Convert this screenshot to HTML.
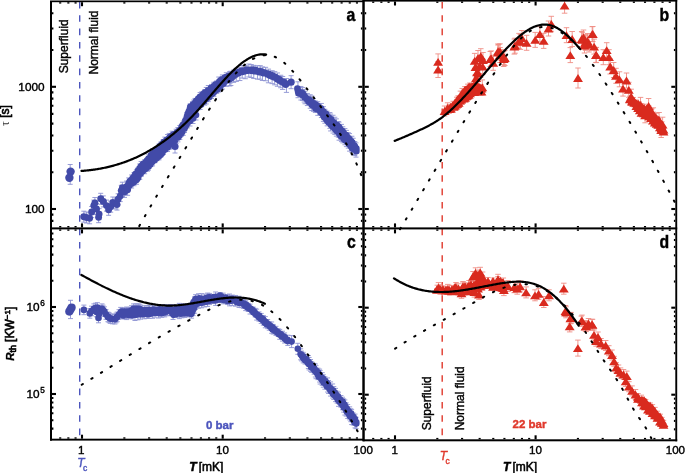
<!DOCTYPE html>
<html><head><meta charset="utf-8"><title>Figure</title>
<style>html,body{margin:0;padding:0;background:#fff;} svg{display:block;will-change:transform;} text{font-family:"Liberation Sans",sans-serif;}</style>
</head><body>
<svg width="685" height="473" viewBox="0 0 685 473" font-family="Liberation Sans, sans-serif"><line x1="79.7" y1="1.9" x2="79.7" y2="440" stroke="#4c55bd" stroke-width="1.4" stroke-dasharray="6.6 6.733"/>
<line x1="442.2" y1="1.9" x2="442.2" y2="440" stroke="#e0392c" stroke-width="1.4" stroke-dasharray="6.6 6.733"/>
<path d="M70.2,164.5V184.3M67.7,164.5H72.7M67.7,184.3H72.7" stroke="#8c92d2" stroke-width="0.9" fill="none"/>
<path d="M70.6,171.6V171.6M68.1,171.6H73.1M68.1,171.6H73.1" stroke="#8c92d2" stroke-width="0.9" fill="none"/>
<path d="M69.4,177.8V177.8M66.9,177.8H71.9M66.9,177.8H71.9" stroke="#8c92d2" stroke-width="0.9" fill="none"/>
<path d="M83.8,211.2V222.2M81.3,211.2H86.3M81.3,222.2H86.3" stroke="#8c92d2" stroke-width="0.9" fill="none"/>
<path d="M86.5,212V223M84,212H89M84,223H89" stroke="#8c92d2" stroke-width="0.9" fill="none"/>
<path d="M89.6,212.8V223.8M87.1,212.8H92.1M87.1,223.8H92.1" stroke="#8c92d2" stroke-width="0.9" fill="none"/>
<path d="M91.7,206.5V217.5M89.2,206.5H94.2M89.2,217.5H94.2" stroke="#8c92d2" stroke-width="0.9" fill="none"/>
<path d="M93.8,200.1V211.1M91.3,200.1H96.3M91.3,211.1H96.3" stroke="#8c92d2" stroke-width="0.9" fill="none"/>
<path d="M94.9,197.5V208.5M92.4,197.5H97.4M92.4,208.5H97.4" stroke="#8c92d2" stroke-width="0.9" fill="none"/>
<path d="M96.5,203.5V214.5M94,203.5H99M94,214.5H99" stroke="#8c92d2" stroke-width="0.9" fill="none"/>
<path d="M98.6,211.7V222.7M96.1,211.7H101.1M96.1,222.7H101.1" stroke="#8c92d2" stroke-width="0.9" fill="none"/>
<path d="M99.1,208.6V219.6M96.6,208.6H101.6M96.6,219.6H101.6" stroke="#8c92d2" stroke-width="0.9" fill="none"/>
<path d="M100.7,193.3V204.3M98.2,193.3H103.2M98.2,204.3H103.2" stroke="#8c92d2" stroke-width="0.9" fill="none"/>
<path d="M103.3,195.9V206.9M100.8,195.9H105.8M100.8,206.9H105.8" stroke="#8c92d2" stroke-width="0.9" fill="none"/>
<path d="M106.5,200.1V211.1M104,200.1H109M104,211.1H109" stroke="#8c92d2" stroke-width="0.9" fill="none"/>
<path d="M108.6,204.3V215.3M106.1,204.3H111.1M106.1,215.3H111.1" stroke="#8c92d2" stroke-width="0.9" fill="none"/>
<path d="M110.7,201.2V212.2M108.2,201.2H113.2M108.2,212.2H113.2" stroke="#8c92d2" stroke-width="0.9" fill="none"/>
<path d="M112.8,197V208M110.3,197H115.3M110.3,208H115.3" stroke="#8c92d2" stroke-width="0.9" fill="none"/>
<path d="M116,198V209M113.5,198H118.5M113.5,209H118.5" stroke="#8c92d2" stroke-width="0.9" fill="none"/>
<path d="M118.1,193.8V204.8M115.6,193.8H120.6M115.6,204.8H120.6" stroke="#8c92d2" stroke-width="0.9" fill="none"/>
<path d="M117,199.1V210.1M114.5,199.1H119.5M114.5,210.1H119.5" stroke="#8c92d2" stroke-width="0.9" fill="none"/>
<path d="M120.2,190.6V201.6M117.7,190.6H122.7M117.7,201.6H122.7" stroke="#8c92d2" stroke-width="0.9" fill="none"/>
<path d="M121.3,185.3V196.3M118.8,185.3H123.8M118.8,196.3H123.8" stroke="#8c92d2" stroke-width="0.9" fill="none"/>
<path d="M122.4,182.2V193.2M119.9,182.2H124.9M119.9,193.2H124.9" stroke="#8c92d2" stroke-width="0.9" fill="none"/>
<path d="M124.5,186.4V197.4M122,186.4H127M122,197.4H127" stroke="#8c92d2" stroke-width="0.9" fill="none"/>
<path d="M126.6,181.1V192.1M124.1,181.1H129.1M124.1,192.1H129.1" stroke="#8c92d2" stroke-width="0.9" fill="none"/>
<path d="M128.7,177.9V188.9M126.2,177.9H131.2M126.2,188.9H131.2" stroke="#8c92d2" stroke-width="0.9" fill="none"/>
<path d="M127.6,184.3V195.3M125.1,184.3H130.1M125.1,195.3H130.1" stroke="#8c92d2" stroke-width="0.9" fill="none"/>
<path d="M129.42,179.73V188.27M126.92,179.73H131.92M126.92,188.27H131.92" stroke="#8c92d2" stroke-width="0.9" fill="none"/>
<path d="M131.61,174.97V188.03M129.11,174.97H134.11M129.11,188.03H134.11" stroke="#8c92d2" stroke-width="0.9" fill="none"/>
<path d="M133.94,172.76V185.74M131.44,172.76H136.44M131.44,185.74H136.44" stroke="#8c92d2" stroke-width="0.9" fill="none"/>
<path d="M136.45,169.7V184.3M133.95,169.7H138.95M133.95,184.3H138.95" stroke="#8c92d2" stroke-width="0.9" fill="none"/>
<path d="M137.4,168.15V180.52M134.9,168.15H139.9M134.9,180.52H139.9" stroke="#8c92d2" stroke-width="0.9" fill="none"/>
<path d="M139.75,164V179.34M137.25,164H142.25M137.25,179.34H142.25" stroke="#8c92d2" stroke-width="0.9" fill="none"/>
<path d="M141.1,161.48V176.52M138.6,161.48H143.6M138.6,176.52H143.6" stroke="#8c92d2" stroke-width="0.9" fill="none"/>
<path d="M144.62,159.76V173.74M142.12,159.76H147.12M142.12,173.74H147.12" stroke="#8c92d2" stroke-width="0.9" fill="none"/>
<path d="M147.53,157.84V171.16M145.03,157.84H150.03M145.03,171.16H150.03" stroke="#8c92d2" stroke-width="0.9" fill="none"/>
<path d="M148.34,154.06V170.27M145.84,154.06H150.84M145.84,170.27H150.84" stroke="#8c92d2" stroke-width="0.9" fill="none"/>
<path d="M150.85,153.38V166.28M148.35,153.38H153.35M148.35,166.28H153.35" stroke="#8c92d2" stroke-width="0.9" fill="none"/>
<path d="M152.56,149.12V165.88M150.06,149.12H155.06M150.06,165.88H155.06" stroke="#8c92d2" stroke-width="0.9" fill="none"/>
<path d="M154.71,148.57V162.77M152.21,148.57H157.21M152.21,162.77H157.21" stroke="#8c92d2" stroke-width="0.9" fill="none"/>
<path d="M156.57,146.94V160.72M154.07,146.94H159.07M154.07,160.72H159.07" stroke="#8c92d2" stroke-width="0.9" fill="none"/>
<path d="M158.99,144.12V159.88M156.49,144.12H161.49M156.49,159.88H161.49" stroke="#8c92d2" stroke-width="0.9" fill="none"/>
<path d="M160.81,142.1V156.97M158.31,142.1H163.31M158.31,156.97H163.31" stroke="#8c92d2" stroke-width="0.9" fill="none"/>
<path d="M163.22,139.7V154.44M160.72,139.7H165.72M160.72,154.44H165.72" stroke="#8c92d2" stroke-width="0.9" fill="none"/>
<path d="M164.83,137.12V152.08M162.33,137.12H167.33M162.33,152.08H167.33" stroke="#8c92d2" stroke-width="0.9" fill="none"/>
<path d="M167.57,134.52V151.48M165.07,134.52H170.07M165.07,151.48H170.07" stroke="#8c92d2" stroke-width="0.9" fill="none"/>
<path d="M169.22,133.42V149.38M166.72,133.42H171.72M166.72,149.38H171.72" stroke="#8c92d2" stroke-width="0.9" fill="none"/>
<path d="M172.13,131.21V148.39M169.63,131.21H174.63M169.63,148.39H174.63" stroke="#8c92d2" stroke-width="0.9" fill="none"/>
<path d="M173.6,131.69V144.51M171.1,131.69H176.1M171.1,144.51H176.1" stroke="#8c92d2" stroke-width="0.9" fill="none"/>
<path d="M176.15,129.22V143.58M173.65,129.22H178.65M173.65,143.58H178.65" stroke="#8c92d2" stroke-width="0.9" fill="none"/>
<path d="M177.91,127.53V141.87M175.41,127.53H180.41M175.41,141.87H180.41" stroke="#8c92d2" stroke-width="0.9" fill="none"/>
<path d="M179.8,125.51V139.54M177.3,125.51H182.3M177.3,139.54H182.3" stroke="#8c92d2" stroke-width="0.9" fill="none"/>
<path d="M181.31,124.34V136.36M178.81,124.34H183.81M178.81,136.36H183.81" stroke="#8c92d2" stroke-width="0.9" fill="none"/>
<path d="M183.22,120.96V135.39M180.72,120.96H185.72M180.72,135.39H185.72" stroke="#8c92d2" stroke-width="0.9" fill="none"/>
<path d="M184.51,119.49V132.51M182.01,119.49H187.01M182.01,132.51H187.01" stroke="#8c92d2" stroke-width="0.9" fill="none"/>
<path d="M185.39,117.18V128.82M182.89,117.18H187.89M182.89,128.82H187.89" stroke="#8c92d2" stroke-width="0.9" fill="none"/>
<path d="M186.9,112.41V127.59M184.4,112.41H189.4M184.4,127.59H189.4" stroke="#8c92d2" stroke-width="0.9" fill="none"/>
<path d="M188.16,110.49V124.18M185.66,110.49H190.66M185.66,124.18H190.66" stroke="#8c92d2" stroke-width="0.9" fill="none"/>
<path d="M189.41,106.26V123.07M186.91,106.26H191.91M186.91,123.07H191.91" stroke="#8c92d2" stroke-width="0.9" fill="none"/>
<path d="M190.23,103.75V120.25M187.73,103.75H192.73M187.73,120.25H192.73" stroke="#8c92d2" stroke-width="0.9" fill="none"/>
<path d="M192.4,101.78V117.95M189.9,101.78H194.9M189.9,117.95H194.9" stroke="#8c92d2" stroke-width="0.9" fill="none"/>
<path d="M193.71,100.06V115.41M191.21,100.06H196.21M191.21,115.41H196.21" stroke="#8c92d2" stroke-width="0.9" fill="none"/>
<path d="M195.04,98.42V112.78M192.54,98.42H197.54M192.54,112.78H197.54" stroke="#8c92d2" stroke-width="0.9" fill="none"/>
<path d="M198.04,96.86V109.74M195.54,96.86H200.54M195.54,109.74H200.54" stroke="#8c92d2" stroke-width="0.9" fill="none"/>
<path d="M200.11,92.53V109.47M197.61,92.53H202.61M197.61,109.47H202.61" stroke="#8c92d2" stroke-width="0.9" fill="none"/>
<path d="M201.67,91.88V106.59M199.17,91.88H204.17M199.17,106.59H204.17" stroke="#8c92d2" stroke-width="0.9" fill="none"/>
<path d="M204.71,89.83V105.1M202.21,89.83H207.21M202.21,105.1H207.21" stroke="#8c92d2" stroke-width="0.9" fill="none"/>
<path d="M206.25,87.46V103.94M203.75,87.46H208.75M203.75,103.94H208.75" stroke="#8c92d2" stroke-width="0.9" fill="none"/>
<path d="M208.28,85.53V101.67M205.78,85.53H210.78M205.78,101.67H210.78" stroke="#8c92d2" stroke-width="0.9" fill="none"/>
<path d="M211.54,84.47V98.53M209.04,84.47H214.04M209.04,98.53H214.04" stroke="#8c92d2" stroke-width="0.9" fill="none"/>
<path d="M213.8,82.29V96.31M211.3,82.29H216.3M211.3,96.31H216.3" stroke="#8c92d2" stroke-width="0.9" fill="none"/>
<path d="M216.76,80.86V93.34M214.26,80.86H219.26M214.26,93.34H219.26" stroke="#8c92d2" stroke-width="0.9" fill="none"/>
<path d="M218.76,77.04V92.06M216.26,77.04H221.26M216.26,92.06H221.26" stroke="#8c92d2" stroke-width="0.9" fill="none"/>
<path d="M222.38,74.93V89.07M219.88,74.93H224.88M219.88,89.07H224.88" stroke="#8c92d2" stroke-width="0.9" fill="none"/>
<path d="M226.29,72.73V86.27M223.79,72.73H228.79M223.79,86.27H228.79" stroke="#8c92d2" stroke-width="0.9" fill="none"/>
<path d="M230.02,71.88V83.12M227.52,71.88H232.52M227.52,83.12H232.52" stroke="#8c92d2" stroke-width="0.9" fill="none"/>
<path d="M187,118V128M184.5,118H189.5M184.5,128H189.5" stroke="#8c92d2" stroke-width="0.9" fill="none"/>
<path d="M190,116V126M187.5,116H192.5M187.5,126H192.5" stroke="#8c92d2" stroke-width="0.9" fill="none"/>
<path d="M193,113.5V123.5M190.5,113.5H195.5M190.5,123.5H195.5" stroke="#8c92d2" stroke-width="0.9" fill="none"/>
<path d="M196,110V120M193.5,110H198.5M193.5,120H198.5" stroke="#8c92d2" stroke-width="0.9" fill="none"/>
<path d="M229.67,71.87V85.99M227.07,71.87H232.27M227.07,85.99H232.27" stroke="#8c92d2" stroke-width="0.9" fill="none"/>
<path d="M230.81,71.25V85.53M228.21,71.25H233.41M228.21,85.53H233.41" stroke="#8c92d2" stroke-width="0.9" fill="none"/>
<path d="M233.55,70.07V82.35M230.95,70.07H236.15M230.95,82.35H236.15" stroke="#8c92d2" stroke-width="0.9" fill="none"/>
<path d="M236.28,68.42V81.41M233.68,68.42H238.88M233.68,81.41H238.88" stroke="#8c92d2" stroke-width="0.9" fill="none"/>
<path d="M239.79,67.3V80.55M237.19,67.3H242.39M237.19,80.55H242.39" stroke="#8c92d2" stroke-width="0.9" fill="none"/>
<path d="M242.19,65.46V78.05M239.59,65.46H244.79M239.59,78.05H244.79" stroke="#8c92d2" stroke-width="0.9" fill="none"/>
<path d="M245.19,65.46V78.73M242.59,65.46H247.79M242.59,78.73H247.79" stroke="#8c92d2" stroke-width="0.9" fill="none"/>
<path d="M248.81,64.02V76.97M246.21,64.02H251.41M246.21,76.97H251.41" stroke="#8c92d2" stroke-width="0.9" fill="none"/>
<path d="M251.18,64.54V77.48M248.58,64.54H253.78M248.58,77.48H253.78" stroke="#8c92d2" stroke-width="0.9" fill="none"/>
<path d="M253.78,65.36V78.41M251.18,65.36H256.38M251.18,78.41H256.38" stroke="#8c92d2" stroke-width="0.9" fill="none"/>
<path d="M257.47,65.75V79.16M254.87,65.75H260.07M254.87,79.16H260.07" stroke="#8c92d2" stroke-width="0.9" fill="none"/>
<path d="M260.18,65.68V79.21M257.58,65.68H262.78M257.58,79.21H262.78" stroke="#8c92d2" stroke-width="0.9" fill="none"/>
<path d="M262.44,66.93V80.46M259.84,66.93H265.04M259.84,80.46H265.04" stroke="#8c92d2" stroke-width="0.9" fill="none"/>
<path d="M265.54,67.33V80.77M262.94,67.33H268.14M262.94,80.77H268.14" stroke="#8c92d2" stroke-width="0.9" fill="none"/>
<path d="M268.46,69.14V82.79M265.86,69.14H271.06M265.86,82.79H271.06" stroke="#8c92d2" stroke-width="0.9" fill="none"/>
<path d="M272.09,70.69V83.61M269.49,70.69H274.69M269.49,83.61H274.69" stroke="#8c92d2" stroke-width="0.9" fill="none"/>
<path d="M274.7,71.66V84.82M272.1,71.66H277.3M272.1,84.82H277.3" stroke="#8c92d2" stroke-width="0.9" fill="none"/>
<path d="M277.45,72.97V86.28M274.85,72.97H280.05M274.85,86.28H280.05" stroke="#8c92d2" stroke-width="0.9" fill="none"/>
<path d="M280.71,75.25V87.74M278.11,75.25H283.31M278.11,87.74H283.31" stroke="#8c92d2" stroke-width="0.9" fill="none"/>
<path d="M282.62,76.48V89.43M280.02,76.48H285.22M280.02,89.43H285.22" stroke="#8c92d2" stroke-width="0.9" fill="none"/>
<path d="M286.45,78.52V92.39M283.85,78.52H289.05M283.85,92.39H289.05" stroke="#8c92d2" stroke-width="0.9" fill="none"/>
<path d="M175,140V153M172.5,140H177.5M172.5,153H177.5" stroke="#8c92d2" stroke-width="0.9" fill="none"/>
<path d="M291.1,75.7V88.7M288.6,75.7H293.6M288.6,88.7H293.6" stroke="#8c92d2" stroke-width="0.9" fill="none"/>
<path d="M297.94,81.79V95.21M295.44,81.79H300.44M295.44,95.21H300.44" stroke="#8c92d2" stroke-width="0.9" fill="none"/>
<path d="M298,87.29V97.71M295.5,87.29H300.5M295.5,97.71H300.5" stroke="#8c92d2" stroke-width="0.9" fill="none"/>
<path d="M300.88,86.48V100.02M298.38,86.48H303.38M298.38,100.02H303.38" stroke="#8c92d2" stroke-width="0.9" fill="none"/>
<path d="M302.47,87.56V100.44M299.97,87.56H304.97M299.97,100.44H304.97" stroke="#8c92d2" stroke-width="0.9" fill="none"/>
<path d="M304.18,89.44V102.06M301.68,89.44H306.68M301.68,102.06H306.68" stroke="#8c92d2" stroke-width="0.9" fill="none"/>
<path d="M304.99,91.24V103.76M302.49,91.24H307.49M302.49,103.76H307.49" stroke="#8c92d2" stroke-width="0.9" fill="none"/>
<path d="M307.37,93.44V105.56M304.87,93.44H309.87M304.87,105.56H309.87" stroke="#8c92d2" stroke-width="0.9" fill="none"/>
<path d="M310.19,94.75V108.25M307.69,94.75H312.69M307.69,108.25H312.69" stroke="#8c92d2" stroke-width="0.9" fill="none"/>
<path d="M311.75,95.95V110.55M309.25,95.95H314.25M309.25,110.55H314.25" stroke="#8c92d2" stroke-width="0.9" fill="none"/>
<path d="M313.52,98.61V111.39M311.02,98.61H316.02M311.02,111.39H316.02" stroke="#8c92d2" stroke-width="0.9" fill="none"/>
<path d="M315.33,100.98V112.52M312.83,100.98H317.83M312.83,112.52H317.83" stroke="#8c92d2" stroke-width="0.9" fill="none"/>
<path d="M317.78,101.67V115.33M315.28,101.67H320.28M315.28,115.33H320.28" stroke="#8c92d2" stroke-width="0.9" fill="none"/>
<path d="M321.37,103.44V117.56M318.87,103.44H323.87M318.87,117.56H323.87" stroke="#8c92d2" stroke-width="0.9" fill="none"/>
<path d="M323.37,106.65V121.35M320.87,106.65H325.87M320.87,121.35H325.87" stroke="#8c92d2" stroke-width="0.9" fill="none"/>
<path d="M324.88,109.28V123.22M322.38,109.28H327.38M322.38,123.22H327.38" stroke="#8c92d2" stroke-width="0.9" fill="none"/>
<path d="M327.16,111.15V125.85M324.66,111.15H329.66M324.66,125.85H329.66" stroke="#8c92d2" stroke-width="0.9" fill="none"/>
<path d="M329.9,112.58V128.42M327.4,112.58H332.4M327.4,128.42H332.4" stroke="#8c92d2" stroke-width="0.9" fill="none"/>
<path d="M330.62,114.05V130.95M328.12,114.05H333.12M328.12,130.95H333.12" stroke="#8c92d2" stroke-width="0.9" fill="none"/>
<path d="M333.02,115.28V133.05M330.52,115.28H335.52M330.52,133.05H335.52" stroke="#8c92d2" stroke-width="0.9" fill="none"/>
<path d="M334.82,117.26V134.4M332.32,117.26H337.32M332.32,134.4H337.32" stroke="#8c92d2" stroke-width="0.9" fill="none"/>
<path d="M336.35,118.87V136.13M333.85,118.87H338.85M333.85,136.13H338.85" stroke="#8c92d2" stroke-width="0.9" fill="none"/>
<path d="M338.31,121.53V137.14M335.81,121.53H340.81M335.81,137.14H340.81" stroke="#8c92d2" stroke-width="0.9" fill="none"/>
<path d="M339.06,122.14V140.19M336.56,122.14H341.56M336.56,140.19H341.56" stroke="#8c92d2" stroke-width="0.9" fill="none"/>
<path d="M341.46,124.39V141.61M338.96,124.39H343.96M338.96,141.61H343.96" stroke="#8c92d2" stroke-width="0.9" fill="none"/>
<path d="M342.84,126.81V142.86M340.34,126.81H345.34M340.34,142.86H345.34" stroke="#8c92d2" stroke-width="0.9" fill="none"/>
<path d="M344.91,128.59V144.75M342.41,128.59H347.41M342.41,144.75H347.41" stroke="#8c92d2" stroke-width="0.9" fill="none"/>
<path d="M346.4,130.4V146.6M343.9,130.4H348.9M343.9,146.6H348.9" stroke="#8c92d2" stroke-width="0.9" fill="none"/>
<path d="M348.26,132.69V148.17M345.76,132.69H350.76M345.76,148.17H350.76" stroke="#8c92d2" stroke-width="0.9" fill="none"/>
<path d="M349.55,133.6V151.13M347.05,133.6H352.05M347.05,151.13H352.05" stroke="#8c92d2" stroke-width="0.9" fill="none"/>
<path d="M351.9,136.26V152.34M349.4,136.26H354.4M349.4,152.34H354.4" stroke="#8c92d2" stroke-width="0.9" fill="none"/>
<path d="M353.18,138.25V154.55M350.68,138.25H355.68M350.68,154.55H355.68" stroke="#8c92d2" stroke-width="0.9" fill="none"/>
<path d="M354.79,141.56V155.44M352.29,141.56H357.29M352.29,155.44H357.29" stroke="#8c92d2" stroke-width="0.9" fill="none"/>
<path d="M356,142.9V157.1M353.5,142.9H358.5M353.5,157.1H358.5" stroke="#8c92d2" stroke-width="0.9" fill="none"/>
<path d="M70.5,300.3V318.6M68,300.3H73M68,318.6H73" stroke="#8c92d2" stroke-width="0.9" fill="none"/>
<path d="M71.6,307.6V307.6M69.1,307.6H74.1M69.1,307.6H74.1" stroke="#8c92d2" stroke-width="0.9" fill="none"/>
<path d="M69.3,311.6V311.6M66.8,311.6H71.8M66.8,311.6H71.8" stroke="#8c92d2" stroke-width="0.9" fill="none"/>
<path d="M70.5,309.5V309.5M68,309.5H73M68,309.5H73" stroke="#8c92d2" stroke-width="0.9" fill="none"/>
<path d="M83.9,305.1V314.7M81.4,305.1H86.4M81.4,314.7H86.4" stroke="#8c92d2" stroke-width="0.9" fill="none"/>
<path d="M89.8,308.6V318.2M87.3,308.6H92.3M87.3,318.2H92.3" stroke="#8c92d2" stroke-width="0.9" fill="none"/>
<path d="M91.5,306.2V315.8M89,306.2H94M89,315.8H94" stroke="#8c92d2" stroke-width="0.9" fill="none"/>
<path d="M93.9,303.9V313.5M91.4,303.9H96.4M91.4,313.5H96.4" stroke="#8c92d2" stroke-width="0.9" fill="none"/>
<path d="M95.5,303.2V312.8M93,303.2H98M93,312.8H98" stroke="#8c92d2" stroke-width="0.9" fill="none"/>
<path d="M96.5,307.2V316.8M94,307.2H99M94,316.8H99" stroke="#8c92d2" stroke-width="0.9" fill="none"/>
<path d="M97.4,302.7V312.3M94.9,302.7H99.9M94.9,312.3H99.9" stroke="#8c92d2" stroke-width="0.9" fill="none"/>
<path d="M98.5,313.2V322.8M96,313.2H101M96,322.8H101" stroke="#8c92d2" stroke-width="0.9" fill="none"/>
<path d="M99,309.2V318.8M96.5,309.2H101.5M96.5,318.8H101.5" stroke="#8c92d2" stroke-width="0.9" fill="none"/>
<path d="M100,305.7V315.3M97.5,305.7H102.5M97.5,315.3H102.5" stroke="#8c92d2" stroke-width="0.9" fill="none"/>
<path d="M102,303.9V313.5M99.5,303.9H104.5M99.5,313.5H104.5" stroke="#8c92d2" stroke-width="0.9" fill="none"/>
<path d="M103,305.2V314.8M100.5,305.2H105.5M100.5,314.8H105.5" stroke="#8c92d2" stroke-width="0.9" fill="none"/>
<path d="M104.4,306.8V316.4M101.9,306.8H106.9M101.9,316.4H106.9" stroke="#8c92d2" stroke-width="0.9" fill="none"/>
<path d="M106,309.7V319.3M103.5,309.7H108.5M103.5,319.3H108.5" stroke="#8c92d2" stroke-width="0.9" fill="none"/>
<path d="M107.9,312.1V321.7M105.4,312.1H110.4M105.4,321.7H110.4" stroke="#8c92d2" stroke-width="0.9" fill="none"/>
<path d="M109,312.7V322.3M106.5,312.7H111.5M106.5,322.3H111.5" stroke="#8c92d2" stroke-width="0.9" fill="none"/>
<path d="M110.2,313.8V323.4M107.7,313.8H112.7M107.7,323.4H112.7" stroke="#8c92d2" stroke-width="0.9" fill="none"/>
<path d="M112.5,314.2V323.8M110,314.2H115M110,323.8H115" stroke="#8c92d2" stroke-width="0.9" fill="none"/>
<path d="M114.9,314.4V324M112.4,314.4H117.4M112.4,324H117.4" stroke="#8c92d2" stroke-width="0.9" fill="none"/>
<path d="M116,313.2V322.8M113.5,313.2H118.5M113.5,322.8H118.5" stroke="#8c92d2" stroke-width="0.9" fill="none"/>
<path d="M117.2,312.1V321.7M114.7,312.1H119.7M114.7,321.7H119.7" stroke="#8c92d2" stroke-width="0.9" fill="none"/>
<path d="M119,309.7V319.3M116.5,309.7H121.5M116.5,319.3H121.5" stroke="#8c92d2" stroke-width="0.9" fill="none"/>
<path d="M120.7,307.4V317M118.2,307.4H123.2M118.2,317H123.2" stroke="#8c92d2" stroke-width="0.9" fill="none"/>
<path d="M122.5,308.2V317.8M120,308.2H125M120,317.8H125" stroke="#8c92d2" stroke-width="0.9" fill="none"/>
<path d="M125.4,308.6V318.2M122.9,308.6H127.9M122.9,318.2H127.9" stroke="#8c92d2" stroke-width="0.9" fill="none"/>
<path d="M128,307.7V317.3M125.5,307.7H130.5M125.5,317.3H130.5" stroke="#8c92d2" stroke-width="0.9" fill="none"/>
<path d="M130.1,307.4V317M127.6,307.4H132.6M127.6,317H132.6" stroke="#8c92d2" stroke-width="0.9" fill="none"/>
<path d="M131.5,305.7V315.3M129,305.7H134M129,315.3H134" stroke="#8c92d2" stroke-width="0.9" fill="none"/>
<path d="M133.6,303.9V313.5M131.1,303.9H136.1M131.1,313.5H136.1" stroke="#8c92d2" stroke-width="0.9" fill="none"/>
<path d="M136,303.9V313.5M133.5,303.9H138.5M133.5,313.5H138.5" stroke="#8c92d2" stroke-width="0.9" fill="none"/>
<path d="M138.2,303.9V313.5M135.7,303.9H140.7M135.7,313.5H140.7" stroke="#8c92d2" stroke-width="0.9" fill="none"/>
<path d="M140,304.2V313.8M137.5,304.2H142.5M137.5,313.8H142.5" stroke="#8c92d2" stroke-width="0.9" fill="none"/>
<path d="M122.05,308.32V318.68M119.55,308.32H124.55M119.55,318.68H124.55" stroke="#8c92d2" stroke-width="0.9" fill="none"/>
<path d="M124.72,307.8V319M122.22,307.8H127.22M122.22,319H127.22" stroke="#8c92d2" stroke-width="0.9" fill="none"/>
<path d="M126.68,307.03V319.57M124.18,307.03H129.18M124.18,319.57H129.18" stroke="#8c92d2" stroke-width="0.9" fill="none"/>
<path d="M130.2,307.99V318.41M127.7,307.99H132.7M127.7,318.41H132.7" stroke="#8c92d2" stroke-width="0.9" fill="none"/>
<path d="M132.08,307.24V318.96M129.58,307.24H134.58M129.58,318.96H134.58" stroke="#8c92d2" stroke-width="0.9" fill="none"/>
<path d="M134.96,305.51V320.49M132.46,305.51H137.46M132.46,320.49H137.46" stroke="#8c92d2" stroke-width="0.9" fill="none"/>
<path d="M137.9,305.65V319.85M135.4,305.65H140.4M135.4,319.85H140.4" stroke="#8c92d2" stroke-width="0.9" fill="none"/>
<path d="M140.43,305.87V319.13M137.93,305.87H142.93M137.93,319.13H142.93" stroke="#8c92d2" stroke-width="0.9" fill="none"/>
<path d="M144.22,305.71V318.79M141.72,305.71H146.72M141.72,318.79H146.72" stroke="#8c92d2" stroke-width="0.9" fill="none"/>
<path d="M146.99,305.75V318.25M144.49,305.75H149.49M144.49,318.25H149.49" stroke="#8c92d2" stroke-width="0.9" fill="none"/>
<path d="M149.1,305.43V318.32M146.6,305.43H151.6M146.6,318.32H151.6" stroke="#8c92d2" stroke-width="0.9" fill="none"/>
<path d="M152.66,305.23V318.27M150.16,305.23H155.16M150.16,318.27H155.16" stroke="#8c92d2" stroke-width="0.9" fill="none"/>
<path d="M154.91,306.12V317.13M152.41,306.12H157.41M152.41,317.13H157.41" stroke="#8c92d2" stroke-width="0.9" fill="none"/>
<path d="M158.37,304.97V318.03M155.87,304.97H160.87M155.87,318.03H160.87" stroke="#8c92d2" stroke-width="0.9" fill="none"/>
<path d="M161.75,304.94V317.31M159.25,304.94H164.25M159.25,317.31H164.25" stroke="#8c92d2" stroke-width="0.9" fill="none"/>
<path d="M164.71,304.62V316.88M162.21,304.62H167.21M162.21,316.88H167.21" stroke="#8c92d2" stroke-width="0.9" fill="none"/>
<path d="M167.46,304.94V315.81M164.96,304.94H169.96M164.96,315.81H169.96" stroke="#8c92d2" stroke-width="0.9" fill="none"/>
<path d="M170.52,304.51V315.49M168.02,304.51H173.02M168.02,315.49H173.02" stroke="#8c92d2" stroke-width="0.9" fill="none"/>
<path d="M173.02,304.54V319.46M170.52,304.54H175.52M170.52,319.46H175.52" stroke="#8c92d2" stroke-width="0.9" fill="none"/>
<path d="M176.11,305.53V317.47M173.61,305.53H178.61M173.61,317.47H178.61" stroke="#8c92d2" stroke-width="0.9" fill="none"/>
<path d="M179.32,303.37V318.63M176.82,303.37H181.82M176.82,318.63H181.82" stroke="#8c92d2" stroke-width="0.9" fill="none"/>
<path d="M181.89,303.88V317.79M179.39,303.88H184.39M179.39,317.79H184.39" stroke="#8c92d2" stroke-width="0.9" fill="none"/>
<path d="M184.73,303.95V317.38M182.23,303.95H187.23M182.23,317.38H187.23" stroke="#8c92d2" stroke-width="0.9" fill="none"/>
<path d="M187.7,304.1V316.9M185.2,304.1H190.2M185.2,316.9H190.2" stroke="#8c92d2" stroke-width="0.9" fill="none"/>
<path d="M191.59,303.83V318.17M189.09,303.83H194.09M189.09,318.17H194.09" stroke="#8c92d2" stroke-width="0.9" fill="none"/>
<path d="M193.06,300.39V315.61M190.56,300.39H195.56M190.56,315.61H195.56" stroke="#8c92d2" stroke-width="0.9" fill="none"/>
<path d="M194.59,296.79V313.21M192.09,296.79H197.09M192.09,313.21H197.09" stroke="#8c92d2" stroke-width="0.9" fill="none"/>
<path d="M195.6,294.66V309.34M193.1,294.66H198.1M193.1,309.34H198.1" stroke="#8c92d2" stroke-width="0.9" fill="none"/>
<path d="M198.56,293.78V308.22M196.06,293.78H201.06M196.06,308.22H201.06" stroke="#8c92d2" stroke-width="0.9" fill="none"/>
<path d="M201.58,293.69V307.81M199.08,293.69H204.08M199.08,307.81H204.08" stroke="#8c92d2" stroke-width="0.9" fill="none"/>
<path d="M204.65,294.07V306.93M202.15,294.07H207.15M202.15,306.93H207.15" stroke="#8c92d2" stroke-width="0.9" fill="none"/>
<path d="M207.59,293.09V306.41M205.09,293.09H210.09M205.09,306.41H210.09" stroke="#8c92d2" stroke-width="0.9" fill="none"/>
<path d="M209.48,293.43V304.57M206.98,293.43H211.98M206.98,304.57H211.98" stroke="#8c92d2" stroke-width="0.9" fill="none"/>
<path d="M215.59,291.99V305.41M213.09,291.99H218.09M213.09,305.41H218.09" stroke="#8c92d2" stroke-width="0.9" fill="none"/>
<path d="M220.36,292.62V302.38M217.86,292.62H222.86M217.86,302.38H222.86" stroke="#8c92d2" stroke-width="0.9" fill="none"/>
<path d="M223.18,293.18V303.82M220.68,293.18H225.68M220.68,303.82H225.68" stroke="#8c92d2" stroke-width="0.9" fill="none"/>
<path d="M227.52,294.61V304.39M225.02,294.61H230.02M225.02,304.39H230.02" stroke="#8c92d2" stroke-width="0.9" fill="none"/>
<path d="M229.49,294.02V305.85M226.99,294.02H231.99M226.99,305.85H231.99" stroke="#8c92d2" stroke-width="0.9" fill="none"/>
<path d="M232.32,295.1V305.63M229.82,295.1H234.82M229.82,305.63H234.82" stroke="#8c92d2" stroke-width="0.9" fill="none"/>
<path d="M235.5,295.46V306.14M233,295.46H238M233,306.14H238" stroke="#8c92d2" stroke-width="0.9" fill="none"/>
<path d="M239.08,296.27V307.46M236.58,296.27H241.58M236.58,307.46H241.58" stroke="#8c92d2" stroke-width="0.9" fill="none"/>
<path d="M241.9,298.16V307.71M239.4,298.16H244.4M239.4,307.71H244.4" stroke="#8c92d2" stroke-width="0.9" fill="none"/>
<path d="M243.59,299.68V308.32M241.09,299.68H246.09M241.09,308.32H246.09" stroke="#8c92d2" stroke-width="0.9" fill="none"/>
<path d="M245.66,300.8V310.6M243.16,300.8H248.16M243.16,310.6H248.16" stroke="#8c92d2" stroke-width="0.9" fill="none"/>
<path d="M248.24,303.31V311.49M245.74,303.31H250.74M245.74,311.49H250.74" stroke="#8c92d2" stroke-width="0.9" fill="none"/>
<path d="M250.06,304.18V314.02M247.56,304.18H252.56M247.56,314.02H252.56" stroke="#8c92d2" stroke-width="0.9" fill="none"/>
<path d="M253.04,307.02V314.58M250.54,307.02H255.54M250.54,314.58H255.54" stroke="#8c92d2" stroke-width="0.9" fill="none"/>
<path d="M255.28,308.37V317.03M252.78,308.37H257.78M252.78,317.03H257.78" stroke="#8c92d2" stroke-width="0.9" fill="none"/>
<path d="M256.7,309.11V320.09M254.2,309.11H259.2M254.2,320.09H259.2" stroke="#8c92d2" stroke-width="0.9" fill="none"/>
<path d="M259,311.88V321.12M256.5,311.88H261.5M256.5,321.12H261.5" stroke="#8c92d2" stroke-width="0.9" fill="none"/>
<path d="M261.21,313.41V323.39M258.71,313.41H263.71M258.71,323.39H263.71" stroke="#8c92d2" stroke-width="0.9" fill="none"/>
<path d="M263.34,315.48V325.12M260.84,315.48H265.84M260.84,325.12H265.84" stroke="#8c92d2" stroke-width="0.9" fill="none"/>
<path d="M265.31,316.62V327.78M262.81,316.62H267.81M262.81,327.78H267.81" stroke="#8c92d2" stroke-width="0.9" fill="none"/>
<path d="M267.66,319.54V328.66M265.16,319.54H270.16M265.16,328.66H270.16" stroke="#8c92d2" stroke-width="0.9" fill="none"/>
<path d="M269.26,321.82V330.18M266.76,321.82H271.76M266.76,330.18H271.76" stroke="#8c92d2" stroke-width="0.9" fill="none"/>
<path d="M271.65,321.97V333.28M269.15,321.97H274.15M269.15,333.28H274.15" stroke="#8c92d2" stroke-width="0.9" fill="none"/>
<path d="M273.16,324.45V334.05M270.66,324.45H275.66M270.66,334.05H275.66" stroke="#8c92d2" stroke-width="0.9" fill="none"/>
<path d="M275.97,326.34V335.41M273.47,326.34H278.47M273.47,335.41H278.47" stroke="#8c92d2" stroke-width="0.9" fill="none"/>
<path d="M278.14,328.76V336.24M275.64,328.76H280.64M275.64,336.24H280.64" stroke="#8c92d2" stroke-width="0.9" fill="none"/>
<path d="M279.74,329.37V339.3M277.24,329.37H282.24M277.24,339.3H282.24" stroke="#8c92d2" stroke-width="0.9" fill="none"/>
<path d="M282.49,331.21V341.12M279.99,331.21H284.99M279.99,341.12H284.99" stroke="#8c92d2" stroke-width="0.9" fill="none"/>
<path d="M284.62,332.94V343.06M282.12,332.94H287.12M282.12,343.06H287.12" stroke="#8c92d2" stroke-width="0.9" fill="none"/>
<path d="M287.79,335.19V345.41M285.29,335.19H290.29M285.29,345.41H290.29" stroke="#8c92d2" stroke-width="0.9" fill="none"/>
<path d="M291.6,335.6V347.6M289.1,335.6H294.1M289.1,347.6H294.1" stroke="#8c92d2" stroke-width="0.9" fill="none"/>
<path d="M297.8,343.3V354.3M295.3,343.3H300.3M295.3,354.3H300.3" stroke="#8c92d2" stroke-width="0.9" fill="none"/>
<path d="M300.7,348.8V359.8M298.2,348.8H303.2M298.2,359.8H303.2" stroke="#8c92d2" stroke-width="0.9" fill="none"/>
<path d="M301.52,351.1V360.9M299.02,351.1H304.02M299.02,360.9H304.02" stroke="#8c92d2" stroke-width="0.9" fill="none"/>
<path d="M303.19,352.33V362.87M300.69,352.33H305.69M300.69,362.87H305.69" stroke="#8c92d2" stroke-width="0.9" fill="none"/>
<path d="M305.08,354.39V364.01M302.58,354.39H307.58M302.58,364.01H307.58" stroke="#8c92d2" stroke-width="0.9" fill="none"/>
<path d="M308.36,355.54V368.46M305.86,355.54H310.86M305.86,368.46H310.86" stroke="#8c92d2" stroke-width="0.9" fill="none"/>
<path d="M309.07,357.46V369.94M306.57,357.46H311.57M306.57,369.94H311.57" stroke="#8c92d2" stroke-width="0.9" fill="none"/>
<path d="M310.53,359.51V371.29M308.03,359.51H313.03M308.03,371.29H313.03" stroke="#8c92d2" stroke-width="0.9" fill="none"/>
<path d="M311.73,361.79V372.41M309.23,361.79H314.23M309.23,372.41H314.23" stroke="#8c92d2" stroke-width="0.9" fill="none"/>
<path d="M314.11,363.38V374.22M311.61,363.38H316.61M311.61,374.22H316.61" stroke="#8c92d2" stroke-width="0.9" fill="none"/>
<path d="M315.37,363.99V377.01M312.87,363.99H317.87M312.87,377.01H317.87" stroke="#8c92d2" stroke-width="0.9" fill="none"/>
<path d="M316.03,365.7V378.7M313.53,365.7H318.53M313.53,378.7H318.53" stroke="#8c92d2" stroke-width="0.9" fill="none"/>
<path d="M317.95,368.19V379.61M315.45,368.19H320.45M315.45,379.61H320.45" stroke="#8c92d2" stroke-width="0.9" fill="none"/>
<path d="M319.63,369.14V382.06M317.13,369.14H322.13M317.13,382.06H322.13" stroke="#8c92d2" stroke-width="0.9" fill="none"/>
<path d="M320.1,370.54V384.06M317.6,370.54H322.6M317.6,384.06H322.6" stroke="#8c92d2" stroke-width="0.9" fill="none"/>
<path d="M322.21,372.67V385.33M319.71,372.67H324.71M319.71,385.33H324.71" stroke="#8c92d2" stroke-width="0.9" fill="none"/>
<path d="M323.31,374.79V387.21M320.81,374.79H325.81M320.81,387.21H325.81" stroke="#8c92d2" stroke-width="0.9" fill="none"/>
<path d="M324.91,376.79V389.21M322.41,376.79H327.41M322.41,389.21H327.41" stroke="#8c92d2" stroke-width="0.9" fill="none"/>
<path d="M327.54,377.96V392.04M325.04,377.96H330.04M325.04,392.04H330.04" stroke="#8c92d2" stroke-width="0.9" fill="none"/>
<path d="M328.56,380.57V393.43M326.06,380.57H331.06M326.06,393.43H331.06" stroke="#8c92d2" stroke-width="0.9" fill="none"/>
<path d="M330.59,381.93V396.07M328.09,381.93H333.09M328.09,396.07H333.09" stroke="#8c92d2" stroke-width="0.9" fill="none"/>
<path d="M332.62,383.95V398.05M330.12,383.95H335.12M330.12,398.05H335.12" stroke="#8c92d2" stroke-width="0.9" fill="none"/>
<path d="M333.8,386.56V399.44M331.3,386.56H336.3M331.3,399.44H336.3" stroke="#8c92d2" stroke-width="0.9" fill="none"/>
<path d="M335.52,388.38V401.62M333.02,388.38H338.02M333.02,401.62H338.02" stroke="#8c92d2" stroke-width="0.9" fill="none"/>
<path d="M337.09,391.2V403.05M334.59,391.2H339.59M334.59,403.05H339.59" stroke="#8c92d2" stroke-width="0.9" fill="none"/>
<path d="M338.5,392.17V406.33M336,392.17H341M336,406.33H341" stroke="#8c92d2" stroke-width="0.9" fill="none"/>
<path d="M340.93,395.55V407.2M338.43,395.55H343.43M338.43,407.2H343.43" stroke="#8c92d2" stroke-width="0.9" fill="none"/>
<path d="M342.54,397.22V409.78M340.04,397.22H345.04M340.04,409.78H345.04" stroke="#8c92d2" stroke-width="0.9" fill="none"/>
<path d="M343.69,398.87V412.13M341.19,398.87H346.19M341.19,412.13H346.19" stroke="#8c92d2" stroke-width="0.9" fill="none"/>
<path d="M344.88,399.95V415.05M342.38,399.95H347.38M342.38,415.05H347.38" stroke="#8c92d2" stroke-width="0.9" fill="none"/>
<path d="M346.27,402.92V416.08M343.77,402.92H348.77M343.77,416.08H348.77" stroke="#8c92d2" stroke-width="0.9" fill="none"/>
<path d="M347.73,404.52V418.48M345.23,404.52H350.23M345.23,418.48H350.23" stroke="#8c92d2" stroke-width="0.9" fill="none"/>
<path d="M349.67,406.87V419.88M347.17,406.87H352.17M347.17,419.88H352.17" stroke="#8c92d2" stroke-width="0.9" fill="none"/>
<path d="M350.82,408.8V421.7M348.32,408.8H353.32M348.32,421.7H353.32" stroke="#8c92d2" stroke-width="0.9" fill="none"/>
<path d="M351.65,409.69V424.56M349.15,409.69H354.15M349.15,424.56H354.15" stroke="#8c92d2" stroke-width="0.9" fill="none"/>
<path d="M353.17,413V425M350.67,413H355.67M350.67,425H355.67" stroke="#8c92d2" stroke-width="0.9" fill="none"/>
<path d="M355.04,414.1V427.9M352.54,414.1H357.54M352.54,427.9H357.54" stroke="#8c92d2" stroke-width="0.9" fill="none"/>
<path d="M356.1,417.3V428.7M353.6,417.3H358.6M353.6,428.7H358.6" stroke="#8c92d2" stroke-width="0.9" fill="none"/>
<path d="M438.1,53.9V69.9M435.35,53.9H440.85M435.35,69.9H440.85" stroke="#ef8d84" stroke-width="0.9" fill="none"/>
<path d="M438.1,61.5V77.5M435.35,61.5H440.85M435.35,77.5H440.85" stroke="#ef8d84" stroke-width="0.9" fill="none"/>
<path d="M449.29,104.55V113.45M446.79,104.55H451.79M446.79,113.45H451.79" stroke="#ef8d84" stroke-width="0.9" fill="none"/>
<path d="M453.03,101.31V111.69M450.53,101.31H455.53M450.53,111.69H455.53" stroke="#ef8d84" stroke-width="0.9" fill="none"/>
<path d="M456.51,97.22V108.78M454.01,97.22H459.01M454.01,108.78H459.01" stroke="#ef8d84" stroke-width="0.9" fill="none"/>
<path d="M457.96,95.79V105.71M455.46,95.79H460.46M455.46,105.71H460.46" stroke="#ef8d84" stroke-width="0.9" fill="none"/>
<path d="M460.18,91.11V105.89M457.68,91.11H462.68M457.68,105.89H462.68" stroke="#ef8d84" stroke-width="0.9" fill="none"/>
<path d="M462.04,88.45V104.05M459.54,88.45H464.54M459.54,104.05H464.54" stroke="#ef8d84" stroke-width="0.9" fill="none"/>
<path d="M464.7,86.56V101.44M462.2,86.56H467.2M462.2,101.44H467.2" stroke="#ef8d84" stroke-width="0.9" fill="none"/>
<path d="M467.59,84.16V99.84M465.09,84.16H470.09M465.09,99.84H470.09" stroke="#ef8d84" stroke-width="0.9" fill="none"/>
<path d="M469.66,82.97V97.03M467.16,82.97H472.16M467.16,97.03H472.16" stroke="#ef8d84" stroke-width="0.9" fill="none"/>
<path d="M474.5,80.94V95.06M472,80.94H477M472,95.06H477" stroke="#ef8d84" stroke-width="0.9" fill="none"/>
<path d="M477.59,81.77V95.23M475.09,81.77H480.09M475.09,95.23H480.09" stroke="#ef8d84" stroke-width="0.9" fill="none"/>
<path d="M481.07,84.61V95.39M478.57,84.61H483.57M478.57,95.39H483.57" stroke="#ef8d84" stroke-width="0.9" fill="none"/>
<path d="M447.6,102.8V112.8M444.85,102.8H450.35M444.85,112.8H450.35" stroke="#ef8d84" stroke-width="0.9" fill="none"/>
<path d="M444.6,106V116M441.85,106H447.35M441.85,116H447.35" stroke="#ef8d84" stroke-width="0.9" fill="none"/>
<path d="M474.7,53.4V68.4M471.95,53.4H477.45M471.95,68.4H477.45" stroke="#ef8d84" stroke-width="0.9" fill="none"/>
<path d="M477,64.8V79.8M474.25,64.8H479.75M474.25,79.8H479.75" stroke="#ef8d84" stroke-width="0.9" fill="none"/>
<path d="M478.5,66.1V81.1M475.75,66.1H481.25M475.75,81.1H481.25" stroke="#ef8d84" stroke-width="0.9" fill="none"/>
<path d="M479.8,58.5V73.5M477.05,58.5H482.55M477.05,73.5H482.55" stroke="#ef8d84" stroke-width="0.9" fill="none"/>
<path d="M480.8,48.7V63.7M478.05,48.7H483.55M478.05,63.7H483.55" stroke="#ef8d84" stroke-width="0.9" fill="none"/>
<path d="M482.7,59.1V74.1M479.95,59.1H485.45M479.95,74.1H485.45" stroke="#ef8d84" stroke-width="0.9" fill="none"/>
<path d="M476.1,70.5V85.5M473.35,70.5H478.85M473.35,85.5H478.85" stroke="#ef8d84" stroke-width="0.9" fill="none"/>
<path d="M482.3,79.9V94.9M479.55,79.9H485.05M479.55,94.9H485.05" stroke="#ef8d84" stroke-width="0.9" fill="none"/>
<path d="M475.5,59.5V74.5M472.75,59.5H478.25M472.75,74.5H478.25" stroke="#ef8d84" stroke-width="0.9" fill="none"/>
<path d="M483,52.5V67.5M480.25,52.5H485.75M480.25,67.5H485.75" stroke="#ef8d84" stroke-width="0.9" fill="none"/>
<path d="M478,50.5V65.5M475.25,50.5H480.75M475.25,65.5H480.75" stroke="#ef8d84" stroke-width="0.9" fill="none"/>
<path d="M490.3,51.5V66.5M487.55,51.5H493.05M487.55,66.5H493.05" stroke="#ef8d84" stroke-width="0.9" fill="none"/>
<path d="M491.2,50.9V65.9M488.45,50.9H493.95M488.45,65.9H493.95" stroke="#ef8d84" stroke-width="0.9" fill="none"/>
<path d="M493.2,55.3V70.3M490.45,55.3H495.95M490.45,70.3H495.95" stroke="#ef8d84" stroke-width="0.9" fill="none"/>
<path d="M498,43.9V58.9M495.25,43.9H500.75M495.25,58.9H500.75" stroke="#ef8d84" stroke-width="0.9" fill="none"/>
<path d="M498.8,44.5V59.5M496.05,44.5H501.55M496.05,59.5H501.55" stroke="#ef8d84" stroke-width="0.9" fill="none"/>
<path d="M503.7,51.5V66.5M500.95,51.5H506.45M500.95,66.5H506.45" stroke="#ef8d84" stroke-width="0.9" fill="none"/>
<path d="M503.9,49.6V64.6M501.15,49.6H506.65M501.15,64.6H506.65" stroke="#ef8d84" stroke-width="0.9" fill="none"/>
<path d="M504.8,50.5V65.5M502.05,50.5H507.55M502.05,65.5H507.55" stroke="#ef8d84" stroke-width="0.9" fill="none"/>
<path d="M500,43.8V58.8M497.25,43.8H502.75M497.25,58.8H502.75" stroke="#ef8d84" stroke-width="0.9" fill="none"/>
<path d="M514.3,39.1V54.1M511.55,39.1H517.05M511.55,54.1H517.05" stroke="#ef8d84" stroke-width="0.9" fill="none"/>
<path d="M515,38.2V53.2M512.25,38.2H517.75M512.25,53.2H517.75" stroke="#ef8d84" stroke-width="0.9" fill="none"/>
<path d="M519,33.4V48.4M516.25,33.4H521.75M516.25,48.4H521.75" stroke="#ef8d84" stroke-width="0.9" fill="none"/>
<path d="M520.4,34.4V49.4M517.65,34.4H523.15M517.65,49.4H523.15" stroke="#ef8d84" stroke-width="0.9" fill="none"/>
<path d="M521.9,30.5V45.5M519.15,30.5H524.65M519.15,45.5H524.65" stroke="#ef8d84" stroke-width="0.9" fill="none"/>
<path d="M526.6,35.3V50.3M523.85,35.3H529.35M523.85,50.3H529.35" stroke="#ef8d84" stroke-width="0.9" fill="none"/>
<path d="M535.2,32.4V47.4M532.45,32.4H537.95M532.45,47.4H537.95" stroke="#ef8d84" stroke-width="0.9" fill="none"/>
<path d="M539.9,26.7V41.7M537.15,26.7H542.65M537.15,41.7H542.65" stroke="#ef8d84" stroke-width="0.9" fill="none"/>
<path d="M543.7,33.4V48.4M540.95,33.4H546.45M540.95,48.4H546.45" stroke="#ef8d84" stroke-width="0.9" fill="none"/>
<path d="M548.5,21V36M545.75,21H551.25M545.75,36H551.25" stroke="#ef8d84" stroke-width="0.9" fill="none"/>
<path d="M551.3,16.3V31.3M548.55,16.3H554.05M548.55,31.3H554.05" stroke="#ef8d84" stroke-width="0.9" fill="none"/>
<path d="M564.6,-1.8V13.2M561.85,-1.8H567.35M561.85,13.2H567.35" stroke="#ef8d84" stroke-width="0.9" fill="none"/>
<path d="M566.5,27.7V42.7M563.75,27.7H569.25M563.75,42.7H569.25" stroke="#ef8d84" stroke-width="0.9" fill="none"/>
<path d="M572.2,31.5V46.5M569.45,31.5H574.95M569.45,46.5H574.95" stroke="#ef8d84" stroke-width="0.9" fill="none"/>
<path d="M570.3,47.6V62.6M567.55,47.6H573.05M567.55,62.6H573.05" stroke="#ef8d84" stroke-width="0.9" fill="none"/>
<path d="M578,68V88M575.25,68H580.75M575.25,88H580.75" stroke="#ef8d84" stroke-width="0.9" fill="none"/>
<path d="M581.7,31.5V46.5M578.95,31.5H584.45M578.95,46.5H584.45" stroke="#ef8d84" stroke-width="0.9" fill="none"/>
<path d="M582.3,32.3V47.3M579.55,32.3H585.05M579.55,47.3H585.05" stroke="#ef8d84" stroke-width="0.9" fill="none"/>
<path d="M585.6,35.3V50.3M582.85,35.3H588.35M582.85,50.3H588.35" stroke="#ef8d84" stroke-width="0.9" fill="none"/>
<path d="M585.8,34.6V49.6M583.05,34.6H588.55M583.05,49.6H588.55" stroke="#ef8d84" stroke-width="0.9" fill="none"/>
<path d="M583.5,30V45M580.75,30H586.25M580.75,45H586.25" stroke="#ef8d84" stroke-width="0.9" fill="none"/>
<path d="M587.5,33.5V48.5M584.75,33.5H590.25M584.75,48.5H590.25" stroke="#ef8d84" stroke-width="0.9" fill="none"/>
<path d="M589,37V52M586.25,37H591.75M586.25,52H591.75" stroke="#ef8d84" stroke-width="0.9" fill="none"/>
<path d="M584.5,38V53M581.75,38H587.25M581.75,53H587.25" stroke="#ef8d84" stroke-width="0.9" fill="none"/>
<path d="M498,45V60M495.25,45H500.75M495.25,60H500.75" stroke="#ef8d84" stroke-width="0.9" fill="none"/>
<path d="M500,47.5V62.5M497.25,47.5H502.75M497.25,62.5H502.75" stroke="#ef8d84" stroke-width="0.9" fill="none"/>
<path d="M592.2,26.7V41.7M589.45,26.7H594.95M589.45,41.7H594.95" stroke="#ef8d84" stroke-width="0.9" fill="none"/>
<path d="M592.8,26.5V41.5M590.05,26.5H595.55M590.05,41.5H595.55" stroke="#ef8d84" stroke-width="0.9" fill="none"/>
<path d="M594.1,39.1V54.1M591.35,39.1H596.85M591.35,54.1H596.85" stroke="#ef8d84" stroke-width="0.9" fill="none"/>
<path d="M596,47.6V62.6M593.25,47.6H598.75M593.25,62.6H598.75" stroke="#ef8d84" stroke-width="0.9" fill="none"/>
<path d="M596.3,47.4V62.4M593.55,47.4H599.05M593.55,62.4H599.05" stroke="#ef8d84" stroke-width="0.9" fill="none"/>
<path d="M603.3,49.7V64.7M600.55,49.7H606.05M600.55,64.7H606.05" stroke="#ef8d84" stroke-width="0.9" fill="none"/>
<path d="M606.7,42.7V57.7M603.95,42.7H609.45M603.95,57.7H609.45" stroke="#ef8d84" stroke-width="0.9" fill="none"/>
<path d="M609,49.7V64.7M606.25,49.7H611.75M606.25,64.7H611.75" stroke="#ef8d84" stroke-width="0.9" fill="none"/>
<path d="M610.2,59V74M607.45,59H612.95M607.45,74H612.95" stroke="#ef8d84" stroke-width="0.9" fill="none"/>
<path d="M613.7,62.5V77.5M610.95,62.5H616.45M610.95,77.5H616.45" stroke="#ef8d84" stroke-width="0.9" fill="none"/>
<path d="M616,68.3V83.3M613.25,68.3H618.75M613.25,83.3H618.75" stroke="#ef8d84" stroke-width="0.9" fill="none"/>
<path d="M619.5,71.8V86.8M616.75,71.8H622.25M616.75,86.8H622.25" stroke="#ef8d84" stroke-width="0.9" fill="none"/>
<path d="M623,81.1V96.1M620.25,81.1H625.75M620.25,96.1H625.75" stroke="#ef8d84" stroke-width="0.9" fill="none"/>
<path d="M626.5,73V88M623.75,73H629.25M623.75,88H629.25" stroke="#ef8d84" stroke-width="0.9" fill="none"/>
<path d="M628.8,82.3V97.3M626.05,82.3H631.55M626.05,97.3H631.55" stroke="#ef8d84" stroke-width="0.9" fill="none"/>
<path d="M631.2,89.2V104.2M628.45,89.2H633.95M628.45,104.2H633.95" stroke="#ef8d84" stroke-width="0.9" fill="none"/>
<path d="M640.5,97.4V112.4M637.75,97.4H643.25M637.75,112.4H643.25" stroke="#ef8d84" stroke-width="0.9" fill="none"/>
<path d="M648.6,98.5V113.5M645.85,98.5H651.35M645.85,113.5H651.35" stroke="#ef8d84" stroke-width="0.9" fill="none"/>
<path d="M645.1,107.8V122.8M642.35,107.8H647.85M642.35,122.8H647.85" stroke="#ef8d84" stroke-width="0.9" fill="none"/>
<path d="M653.3,107.8V122.8M650.55,107.8H656.05M650.55,122.8H656.05" stroke="#ef8d84" stroke-width="0.9" fill="none"/>
<path d="M659.1,112.5V127.5M656.35,112.5H661.85M656.35,127.5H661.85" stroke="#ef8d84" stroke-width="0.9" fill="none"/>
<path d="M662.6,117.2V132.2M659.85,117.2H665.35M659.85,132.2H665.35" stroke="#ef8d84" stroke-width="0.9" fill="none"/>
<path d="M661.2,122.5V137.5M658.45,122.5H663.95M658.45,137.5H663.95" stroke="#ef8d84" stroke-width="0.9" fill="none"/>
<path d="M629.53,96.18V101.82M627.03,96.18H632.03M627.03,101.82H632.03" stroke="#ef8d84" stroke-width="0.9" fill="none"/>
<path d="M633.42,97.46V105.54M630.92,97.46H635.92M630.92,105.54H635.92" stroke="#ef8d84" stroke-width="0.9" fill="none"/>
<path d="M635.93,100.02V107.98M633.43,100.02H638.43M633.43,107.98H638.43" stroke="#ef8d84" stroke-width="0.9" fill="none"/>
<path d="M639.26,101.69V111.81M636.76,101.69H641.76M636.76,111.81H641.76" stroke="#ef8d84" stroke-width="0.9" fill="none"/>
<path d="M641.79,103.71V115.29M639.29,103.71H644.29M639.29,115.29H644.29" stroke="#ef8d84" stroke-width="0.9" fill="none"/>
<path d="M644.86,104.18V118.32M642.36,104.18H647.36M642.36,118.32H647.36" stroke="#ef8d84" stroke-width="0.9" fill="none"/>
<path d="M649.04,105.93V120.07M646.54,105.93H651.54M646.54,120.07H651.54" stroke="#ef8d84" stroke-width="0.9" fill="none"/>
<path d="M652.23,108.84V122.16M649.73,108.84H654.73M649.73,122.16H654.73" stroke="#ef8d84" stroke-width="0.9" fill="none"/>
<path d="M653.59,112.15V123.85M651.09,112.15H656.09M651.09,123.85H656.09" stroke="#ef8d84" stroke-width="0.9" fill="none"/>
<path d="M656.58,113.12V127.88M654.08,113.12H659.08M654.08,127.88H659.08" stroke="#ef8d84" stroke-width="0.9" fill="none"/>
<path d="M658.9,118.35V129.15M656.4,118.35H661.4M656.4,129.15H661.4" stroke="#ef8d84" stroke-width="0.9" fill="none"/>
<path d="M662.05,121.77V132.23M659.55,121.77H664.55M659.55,132.23H664.55" stroke="#ef8d84" stroke-width="0.9" fill="none"/>
<path d="M663.16,127.08V133.92M660.66,127.08H665.66M660.66,133.92H665.66" stroke="#ef8d84" stroke-width="0.9" fill="none"/>
<path d="M437.07,285.2V292.8M434.57,285.2H439.57M434.57,292.8H439.57" stroke="#ef8d84" stroke-width="0.9" fill="none"/>
<path d="M439.96,284.7V294.3M437.46,284.7H442.46M437.46,294.3H442.46" stroke="#ef8d84" stroke-width="0.9" fill="none"/>
<path d="M443.1,285.98V294.02M440.6,285.98H445.6M440.6,294.02H445.6" stroke="#ef8d84" stroke-width="0.9" fill="none"/>
<path d="M446.01,286.38V293.62M443.51,286.38H448.51M443.51,293.62H448.51" stroke="#ef8d84" stroke-width="0.9" fill="none"/>
<path d="M449.35,285.24V294.76M446.85,285.24H451.85M446.85,294.76H451.85" stroke="#ef8d84" stroke-width="0.9" fill="none"/>
<path d="M451.76,285.71V293.59M449.26,285.71H454.26M449.26,293.59H454.26" stroke="#ef8d84" stroke-width="0.9" fill="none"/>
<path d="M455.37,285.12V293.48M452.87,285.12H457.87M452.87,293.48H457.87" stroke="#ef8d84" stroke-width="0.9" fill="none"/>
<path d="M457.95,283.76V295.04M455.45,283.76H460.45M455.45,295.04H460.45" stroke="#ef8d84" stroke-width="0.9" fill="none"/>
<path d="M462.56,283.04V295.96M460.06,283.04H465.06M460.06,295.96H465.06" stroke="#ef8d84" stroke-width="0.9" fill="none"/>
<path d="M465.14,282.94V295.06M462.64,282.94H467.64M462.64,295.06H467.64" stroke="#ef8d84" stroke-width="0.9" fill="none"/>
<path d="M467.42,283.19V293.81M464.92,283.19H469.92M464.92,293.81H469.92" stroke="#ef8d84" stroke-width="0.9" fill="none"/>
<path d="M470.47,281.44V294.56M467.97,281.44H472.97M467.97,294.56H472.97" stroke="#ef8d84" stroke-width="0.9" fill="none"/>
<path d="M473.69,281.12V293.88M471.19,281.12H476.19M471.19,293.88H476.19" stroke="#ef8d84" stroke-width="0.9" fill="none"/>
<path d="M477.96,278.44V291.56M475.46,278.44H480.46M475.46,291.56H480.46" stroke="#ef8d84" stroke-width="0.9" fill="none"/>
<path d="M483.41,277.12V288.88M480.91,277.12H485.91M480.91,288.88H485.91" stroke="#ef8d84" stroke-width="0.9" fill="none"/>
<path d="M488.17,277.46V288.54M485.67,277.46H490.67M485.67,288.54H490.67" stroke="#ef8d84" stroke-width="0.9" fill="none"/>
<path d="M493.19,278V290M490.69,278H495.69M490.69,290H495.69" stroke="#ef8d84" stroke-width="0.9" fill="none"/>
<path d="M497.73,276.59V289.41M495.23,276.59H500.23M495.23,289.41H500.23" stroke="#ef8d84" stroke-width="0.9" fill="none"/>
<path d="M503.59,278V293M501.09,278H506.09M501.09,293H506.09" stroke="#ef8d84" stroke-width="0.9" fill="none"/>
<path d="M475.5,267.8V277.8M472.75,267.8H478.25M472.75,277.8H478.25" stroke="#ef8d84" stroke-width="0.9" fill="none"/>
<path d="M480.2,267.3V277.3M477.45,267.3H482.95M477.45,277.3H482.95" stroke="#ef8d84" stroke-width="0.9" fill="none"/>
<path d="M478,270V280M475.25,270H480.75M475.25,280H480.75" stroke="#ef8d84" stroke-width="0.9" fill="none"/>
<path d="M482.6,272V282M479.85,272H485.35M479.85,282H485.35" stroke="#ef8d84" stroke-width="0.9" fill="none"/>
<path d="M473,271.5V281.5M470.25,271.5H475.75M470.25,281.5H475.75" stroke="#ef8d84" stroke-width="0.9" fill="none"/>
<path d="M474.4,287.1V297.1M471.65,287.1H477.15M471.65,297.1H477.15" stroke="#ef8d84" stroke-width="0.9" fill="none"/>
<path d="M479,289.5V299.5M476.25,289.5H481.75M476.25,299.5H481.75" stroke="#ef8d84" stroke-width="0.9" fill="none"/>
<path d="M461.5,288.3V298.3M458.75,288.3H464.25M458.75,298.3H464.25" stroke="#ef8d84" stroke-width="0.9" fill="none"/>
<path d="M438.5,282.6V292.6M435.75,282.6H441.25M435.75,292.6H441.25" stroke="#ef8d84" stroke-width="0.9" fill="none"/>
<path d="M447.8,284.4V294.4M445.05,284.4H450.55M445.05,294.4H450.55" stroke="#ef8d84" stroke-width="0.9" fill="none"/>
<path d="M456,282.5V292.5M453.25,282.5H458.75M453.25,292.5H458.75" stroke="#ef8d84" stroke-width="0.9" fill="none"/>
<path d="M463,281.5V291.5M460.25,281.5H465.75M460.25,291.5H465.75" stroke="#ef8d84" stroke-width="0.9" fill="none"/>
<path d="M469,280.5V290.5M466.25,280.5H471.75M466.25,290.5H471.75" stroke="#ef8d84" stroke-width="0.9" fill="none"/>
<path d="M498,274.3V285.3M495.25,274.3H500.75M495.25,285.3H500.75" stroke="#ef8d84" stroke-width="0.9" fill="none"/>
<path d="M503.9,284.6V295.6M501.15,284.6H506.65M501.15,295.6H506.65" stroke="#ef8d84" stroke-width="0.9" fill="none"/>
<path d="M499.4,280.2V291.2M496.65,280.2H502.15M496.65,291.2H502.15" stroke="#ef8d84" stroke-width="0.9" fill="none"/>
<path d="M508,280.5V291.5M505.25,280.5H510.75M505.25,291.5H510.75" stroke="#ef8d84" stroke-width="0.9" fill="none"/>
<path d="M514.2,281.7V292.7M511.45,281.7H516.95M511.45,292.7H516.95" stroke="#ef8d84" stroke-width="0.9" fill="none"/>
<path d="M520.1,280.9V291.9M517.35,280.9H522.85M517.35,291.9H522.85" stroke="#ef8d84" stroke-width="0.9" fill="none"/>
<path d="M517.2,283.2V294.2M514.45,283.2H519.95M514.45,294.2H519.95" stroke="#ef8d84" stroke-width="0.9" fill="none"/>
<path d="M526.1,286.9V297.9M523.35,286.9H528.85M523.35,297.9H528.85" stroke="#ef8d84" stroke-width="0.9" fill="none"/>
<path d="M535,289.8V300.8M532.25,289.8H537.75M532.25,300.8H537.75" stroke="#ef8d84" stroke-width="0.9" fill="none"/>
<path d="M538.6,288.3V299.3M535.85,288.3H541.35M535.85,299.3H541.35" stroke="#ef8d84" stroke-width="0.9" fill="none"/>
<path d="M543.8,296.5V307.5M541.05,296.5H546.55M541.05,307.5H546.55" stroke="#ef8d84" stroke-width="0.9" fill="none"/>
<path d="M549,289.8V300.8M546.25,289.8H551.75M546.25,300.8H551.75" stroke="#ef8d84" stroke-width="0.9" fill="none"/>
<path d="M563.8,283.2V294.2M561.05,283.2H566.55M561.05,294.2H566.55" stroke="#ef8d84" stroke-width="0.9" fill="none"/>
<path d="M566,306.8V317.8M563.25,306.8H568.75M563.25,317.8H568.75" stroke="#ef8d84" stroke-width="0.9" fill="none"/>
<path d="M570.4,312.8V323.8M567.65,312.8H573.15M567.65,323.8H573.15" stroke="#ef8d84" stroke-width="0.9" fill="none"/>
<path d="M569.7,320.9V331.9M566.95,320.9H572.45M566.95,331.9H572.45" stroke="#ef8d84" stroke-width="0.9" fill="none"/>
<path d="M565.5,305.5V316.5M562.75,305.5H568.25M562.75,316.5H568.25" stroke="#ef8d84" stroke-width="0.9" fill="none"/>
<path d="M571,312.4V323.4M568.25,312.4H573.75M568.25,323.4H573.75" stroke="#ef8d84" stroke-width="0.9" fill="none"/>
<path d="M582,315.1V326.1M579.25,315.1H584.75M579.25,326.1H584.75" stroke="#ef8d84" stroke-width="0.9" fill="none"/>
<path d="M586.1,320.6V331.6M583.35,320.6H588.85M583.35,331.6H588.85" stroke="#ef8d84" stroke-width="0.9" fill="none"/>
<path d="M592.5,319.3V330.3M589.75,319.3H595.25M589.75,330.3H595.25" stroke="#ef8d84" stroke-width="0.9" fill="none"/>
<path d="M577.9,340.1V356.1M575.15,340.1H580.65M575.15,356.1H580.65" stroke="#ef8d84" stroke-width="0.9" fill="none"/>
<path d="M581.3,316.1V326.1M578.55,316.1H584.05M578.55,326.1H584.05" stroke="#ef8d84" stroke-width="0.9" fill="none"/>
<path d="M585.6,321.5V331.5M582.85,321.5H588.35M582.85,331.5H588.35" stroke="#ef8d84" stroke-width="0.9" fill="none"/>
<path d="M588.5,318.5V328.5M585.75,318.5H591.25M585.75,328.5H591.25" stroke="#ef8d84" stroke-width="0.9" fill="none"/>
<path d="M591.9,319.3V329.3M589.15,319.3H594.65M589.15,329.3H594.65" stroke="#ef8d84" stroke-width="0.9" fill="none"/>
<path d="M594,329.9V339.9M591.25,329.9H596.75M591.25,339.9H596.75" stroke="#ef8d84" stroke-width="0.9" fill="none"/>
<path d="M596.1,336.2V346.2M593.35,336.2H598.85M593.35,346.2H598.85" stroke="#ef8d84" stroke-width="0.9" fill="none"/>
<path d="M598,332V342M595.25,332H600.75M595.25,342H600.75" stroke="#ef8d84" stroke-width="0.9" fill="none"/>
<path d="M601,338.5V348.5M598.25,338.5H603.75M598.25,348.5H603.75" stroke="#ef8d84" stroke-width="0.9" fill="none"/>
<path d="M605.7,340.5V350.5M602.95,340.5H608.45M602.95,350.5H608.45" stroke="#ef8d84" stroke-width="0.9" fill="none"/>
<path d="M608.8,345.7V355.7M606.05,345.7H611.55M606.05,355.7H611.55" stroke="#ef8d84" stroke-width="0.9" fill="none"/>
<path d="M612,350V360M609.25,350H614.75M609.25,360H614.75" stroke="#ef8d84" stroke-width="0.9" fill="none"/>
<path d="M614.1,356.3V366.3M611.35,356.3H616.85M611.35,366.3H616.85" stroke="#ef8d84" stroke-width="0.9" fill="none"/>
<path d="M616.2,362.7V372.7M613.45,362.7H618.95M613.45,372.7H618.95" stroke="#ef8d84" stroke-width="0.9" fill="none"/>
<path d="M618.5,365V375M615.75,365H621.25M615.75,375H621.25" stroke="#ef8d84" stroke-width="0.9" fill="none"/>
<path d="M620.5,367.9V377.9M617.75,367.9H623.25M617.75,377.9H623.25" stroke="#ef8d84" stroke-width="0.9" fill="none"/>
<path d="M623.5,369.5V379.5M620.75,369.5H626.25M620.75,379.5H626.25" stroke="#ef8d84" stroke-width="0.9" fill="none"/>
<path d="M626.8,371.1V381.1M624.05,371.1H629.55M624.05,381.1H629.55" stroke="#ef8d84" stroke-width="0.9" fill="none"/>
<path d="M625.7,376.4V386.4M622.95,376.4H628.45M622.95,386.4H628.45" stroke="#ef8d84" stroke-width="0.9" fill="none"/>
<path d="M628.9,381.7V391.7M626.15,381.7H631.65M626.15,391.7H631.65" stroke="#ef8d84" stroke-width="0.9" fill="none"/>
<path d="M632.1,385.9V395.9M629.35,385.9H634.85M629.35,395.9H634.85" stroke="#ef8d84" stroke-width="0.9" fill="none"/>
<path d="M635.5,389.5V399.5M632.75,389.5H638.25M632.75,399.5H638.25" stroke="#ef8d84" stroke-width="0.9" fill="none"/>
<path d="M638.19,393.55V402.45M635.69,393.55H640.69M635.69,402.45H640.69" stroke="#ef8d84" stroke-width="0.9" fill="none"/>
<path d="M641.57,395.17V406.83M639.07,395.17H644.07M639.07,406.83H644.07" stroke="#ef8d84" stroke-width="0.9" fill="none"/>
<path d="M645.85,399.48V409.52M643.35,399.48H648.35M643.35,409.52H648.35" stroke="#ef8d84" stroke-width="0.9" fill="none"/>
<path d="M650.37,402.95V414.05M647.87,402.95H652.87M647.87,414.05H652.87" stroke="#ef8d84" stroke-width="0.9" fill="none"/>
<path d="M652.62,404.62V417.38M650.12,404.62H655.12M650.12,417.38H655.12" stroke="#ef8d84" stroke-width="0.9" fill="none"/>
<path d="M655.19,407.38V419.62M652.69,407.38H657.69M652.69,419.62H657.69" stroke="#ef8d84" stroke-width="0.9" fill="none"/>
<path d="M657.43,411.21V421.29M654.93,411.21H659.93M654.93,421.29H659.93" stroke="#ef8d84" stroke-width="0.9" fill="none"/>
<path d="M660.49,414.18V423.82M657.99,414.18H662.99M657.99,423.82H662.99" stroke="#ef8d84" stroke-width="0.9" fill="none"/>
<path d="M662.13,417.38V425.62M659.63,417.38H664.63M659.63,425.62H664.63" stroke="#ef8d84" stroke-width="0.9" fill="none"/>
<path d="M663.72,420.35V427.65M661.22,420.35H666.22M661.22,427.65H666.22" stroke="#ef8d84" stroke-width="0.9" fill="none"/>
<circle cx="70.6" cy="171.6" r="4.2" fill="#424aa8"/>
<circle cx="69.4" cy="177.8" r="4.2" fill="#424aa8"/>
<circle cx="83.8" cy="216.7" r="3.45" fill="#424aa8"/>
<circle cx="86.5" cy="217.5" r="3.45" fill="#424aa8"/>
<circle cx="89.6" cy="218.3" r="3.45" fill="#424aa8"/>
<circle cx="91.7" cy="212" r="3.45" fill="#424aa8"/>
<circle cx="93.8" cy="205.6" r="3.45" fill="#424aa8"/>
<circle cx="94.9" cy="203" r="3.45" fill="#424aa8"/>
<circle cx="96.5" cy="209" r="3.45" fill="#424aa8"/>
<circle cx="98.6" cy="217.2" r="3.45" fill="#424aa8"/>
<circle cx="99.1" cy="214.1" r="3.45" fill="#424aa8"/>
<circle cx="100.7" cy="198.8" r="3.45" fill="#424aa8"/>
<circle cx="103.3" cy="201.4" r="3.45" fill="#424aa8"/>
<circle cx="106.5" cy="205.6" r="3.45" fill="#424aa8"/>
<circle cx="108.6" cy="209.8" r="3.45" fill="#424aa8"/>
<circle cx="110.7" cy="206.7" r="3.45" fill="#424aa8"/>
<circle cx="112.8" cy="202.5" r="3.45" fill="#424aa8"/>
<circle cx="116" cy="203.5" r="3.45" fill="#424aa8"/>
<circle cx="118.1" cy="199.3" r="3.45" fill="#424aa8"/>
<circle cx="117" cy="204.6" r="3.45" fill="#424aa8"/>
<circle cx="120.2" cy="196.1" r="3.45" fill="#424aa8"/>
<circle cx="121.3" cy="190.8" r="3.45" fill="#424aa8"/>
<circle cx="122.4" cy="187.7" r="3.45" fill="#424aa8"/>
<circle cx="124.5" cy="191.9" r="3.45" fill="#424aa8"/>
<circle cx="126.6" cy="186.6" r="3.45" fill="#424aa8"/>
<circle cx="128.7" cy="183.4" r="3.45" fill="#424aa8"/>
<circle cx="127.6" cy="189.8" r="3.45" fill="#424aa8"/>
<path d="M125.7,183.1a3.3,3.3 0 1,0 6.6,0a3.3,3.3 0 1,0 -6.6,0M125.7,184.88a3.3,3.3 0 1,0 6.6,0a3.3,3.3 0 1,0 -6.6,0M125.7,183v2h6.6v-2zM126.67,181.12a3.3,3.3 0 1,0 6.6,0a3.3,3.3 0 1,0 -6.6,0M126.67,185.09a3.3,3.3 0 1,0 6.6,0a3.3,3.3 0 1,0 -6.6,0M126.67,181.83v2.67h6.6v-2.67zM127.63,180.78a3.3,3.3 0 1,0 6.6,0a3.3,3.3 0 1,0 -6.6,0M127.63,183.52a3.3,3.3 0 1,0 6.6,0a3.3,3.3 0 1,0 -6.6,0M127.63,180.67v3.33h6.6v-3.33zM128.6,179.51a3.3,3.3 0 1,0 6.6,0a3.3,3.3 0 1,0 -6.6,0M128.6,183.48a3.3,3.3 0 1,0 6.6,0a3.3,3.3 0 1,0 -6.6,0M128.6,179.5v4h6.6v-4zM129.44,178.17a3.3,3.3 0 1,0 6.6,0a3.3,3.3 0 1,0 -6.6,0M129.44,182.55a3.3,3.3 0 1,0 6.6,0a3.3,3.3 0 1,0 -6.6,0M129.44,178.4v4.4h6.6v-4.4zM130.28,177.36a3.3,3.3 0 1,0 6.6,0a3.3,3.3 0 1,0 -6.6,0M130.28,182.3a3.3,3.3 0 1,0 6.6,0a3.3,3.3 0 1,0 -6.6,0M130.28,177.3v4.8h6.6v-4.8zM131.12,176.38a3.3,3.3 0 1,0 6.6,0a3.3,3.3 0 1,0 -6.6,0M131.12,181.33a3.3,3.3 0 1,0 6.6,0a3.3,3.3 0 1,0 -6.6,0M131.12,176.2v5.2h6.6v-5.2zM131.96,174.34a3.3,3.3 0 1,0 6.6,0a3.3,3.3 0 1,0 -6.6,0M131.96,180.27a3.3,3.3 0 1,0 6.6,0a3.3,3.3 0 1,0 -6.6,0M131.96,175.1v5.6h6.6v-5.6zM132.8,173.48a3.3,3.3 0 1,0 6.6,0a3.3,3.3 0 1,0 -6.6,0M132.8,180.14a3.3,3.3 0 1,0 6.6,0a3.3,3.3 0 1,0 -6.6,0M132.8,174v6h6.6v-6zM133.5,173.58a3.3,3.3 0 1,0 6.6,0a3.3,3.3 0 1,0 -6.6,0M133.5,179.48a3.3,3.3 0 1,0 6.6,0a3.3,3.3 0 1,0 -6.6,0M133.5,173v6h6.6v-6zM134.2,172.48a3.3,3.3 0 1,0 6.6,0a3.3,3.3 0 1,0 -6.6,0M134.2,178.51a3.3,3.3 0 1,0 6.6,0a3.3,3.3 0 1,0 -6.6,0M134.2,172v6h6.6v-6zM134.9,170.61a3.3,3.3 0 1,0 6.6,0a3.3,3.3 0 1,0 -6.6,0M134.9,177.55a3.3,3.3 0 1,0 6.6,0a3.3,3.3 0 1,0 -6.6,0M134.9,171v6h6.6v-6zM135.6,170.28a3.3,3.3 0 1,0 6.6,0a3.3,3.3 0 1,0 -6.6,0M135.6,175.33a3.3,3.3 0 1,0 6.6,0a3.3,3.3 0 1,0 -6.6,0M135.6,170v6h6.6v-6zM136.3,168.23a3.3,3.3 0 1,0 6.6,0a3.3,3.3 0 1,0 -6.6,0M136.3,174.22a3.3,3.3 0 1,0 6.6,0a3.3,3.3 0 1,0 -6.6,0M136.3,169v6h6.6v-6zM137,168.41a3.3,3.3 0 1,0 6.6,0a3.3,3.3 0 1,0 -6.6,0M137,173.6a3.3,3.3 0 1,0 6.6,0a3.3,3.3 0 1,0 -6.6,0M137,168v6h6.6v-6zM137.7,166.38a3.3,3.3 0 1,0 6.6,0a3.3,3.3 0 1,0 -6.6,0M137.7,173.2a3.3,3.3 0 1,0 6.6,0a3.3,3.3 0 1,0 -6.6,0M137.7,167v6h6.6v-6zM138.4,165.75a3.3,3.3 0 1,0 6.6,0a3.3,3.3 0 1,0 -6.6,0M138.4,171.31a3.3,3.3 0 1,0 6.6,0a3.3,3.3 0 1,0 -6.6,0M138.4,166v6h6.6v-6zM139.46,164.52a3.3,3.3 0 1,0 6.6,0a3.3,3.3 0 1,0 -6.6,0M139.46,171.18a3.3,3.3 0 1,0 6.6,0a3.3,3.3 0 1,0 -6.6,0M139.46,165.06v6.08h6.6v-6.08zM140.52,163.59a3.3,3.3 0 1,0 6.6,0a3.3,3.3 0 1,0 -6.6,0M140.52,169.92a3.3,3.3 0 1,0 6.6,0a3.3,3.3 0 1,0 -6.6,0M140.52,164.12v6.16h6.6v-6.16zM141.58,163.52a3.3,3.3 0 1,0 6.6,0a3.3,3.3 0 1,0 -6.6,0M141.58,169.35a3.3,3.3 0 1,0 6.6,0a3.3,3.3 0 1,0 -6.6,0M141.58,163.18v6.24h6.6v-6.24zM142.64,161.96a3.3,3.3 0 1,0 6.6,0a3.3,3.3 0 1,0 -6.6,0M142.64,168.52a3.3,3.3 0 1,0 6.6,0a3.3,3.3 0 1,0 -6.6,0M142.64,162.24v6.32h6.6v-6.32zM143.7,160.54a3.3,3.3 0 1,0 6.6,0a3.3,3.3 0 1,0 -6.6,0M143.7,167.52a3.3,3.3 0 1,0 6.6,0a3.3,3.3 0 1,0 -6.6,0M143.7,161.3v6.4h6.6v-6.4zM144.51,160.13a3.3,3.3 0 1,0 6.6,0a3.3,3.3 0 1,0 -6.6,0M144.51,166.24a3.3,3.3 0 1,0 6.6,0a3.3,3.3 0 1,0 -6.6,0M144.51,160.26v6.49h6.6v-6.49zM145.33,158.59a3.3,3.3 0 1,0 6.6,0a3.3,3.3 0 1,0 -6.6,0M145.33,166.43a3.3,3.3 0 1,0 6.6,0a3.3,3.3 0 1,0 -6.6,0M145.33,159.21v6.57h6.6v-6.57zM146.14,158.19a3.3,3.3 0 1,0 6.6,0a3.3,3.3 0 1,0 -6.6,0M146.14,164.36a3.3,3.3 0 1,0 6.6,0a3.3,3.3 0 1,0 -6.6,0M146.14,158.17v6.66h6.6v-6.66zM146.96,157.3a3.3,3.3 0 1,0 6.6,0a3.3,3.3 0 1,0 -6.6,0M146.96,164.38a3.3,3.3 0 1,0 6.6,0a3.3,3.3 0 1,0 -6.6,0M146.96,157.13v6.74h6.6v-6.74zM147.77,155.32a3.3,3.3 0 1,0 6.6,0a3.3,3.3 0 1,0 -6.6,0M147.77,162.14a3.3,3.3 0 1,0 6.6,0a3.3,3.3 0 1,0 -6.6,0M147.77,156.09v6.83h6.6v-6.83zM148.59,154.48a3.3,3.3 0 1,0 6.6,0a3.3,3.3 0 1,0 -6.6,0M148.59,162.31a3.3,3.3 0 1,0 6.6,0a3.3,3.3 0 1,0 -6.6,0M148.59,155.04v6.91h6.6v-6.91zM149.4,153.46a3.3,3.3 0 1,0 6.6,0a3.3,3.3 0 1,0 -6.6,0M149.4,161.33a3.3,3.3 0 1,0 6.6,0a3.3,3.3 0 1,0 -6.6,0M149.4,154v7h6.6v-7zM150.45,153.29a3.3,3.3 0 1,0 6.6,0a3.3,3.3 0 1,0 -6.6,0M150.45,160.24a3.3,3.3 0 1,0 6.6,0a3.3,3.3 0 1,0 -6.6,0M150.45,153v7.17h6.6v-7.17zM151.5,151.55a3.3,3.3 0 1,0 6.6,0a3.3,3.3 0 1,0 -6.6,0M151.5,160.09a3.3,3.3 0 1,0 6.6,0a3.3,3.3 0 1,0 -6.6,0M151.5,152v7.33h6.6v-7.33zM152.55,151.48a3.3,3.3 0 1,0 6.6,0a3.3,3.3 0 1,0 -6.6,0M152.55,158.53a3.3,3.3 0 1,0 6.6,0a3.3,3.3 0 1,0 -6.6,0M152.55,151v7.5h6.6v-7.5zM153.6,149.56a3.3,3.3 0 1,0 6.6,0a3.3,3.3 0 1,0 -6.6,0M153.6,157.9a3.3,3.3 0 1,0 6.6,0a3.3,3.3 0 1,0 -6.6,0M153.6,150v7.67h6.6v-7.67zM154.65,148.83a3.3,3.3 0 1,0 6.6,0a3.3,3.3 0 1,0 -6.6,0M154.65,156.95a3.3,3.3 0 1,0 6.6,0a3.3,3.3 0 1,0 -6.6,0M154.65,149v7.83h6.6v-7.83zM155.7,147.71a3.3,3.3 0 1,0 6.6,0a3.3,3.3 0 1,0 -6.6,0M155.7,156.21a3.3,3.3 0 1,0 6.6,0a3.3,3.3 0 1,0 -6.6,0M155.7,148v8h6.6v-8zM156.5,146.38a3.3,3.3 0 1,0 6.6,0a3.3,3.3 0 1,0 -6.6,0M156.5,154.74a3.3,3.3 0 1,0 6.6,0a3.3,3.3 0 1,0 -6.6,0M156.5,147.09v7.97h6.6v-7.97zM157.3,146.92a3.3,3.3 0 1,0 6.6,0a3.3,3.3 0 1,0 -6.6,0M157.3,154.73a3.3,3.3 0 1,0 6.6,0a3.3,3.3 0 1,0 -6.6,0M157.3,146.18v7.95h6.6v-7.95zM158.1,144.95a3.3,3.3 0 1,0 6.6,0a3.3,3.3 0 1,0 -6.6,0M158.1,153.76a3.3,3.3 0 1,0 6.6,0a3.3,3.3 0 1,0 -6.6,0M158.1,145.26v7.92h6.6v-7.92zM158.9,144.05a3.3,3.3 0 1,0 6.6,0a3.3,3.3 0 1,0 -6.6,0M158.9,152.95a3.3,3.3 0 1,0 6.6,0a3.3,3.3 0 1,0 -6.6,0M158.9,144.35v7.9h6.6v-7.9zM159.7,143.83a3.3,3.3 0 1,0 6.6,0a3.3,3.3 0 1,0 -6.6,0M159.7,151.18a3.3,3.3 0 1,0 6.6,0a3.3,3.3 0 1,0 -6.6,0M159.7,143.44v7.88h6.6v-7.88zM160.5,142.13a3.3,3.3 0 1,0 6.6,0a3.3,3.3 0 1,0 -6.6,0M160.5,149.59a3.3,3.3 0 1,0 6.6,0a3.3,3.3 0 1,0 -6.6,0M160.5,142.52v7.85h6.6v-7.85zM161.3,142.22a3.3,3.3 0 1,0 6.6,0a3.3,3.3 0 1,0 -6.6,0M161.3,148.7a3.3,3.3 0 1,0 6.6,0a3.3,3.3 0 1,0 -6.6,0M161.3,141.61v7.83h6.6v-7.83zM162.1,141.21a3.3,3.3 0 1,0 6.6,0a3.3,3.3 0 1,0 -6.6,0M162.1,149.24a3.3,3.3 0 1,0 6.6,0a3.3,3.3 0 1,0 -6.6,0M162.1,140.7v7.8h6.6v-7.8zM163.15,140.06a3.3,3.3 0 1,0 6.6,0a3.3,3.3 0 1,0 -6.6,0M163.15,147.12a3.3,3.3 0 1,0 6.6,0a3.3,3.3 0 1,0 -6.6,0M163.15,139.95v7.7h6.6v-7.7zM164.2,139.79a3.3,3.3 0 1,0 6.6,0a3.3,3.3 0 1,0 -6.6,0M164.2,147.56a3.3,3.3 0 1,0 6.6,0a3.3,3.3 0 1,0 -6.6,0M164.2,139.2v7.6h6.6v-7.6zM165.25,138.78a3.3,3.3 0 1,0 6.6,0a3.3,3.3 0 1,0 -6.6,0M165.25,145.96a3.3,3.3 0 1,0 6.6,0a3.3,3.3 0 1,0 -6.6,0M165.25,138.45v7.5h6.6v-7.5zM166.3,137.5a3.3,3.3 0 1,0 6.6,0a3.3,3.3 0 1,0 -6.6,0M166.3,144.86a3.3,3.3 0 1,0 6.6,0a3.3,3.3 0 1,0 -6.6,0M166.3,137.7v7.4h6.6v-7.4zM167.35,136.48a3.3,3.3 0 1,0 6.6,0a3.3,3.3 0 1,0 -6.6,0M167.35,144.53a3.3,3.3 0 1,0 6.6,0a3.3,3.3 0 1,0 -6.6,0M167.35,136.95v7.3h6.6v-7.3zM168.4,136.09a3.3,3.3 0 1,0 6.6,0a3.3,3.3 0 1,0 -6.6,0M168.4,142.91a3.3,3.3 0 1,0 6.6,0a3.3,3.3 0 1,0 -6.6,0M168.4,136.2v7.2h6.6v-7.2zM169.45,134.93a3.3,3.3 0 1,0 6.6,0a3.3,3.3 0 1,0 -6.6,0M169.45,142.6a3.3,3.3 0 1,0 6.6,0a3.3,3.3 0 1,0 -6.6,0M169.45,135.57v6.77h6.6v-6.77zM170.5,134.61a3.3,3.3 0 1,0 6.6,0a3.3,3.3 0 1,0 -6.6,0M170.5,141.27a3.3,3.3 0 1,0 6.6,0a3.3,3.3 0 1,0 -6.6,0M170.5,134.93v6.33h6.6v-6.33zM171.55,134.02a3.3,3.3 0 1,0 6.6,0a3.3,3.3 0 1,0 -6.6,0M171.55,140.79a3.3,3.3 0 1,0 6.6,0a3.3,3.3 0 1,0 -6.6,0M171.55,134.3v5.9h6.6v-5.9zM172.6,134.31a3.3,3.3 0 1,0 6.6,0a3.3,3.3 0 1,0 -6.6,0M172.6,138.36a3.3,3.3 0 1,0 6.6,0a3.3,3.3 0 1,0 -6.6,0M172.6,133.67v5.47h6.6v-5.47zM173.65,132.55a3.3,3.3 0 1,0 6.6,0a3.3,3.3 0 1,0 -6.6,0M173.65,137.79a3.3,3.3 0 1,0 6.6,0a3.3,3.3 0 1,0 -6.6,0M173.65,133.03v5.03h6.6v-5.03zM174.7,133.18a3.3,3.3 0 1,0 6.6,0a3.3,3.3 0 1,0 -6.6,0M174.7,137.45a3.3,3.3 0 1,0 6.6,0a3.3,3.3 0 1,0 -6.6,0M174.7,132.4v4.6h6.6v-4.6zM175.41,131.15a3.3,3.3 0 1,0 6.6,0a3.3,3.3 0 1,0 -6.6,0M175.41,135.6a3.3,3.3 0 1,0 6.6,0a3.3,3.3 0 1,0 -6.6,0M175.41,131.41v4.64h6.6v-4.64zM176.12,130.7a3.3,3.3 0 1,0 6.6,0a3.3,3.3 0 1,0 -6.6,0M176.12,135.65a3.3,3.3 0 1,0 6.6,0a3.3,3.3 0 1,0 -6.6,0M176.12,130.42v4.69h6.6v-4.69zM176.83,130.12a3.3,3.3 0 1,0 6.6,0a3.3,3.3 0 1,0 -6.6,0M176.83,133.92a3.3,3.3 0 1,0 6.6,0a3.3,3.3 0 1,0 -6.6,0M176.83,129.43v4.73h6.6v-4.73zM177.54,129.06a3.3,3.3 0 1,0 6.6,0a3.3,3.3 0 1,0 -6.6,0M177.54,133.52a3.3,3.3 0 1,0 6.6,0a3.3,3.3 0 1,0 -6.6,0M177.54,128.44v4.78h6.6v-4.78zM178.26,127.43a3.3,3.3 0 1,0 6.6,0a3.3,3.3 0 1,0 -6.6,0M178.26,133.05a3.3,3.3 0 1,0 6.6,0a3.3,3.3 0 1,0 -6.6,0M178.26,127.46v4.82h6.6v-4.82zM178.97,126.04a3.3,3.3 0 1,0 6.6,0a3.3,3.3 0 1,0 -6.6,0M178.97,131.69a3.3,3.3 0 1,0 6.6,0a3.3,3.3 0 1,0 -6.6,0M178.97,126.47v4.87h6.6v-4.87zM179.68,124.81a3.3,3.3 0 1,0 6.6,0a3.3,3.3 0 1,0 -6.6,0M179.68,129.86a3.3,3.3 0 1,0 6.6,0a3.3,3.3 0 1,0 -6.6,0M179.68,125.48v4.91h6.6v-4.91zM180.39,125.15a3.3,3.3 0 1,0 6.6,0a3.3,3.3 0 1,0 -6.6,0M180.39,128.99a3.3,3.3 0 1,0 6.6,0a3.3,3.3 0 1,0 -6.6,0M180.39,124.49v4.96h6.6v-4.96zM181.1,123.91a3.3,3.3 0 1,0 6.6,0a3.3,3.3 0 1,0 -6.6,0M181.1,128.66a3.3,3.3 0 1,0 6.6,0a3.3,3.3 0 1,0 -6.6,0M181.1,123.5v5h6.6v-5zM181.62,122.75a3.3,3.3 0 1,0 6.6,0a3.3,3.3 0 1,0 -6.6,0M181.62,127.19a3.3,3.3 0 1,0 6.6,0a3.3,3.3 0 1,0 -6.6,0M181.62,122.2v5.2h6.6v-5.2zM182.14,120.64a3.3,3.3 0 1,0 6.6,0a3.3,3.3 0 1,0 -6.6,0M182.14,125.97a3.3,3.3 0 1,0 6.6,0a3.3,3.3 0 1,0 -6.6,0M182.14,120.9v5.4h6.6v-5.4zM182.66,120.19a3.3,3.3 0 1,0 6.6,0a3.3,3.3 0 1,0 -6.6,0M182.66,125.37a3.3,3.3 0 1,0 6.6,0a3.3,3.3 0 1,0 -6.6,0M182.66,119.6v5.6h6.6v-5.6zM183.18,119.03a3.3,3.3 0 1,0 6.6,0a3.3,3.3 0 1,0 -6.6,0M183.18,124.72a3.3,3.3 0 1,0 6.6,0a3.3,3.3 0 1,0 -6.6,0M183.18,118.3v5.8h6.6v-5.8zM183.7,116.42a3.3,3.3 0 1,0 6.6,0a3.3,3.3 0 1,0 -6.6,0M183.7,123.08a3.3,3.3 0 1,0 6.6,0a3.3,3.3 0 1,0 -6.6,0M183.7,117v6h6.6v-6zM184.17,115.01a3.3,3.3 0 1,0 6.6,0a3.3,3.3 0 1,0 -6.6,0M184.17,121.33a3.3,3.3 0 1,0 6.6,0a3.3,3.3 0 1,0 -6.6,0M184.17,115.64v6.43h6.6v-6.43zM184.64,113.6a3.3,3.3 0 1,0 6.6,0a3.3,3.3 0 1,0 -6.6,0M184.64,121.73a3.3,3.3 0 1,0 6.6,0a3.3,3.3 0 1,0 -6.6,0M184.64,114.29v6.86h6.6v-6.86zM185.11,113.39a3.3,3.3 0 1,0 6.6,0a3.3,3.3 0 1,0 -6.6,0M185.11,120.74a3.3,3.3 0 1,0 6.6,0a3.3,3.3 0 1,0 -6.6,0M185.11,112.93v7.29h6.6v-7.29zM185.59,111.32a3.3,3.3 0 1,0 6.6,0a3.3,3.3 0 1,0 -6.6,0M185.59,119.47a3.3,3.3 0 1,0 6.6,0a3.3,3.3 0 1,0 -6.6,0M185.59,111.57v7.71h6.6v-7.71zM186.06,110.67a3.3,3.3 0 1,0 6.6,0a3.3,3.3 0 1,0 -6.6,0M186.06,118.16a3.3,3.3 0 1,0 6.6,0a3.3,3.3 0 1,0 -6.6,0M186.06,110.21v8.14h6.6v-8.14zM186.53,108.97a3.3,3.3 0 1,0 6.6,0a3.3,3.3 0 1,0 -6.6,0M186.53,116.99a3.3,3.3 0 1,0 6.6,0a3.3,3.3 0 1,0 -6.6,0M186.53,108.86v8.57h6.6v-8.57zM187,106.83a3.3,3.3 0 1,0 6.6,0a3.3,3.3 0 1,0 -6.6,0M187,116.13a3.3,3.3 0 1,0 6.6,0a3.3,3.3 0 1,0 -6.6,0M187,107.5v9h6.6v-9zM187.88,107.28a3.3,3.3 0 1,0 6.6,0a3.3,3.3 0 1,0 -6.6,0M187.88,115.32a3.3,3.3 0 1,0 6.6,0a3.3,3.3 0 1,0 -6.6,0M187.88,106.65v8.57h6.6v-8.57zM188.77,106.48a3.3,3.3 0 1,0 6.6,0a3.3,3.3 0 1,0 -6.6,0M188.77,113.87a3.3,3.3 0 1,0 6.6,0a3.3,3.3 0 1,0 -6.6,0M188.77,105.8v8.13h6.6v-8.13zM189.65,104.59a3.3,3.3 0 1,0 6.6,0a3.3,3.3 0 1,0 -6.6,0M189.65,113.11a3.3,3.3 0 1,0 6.6,0a3.3,3.3 0 1,0 -6.6,0M189.65,104.95v7.7h6.6v-7.7zM190.53,104.62a3.3,3.3 0 1,0 6.6,0a3.3,3.3 0 1,0 -6.6,0M190.53,110.59a3.3,3.3 0 1,0 6.6,0a3.3,3.3 0 1,0 -6.6,0M190.53,104.1v7.27h6.6v-7.27zM191.42,103.52a3.3,3.3 0 1,0 6.6,0a3.3,3.3 0 1,0 -6.6,0M191.42,109.43a3.3,3.3 0 1,0 6.6,0a3.3,3.3 0 1,0 -6.6,0M191.42,103.25v6.83h6.6v-6.83zM192.3,101.78a3.3,3.3 0 1,0 6.6,0a3.3,3.3 0 1,0 -6.6,0M192.3,109.42a3.3,3.3 0 1,0 6.6,0a3.3,3.3 0 1,0 -6.6,0M192.3,102.4v6.4h6.6v-6.4zM193.18,100.68a3.3,3.3 0 1,0 6.6,0a3.3,3.3 0 1,0 -6.6,0M193.18,107.52a3.3,3.3 0 1,0 6.6,0a3.3,3.3 0 1,0 -6.6,0M193.18,101.42v6.52h6.6v-6.52zM194.06,101.22a3.3,3.3 0 1,0 6.6,0a3.3,3.3 0 1,0 -6.6,0M194.06,106.95a3.3,3.3 0 1,0 6.6,0a3.3,3.3 0 1,0 -6.6,0M194.06,100.44v6.64h6.6v-6.64zM194.94,98.84a3.3,3.3 0 1,0 6.6,0a3.3,3.3 0 1,0 -6.6,0M194.94,105.69a3.3,3.3 0 1,0 6.6,0a3.3,3.3 0 1,0 -6.6,0M194.94,99.46v6.76h6.6v-6.76zM195.82,98.07a3.3,3.3 0 1,0 6.6,0a3.3,3.3 0 1,0 -6.6,0M195.82,105.75a3.3,3.3 0 1,0 6.6,0a3.3,3.3 0 1,0 -6.6,0M195.82,98.48v6.88h6.6v-6.88zM196.7,96.86a3.3,3.3 0 1,0 6.6,0a3.3,3.3 0 1,0 -6.6,0M196.7,105.16a3.3,3.3 0 1,0 6.6,0a3.3,3.3 0 1,0 -6.6,0M196.7,97.5v7h6.6v-7zM197.73,96.39a3.3,3.3 0 1,0 6.6,0a3.3,3.3 0 1,0 -6.6,0M197.73,104.4a3.3,3.3 0 1,0 6.6,0a3.3,3.3 0 1,0 -6.6,0M197.73,96.58v7.07h6.6v-7.07zM198.77,96.32a3.3,3.3 0 1,0 6.6,0a3.3,3.3 0 1,0 -6.6,0M198.77,102.47a3.3,3.3 0 1,0 6.6,0a3.3,3.3 0 1,0 -6.6,0M198.77,95.67v7.13h6.6v-7.13zM199.8,94.36a3.3,3.3 0 1,0 6.6,0a3.3,3.3 0 1,0 -6.6,0M199.8,101.91a3.3,3.3 0 1,0 6.6,0a3.3,3.3 0 1,0 -6.6,0M199.8,94.75v7.2h6.6v-7.2zM200.83,93.19a3.3,3.3 0 1,0 6.6,0a3.3,3.3 0 1,0 -6.6,0M200.83,101.34a3.3,3.3 0 1,0 6.6,0a3.3,3.3 0 1,0 -6.6,0M200.83,93.83v7.27h6.6v-7.27zM201.87,92.18a3.3,3.3 0 1,0 6.6,0a3.3,3.3 0 1,0 -6.6,0M201.87,99.47a3.3,3.3 0 1,0 6.6,0a3.3,3.3 0 1,0 -6.6,0M201.87,92.92v7.33h6.6v-7.33zM202.9,92.77a3.3,3.3 0 1,0 6.6,0a3.3,3.3 0 1,0 -6.6,0M202.9,99.07a3.3,3.3 0 1,0 6.6,0a3.3,3.3 0 1,0 -6.6,0M202.9,92v7.4h6.6v-7.4zM203.86,91.45a3.3,3.3 0 1,0 6.6,0a3.3,3.3 0 1,0 -6.6,0M203.86,98.34a3.3,3.3 0 1,0 6.6,0a3.3,3.3 0 1,0 -6.6,0M203.86,91.3v7.12h6.6v-7.12zM204.82,90.3a3.3,3.3 0 1,0 6.6,0a3.3,3.3 0 1,0 -6.6,0M204.82,96.74a3.3,3.3 0 1,0 6.6,0a3.3,3.3 0 1,0 -6.6,0M204.82,90.6v6.84h6.6v-6.84zM205.78,90.56a3.3,3.3 0 1,0 6.6,0a3.3,3.3 0 1,0 -6.6,0M205.78,97.21a3.3,3.3 0 1,0 6.6,0a3.3,3.3 0 1,0 -6.6,0M205.78,89.9v6.56h6.6v-6.56zM206.74,89.95a3.3,3.3 0 1,0 6.6,0a3.3,3.3 0 1,0 -6.6,0M206.74,94.86a3.3,3.3 0 1,0 6.6,0a3.3,3.3 0 1,0 -6.6,0M206.74,89.2v6.28h6.6v-6.28zM207.7,88.04a3.3,3.3 0 1,0 6.6,0a3.3,3.3 0 1,0 -6.6,0M207.7,94.69a3.3,3.3 0 1,0 6.6,0a3.3,3.3 0 1,0 -6.6,0M207.7,88.5v6h6.6v-6zM208.65,88.58a3.3,3.3 0 1,0 6.6,0a3.3,3.3 0 1,0 -6.6,0M208.65,93.79a3.3,3.3 0 1,0 6.6,0a3.3,3.3 0 1,0 -6.6,0M208.65,87.82v5.9h6.6v-5.9zM209.6,87.43a3.3,3.3 0 1,0 6.6,0a3.3,3.3 0 1,0 -6.6,0M209.6,93.19a3.3,3.3 0 1,0 6.6,0a3.3,3.3 0 1,0 -6.6,0M209.6,87.13v5.8h6.6v-5.8zM210.55,86.06a3.3,3.3 0 1,0 6.6,0a3.3,3.3 0 1,0 -6.6,0M210.55,92.22a3.3,3.3 0 1,0 6.6,0a3.3,3.3 0 1,0 -6.6,0M210.55,86.45v5.7h6.6v-5.7zM211.5,85.46a3.3,3.3 0 1,0 6.6,0a3.3,3.3 0 1,0 -6.6,0M211.5,90.96a3.3,3.3 0 1,0 6.6,0a3.3,3.3 0 1,0 -6.6,0M211.5,85.77v5.6h6.6v-5.6zM212.45,84.41a3.3,3.3 0 1,0 6.6,0a3.3,3.3 0 1,0 -6.6,0M212.45,90.23a3.3,3.3 0 1,0 6.6,0a3.3,3.3 0 1,0 -6.6,0M212.45,85.08v5.5h6.6v-5.5zM213.4,85.17a3.3,3.3 0 1,0 6.6,0a3.3,3.3 0 1,0 -6.6,0M213.4,89.72a3.3,3.3 0 1,0 6.6,0a3.3,3.3 0 1,0 -6.6,0M213.4,84.4v5.4h6.6v-5.4zM214.28,83.83a3.3,3.3 0 1,0 6.6,0a3.3,3.3 0 1,0 -6.6,0M214.28,89.15a3.3,3.3 0 1,0 6.6,0a3.3,3.3 0 1,0 -6.6,0M214.28,83.58v5.33h6.6v-5.33zM215.17,83.47a3.3,3.3 0 1,0 6.6,0a3.3,3.3 0 1,0 -6.6,0M215.17,87.86a3.3,3.3 0 1,0 6.6,0a3.3,3.3 0 1,0 -6.6,0M215.17,82.77v5.27h6.6v-5.27zM216.05,81.64a3.3,3.3 0 1,0 6.6,0a3.3,3.3 0 1,0 -6.6,0M216.05,86.87a3.3,3.3 0 1,0 6.6,0a3.3,3.3 0 1,0 -6.6,0M216.05,81.95v5.2h6.6v-5.2zM216.93,80.84a3.3,3.3 0 1,0 6.6,0a3.3,3.3 0 1,0 -6.6,0M216.93,86.82a3.3,3.3 0 1,0 6.6,0a3.3,3.3 0 1,0 -6.6,0M216.93,81.13v5.13h6.6v-5.13zM217.82,80.95a3.3,3.3 0 1,0 6.6,0a3.3,3.3 0 1,0 -6.6,0M217.82,85.07a3.3,3.3 0 1,0 6.6,0a3.3,3.3 0 1,0 -6.6,0M217.82,80.32v5.07h6.6v-5.07zM218.7,79.23a3.3,3.3 0 1,0 6.6,0a3.3,3.3 0 1,0 -6.6,0M218.7,84.57a3.3,3.3 0 1,0 6.6,0a3.3,3.3 0 1,0 -6.6,0M218.7,79.5v5h6.6v-5zM220.03,78.96a3.3,3.3 0 1,0 6.6,0a3.3,3.3 0 1,0 -6.6,0M220.03,83.65a3.3,3.3 0 1,0 6.6,0a3.3,3.3 0 1,0 -6.6,0M220.03,78.83v4.67h6.6v-4.67zM221.37,77.76a3.3,3.3 0 1,0 6.6,0a3.3,3.3 0 1,0 -6.6,0M221.37,81.73a3.3,3.3 0 1,0 6.6,0a3.3,3.3 0 1,0 -6.6,0M221.37,78.17v4.33h6.6v-4.33zM222.7,77.09a3.3,3.3 0 1,0 6.6,0a3.3,3.3 0 1,0 -6.6,0M222.7,80.82a3.3,3.3 0 1,0 6.6,0a3.3,3.3 0 1,0 -6.6,0M222.7,77.5v4h6.6v-4zM224.03,77.25a3.3,3.3 0 1,0 6.6,0a3.3,3.3 0 1,0 -6.6,0M224.03,79.81a3.3,3.3 0 1,0 6.6,0a3.3,3.3 0 1,0 -6.6,0M224.03,77.17v3.33h6.6v-3.33zM225.37,76.15a3.3,3.3 0 1,0 6.6,0a3.3,3.3 0 1,0 -6.6,0M225.37,79.72a3.3,3.3 0 1,0 6.6,0a3.3,3.3 0 1,0 -6.6,0M225.37,76.83v2.67h6.6v-2.67zM226.7,76.17a3.3,3.3 0 1,0 6.6,0a3.3,3.3 0 1,0 -6.6,0M226.7,78.97a3.3,3.3 0 1,0 6.6,0a3.3,3.3 0 1,0 -6.6,0M226.7,76.5v2h6.6v-2z" fill="#424aa8"/>
<circle cx="187" cy="123" r="3.3" fill="#424aa8"/>
<circle cx="190" cy="121" r="3.3" fill="#424aa8"/>
<circle cx="193" cy="118.5" r="3.3" fill="#424aa8"/>
<circle cx="196" cy="115" r="3.3" fill="#424aa8"/>
<path d="M226.4,77.99a3.3,3.3 0 1,0 6.6,0a3.3,3.3 0 1,0 -6.6,0M226.4,78.58a3.3,3.3 0 1,0 6.6,0a3.3,3.3 0 1,0 -6.6,0M227.5,77.84a3.3,3.3 0 1,0 6.6,0a3.3,3.3 0 1,0 -6.6,0M227.5,78.33a3.3,3.3 0 1,0 6.6,0a3.3,3.3 0 1,0 -6.6,0M228.47,76.43a3.3,3.3 0 1,0 6.6,0a3.3,3.3 0 1,0 -6.6,0M228.47,77.7a3.3,3.3 0 1,0 6.6,0a3.3,3.3 0 1,0 -6.6,0M229.43,76.7a3.3,3.3 0 1,0 6.6,0a3.3,3.3 0 1,0 -6.6,0M229.43,76.38a3.3,3.3 0 1,0 6.6,0a3.3,3.3 0 1,0 -6.6,0M230.4,75.96a3.3,3.3 0 1,0 6.6,0a3.3,3.3 0 1,0 -6.6,0M230.4,75.54a3.3,3.3 0 1,0 6.6,0a3.3,3.3 0 1,0 -6.6,0M231.37,74.53a3.3,3.3 0 1,0 6.6,0a3.3,3.3 0 1,0 -6.6,0M231.37,74.46a3.3,3.3 0 1,0 6.6,0a3.3,3.3 0 1,0 -6.6,0M232.33,74.72a3.3,3.3 0 1,0 6.6,0a3.3,3.3 0 1,0 -6.6,0M232.33,73.64a3.3,3.3 0 1,0 6.6,0a3.3,3.3 0 1,0 -6.6,0M233.3,72.81a3.3,3.3 0 1,0 6.6,0a3.3,3.3 0 1,0 -6.6,0M233.3,73.99a3.3,3.3 0 1,0 6.6,0a3.3,3.3 0 1,0 -6.6,0M234.27,73.55a3.3,3.3 0 1,0 6.6,0a3.3,3.3 0 1,0 -6.6,0M234.27,73.09a3.3,3.3 0 1,0 6.6,0a3.3,3.3 0 1,0 -6.6,0M235.23,73.27a3.3,3.3 0 1,0 6.6,0a3.3,3.3 0 1,0 -6.6,0M235.23,72.02a3.3,3.3 0 1,0 6.6,0a3.3,3.3 0 1,0 -6.6,0M236.2,71.96a3.3,3.3 0 1,0 6.6,0a3.3,3.3 0 1,0 -6.6,0M236.2,72.01a3.3,3.3 0 1,0 6.6,0a3.3,3.3 0 1,0 -6.6,0M237.17,71.84a3.3,3.3 0 1,0 6.6,0a3.3,3.3 0 1,0 -6.6,0M237.17,71.44a3.3,3.3 0 1,0 6.6,0a3.3,3.3 0 1,0 -6.6,0M238.13,70.89a3.3,3.3 0 1,0 6.6,0a3.3,3.3 0 1,0 -6.6,0M238.13,71.32a3.3,3.3 0 1,0 6.6,0a3.3,3.3 0 1,0 -6.6,0M239.1,71.84a3.3,3.3 0 1,0 6.6,0a3.3,3.3 0 1,0 -6.6,0M239.1,71.97a3.3,3.3 0 1,0 6.6,0a3.3,3.3 0 1,0 -6.6,0M240.08,71.39a3.3,3.3 0 1,0 6.6,0a3.3,3.3 0 1,0 -6.6,0M240.08,70.97a3.3,3.3 0 1,0 6.6,0a3.3,3.3 0 1,0 -6.6,0M241.07,70.4a3.3,3.3 0 1,0 6.6,0a3.3,3.3 0 1,0 -6.6,0M241.07,71.53a3.3,3.3 0 1,0 6.6,0a3.3,3.3 0 1,0 -6.6,0M242.05,70.64a3.3,3.3 0 1,0 6.6,0a3.3,3.3 0 1,0 -6.6,0M242.05,70.97a3.3,3.3 0 1,0 6.6,0a3.3,3.3 0 1,0 -6.6,0M243.03,69.65a3.3,3.3 0 1,0 6.6,0a3.3,3.3 0 1,0 -6.6,0M243.03,69.94a3.3,3.3 0 1,0 6.6,0a3.3,3.3 0 1,0 -6.6,0M244.02,70.74a3.3,3.3 0 1,0 6.6,0a3.3,3.3 0 1,0 -6.6,0M244.02,70.67a3.3,3.3 0 1,0 6.6,0a3.3,3.3 0 1,0 -6.6,0M245,70.61a3.3,3.3 0 1,0 6.6,0a3.3,3.3 0 1,0 -6.6,0M245,70.16a3.3,3.3 0 1,0 6.6,0a3.3,3.3 0 1,0 -6.6,0M246.16,69.96a3.3,3.3 0 1,0 6.6,0a3.3,3.3 0 1,0 -6.6,0M246.16,70.21a3.3,3.3 0 1,0 6.6,0a3.3,3.3 0 1,0 -6.6,0M247.32,70.72a3.3,3.3 0 1,0 6.6,0a3.3,3.3 0 1,0 -6.6,0M247.32,69.85a3.3,3.3 0 1,0 6.6,0a3.3,3.3 0 1,0 -6.6,0M248.48,70.29a3.3,3.3 0 1,0 6.6,0a3.3,3.3 0 1,0 -6.6,0M248.48,69.88a3.3,3.3 0 1,0 6.6,0a3.3,3.3 0 1,0 -6.6,0M249.64,70.75a3.3,3.3 0 1,0 6.6,0a3.3,3.3 0 1,0 -6.6,0M249.64,69.54a3.3,3.3 0 1,0 6.6,0a3.3,3.3 0 1,0 -6.6,0M250.8,70.7a3.3,3.3 0 1,0 6.6,0a3.3,3.3 0 1,0 -6.6,0M250.8,71.13a3.3,3.3 0 1,0 6.6,0a3.3,3.3 0 1,0 -6.6,0M251.96,69.88a3.3,3.3 0 1,0 6.6,0a3.3,3.3 0 1,0 -6.6,0M251.96,70.79a3.3,3.3 0 1,0 6.6,0a3.3,3.3 0 1,0 -6.6,0M253.12,71.11a3.3,3.3 0 1,0 6.6,0a3.3,3.3 0 1,0 -6.6,0M253.12,71.44a3.3,3.3 0 1,0 6.6,0a3.3,3.3 0 1,0 -6.6,0M254.28,71.25a3.3,3.3 0 1,0 6.6,0a3.3,3.3 0 1,0 -6.6,0M254.28,70.73a3.3,3.3 0 1,0 6.6,0a3.3,3.3 0 1,0 -6.6,0M255.44,71.21a3.3,3.3 0 1,0 6.6,0a3.3,3.3 0 1,0 -6.6,0M255.44,72.09a3.3,3.3 0 1,0 6.6,0a3.3,3.3 0 1,0 -6.6,0M256.6,72.25a3.3,3.3 0 1,0 6.6,0a3.3,3.3 0 1,0 -6.6,0M256.6,71.01a3.3,3.3 0 1,0 6.6,0a3.3,3.3 0 1,0 -6.6,0M257.57,71.25a3.3,3.3 0 1,0 6.6,0a3.3,3.3 0 1,0 -6.6,0M257.57,71.25a3.3,3.3 0 1,0 6.6,0a3.3,3.3 0 1,0 -6.6,0M258.53,71.44a3.3,3.3 0 1,0 6.6,0a3.3,3.3 0 1,0 -6.6,0M258.53,72.11a3.3,3.3 0 1,0 6.6,0a3.3,3.3 0 1,0 -6.6,0M259.5,71.93a3.3,3.3 0 1,0 6.6,0a3.3,3.3 0 1,0 -6.6,0M259.5,73.09a3.3,3.3 0 1,0 6.6,0a3.3,3.3 0 1,0 -6.6,0M260.47,73.05a3.3,3.3 0 1,0 6.6,0a3.3,3.3 0 1,0 -6.6,0M260.47,72.2a3.3,3.3 0 1,0 6.6,0a3.3,3.3 0 1,0 -6.6,0M261.43,73.16a3.3,3.3 0 1,0 6.6,0a3.3,3.3 0 1,0 -6.6,0M261.43,72.82a3.3,3.3 0 1,0 6.6,0a3.3,3.3 0 1,0 -6.6,0M262.4,73.39a3.3,3.3 0 1,0 6.6,0a3.3,3.3 0 1,0 -6.6,0M262.4,72.95a3.3,3.3 0 1,0 6.6,0a3.3,3.3 0 1,0 -6.6,0M263.37,73.27a3.3,3.3 0 1,0 6.6,0a3.3,3.3 0 1,0 -6.6,0M263.37,73.29a3.3,3.3 0 1,0 6.6,0a3.3,3.3 0 1,0 -6.6,0M264.33,74a3.3,3.3 0 1,0 6.6,0a3.3,3.3 0 1,0 -6.6,0M264.33,74.54a3.3,3.3 0 1,0 6.6,0a3.3,3.3 0 1,0 -6.6,0M265.3,74.68a3.3,3.3 0 1,0 6.6,0a3.3,3.3 0 1,0 -6.6,0M265.3,73.87a3.3,3.3 0 1,0 6.6,0a3.3,3.3 0 1,0 -6.6,0M266.27,75.34a3.3,3.3 0 1,0 6.6,0a3.3,3.3 0 1,0 -6.6,0M266.27,75.6a3.3,3.3 0 1,0 6.6,0a3.3,3.3 0 1,0 -6.6,0M267.23,75.84a3.3,3.3 0 1,0 6.6,0a3.3,3.3 0 1,0 -6.6,0M267.23,75.87a3.3,3.3 0 1,0 6.6,0a3.3,3.3 0 1,0 -6.6,0M268.2,75.01a3.3,3.3 0 1,0 6.6,0a3.3,3.3 0 1,0 -6.6,0M268.2,75.74a3.3,3.3 0 1,0 6.6,0a3.3,3.3 0 1,0 -6.6,0M269.17,75.58a3.3,3.3 0 1,0 6.6,0a3.3,3.3 0 1,0 -6.6,0M269.17,76.71a3.3,3.3 0 1,0 6.6,0a3.3,3.3 0 1,0 -6.6,0M270.13,76.25a3.3,3.3 0 1,0 6.6,0a3.3,3.3 0 1,0 -6.6,0M270.13,77.11a3.3,3.3 0 1,0 6.6,0a3.3,3.3 0 1,0 -6.6,0M271.1,76.85a3.3,3.3 0 1,0 6.6,0a3.3,3.3 0 1,0 -6.6,0M271.1,77.56a3.3,3.3 0 1,0 6.6,0a3.3,3.3 0 1,0 -6.6,0M272.07,77.44a3.3,3.3 0 1,0 6.6,0a3.3,3.3 0 1,0 -6.6,0M272.07,77a3.3,3.3 0 1,0 6.6,0a3.3,3.3 0 1,0 -6.6,0M273.03,78.04a3.3,3.3 0 1,0 6.6,0a3.3,3.3 0 1,0 -6.6,0M273.03,77.91a3.3,3.3 0 1,0 6.6,0a3.3,3.3 0 1,0 -6.6,0M274,79.34a3.3,3.3 0 1,0 6.6,0a3.3,3.3 0 1,0 -6.6,0M274,78.37a3.3,3.3 0 1,0 6.6,0a3.3,3.3 0 1,0 -6.6,0M274.97,79.29a3.3,3.3 0 1,0 6.6,0a3.3,3.3 0 1,0 -6.6,0M274.97,79.36a3.3,3.3 0 1,0 6.6,0a3.3,3.3 0 1,0 -6.6,0M275.93,80.58a3.3,3.3 0 1,0 6.6,0a3.3,3.3 0 1,0 -6.6,0M275.93,79.22a3.3,3.3 0 1,0 6.6,0a3.3,3.3 0 1,0 -6.6,0M276.9,80.61a3.3,3.3 0 1,0 6.6,0a3.3,3.3 0 1,0 -6.6,0M276.9,80.46a3.3,3.3 0 1,0 6.6,0a3.3,3.3 0 1,0 -6.6,0M277.87,81.41a3.3,3.3 0 1,0 6.6,0a3.3,3.3 0 1,0 -6.6,0M277.87,81.78a3.3,3.3 0 1,0 6.6,0a3.3,3.3 0 1,0 -6.6,0M278.83,81.31a3.3,3.3 0 1,0 6.6,0a3.3,3.3 0 1,0 -6.6,0M278.83,81.94a3.3,3.3 0 1,0 6.6,0a3.3,3.3 0 1,0 -6.6,0M279.8,82.24a3.3,3.3 0 1,0 6.6,0a3.3,3.3 0 1,0 -6.6,0M279.8,82.3a3.3,3.3 0 1,0 6.6,0a3.3,3.3 0 1,0 -6.6,0M280.68,82.08a3.3,3.3 0 1,0 6.6,0a3.3,3.3 0 1,0 -6.6,0M280.68,83.28a3.3,3.3 0 1,0 6.6,0a3.3,3.3 0 1,0 -6.6,0M281.55,84.11a3.3,3.3 0 1,0 6.6,0a3.3,3.3 0 1,0 -6.6,0M281.55,83.12a3.3,3.3 0 1,0 6.6,0a3.3,3.3 0 1,0 -6.6,0M282.43,83.63a3.3,3.3 0 1,0 6.6,0a3.3,3.3 0 1,0 -6.6,0M282.43,84.71a3.3,3.3 0 1,0 6.6,0a3.3,3.3 0 1,0 -6.6,0M283.3,83.87a3.3,3.3 0 1,0 6.6,0a3.3,3.3 0 1,0 -6.6,0M283.3,83.82a3.3,3.3 0 1,0 6.6,0a3.3,3.3 0 1,0 -6.6,0" fill="#424aa8"/>
<circle cx="175" cy="146.5" r="3.6" fill="#424aa8"/>
<circle cx="291.1" cy="82.2" r="3.6" fill="#424aa8"/>
<path d="M294.1,88.85a3.3,3.3 0 1,0 6.6,0a3.3,3.3 0 1,0 -6.6,0M294.1,88.43a3.3,3.3 0 1,0 6.6,0a3.3,3.3 0 1,0 -6.6,0M294.47,90.09a3.3,3.3 0 1,0 6.6,0a3.3,3.3 0 1,0 -6.6,0M294.47,89.93a3.3,3.3 0 1,0 6.6,0a3.3,3.3 0 1,0 -6.6,0M294.47,89.43v0.8h6.6v-0.8zM294.83,91.4a3.3,3.3 0 1,0 6.6,0a3.3,3.3 0 1,0 -6.6,0M294.83,92a3.3,3.3 0 1,0 6.6,0a3.3,3.3 0 1,0 -6.6,0M294.83,90.67v1h6.6v-1zM295.2,91.91a3.3,3.3 0 1,0 6.6,0a3.3,3.3 0 1,0 -6.6,0M295.2,93.13a3.3,3.3 0 1,0 6.6,0a3.3,3.3 0 1,0 -6.6,0M295.2,91.9v1.2h6.6v-1.2zM296.6,92.64a3.3,3.3 0 1,0 6.6,0a3.3,3.3 0 1,0 -6.6,0M296.6,93.74a3.3,3.3 0 1,0 6.6,0a3.3,3.3 0 1,0 -6.6,0M296.6,92.4v1.2h6.6v-1.2zM298,92.6a3.3,3.3 0 1,0 6.6,0a3.3,3.3 0 1,0 -6.6,0M298,93.63a3.3,3.3 0 1,0 6.6,0a3.3,3.3 0 1,0 -6.6,0M298,92.9v1.2h6.6v-1.2zM299.4,93.42a3.3,3.3 0 1,0 6.6,0a3.3,3.3 0 1,0 -6.6,0M299.4,95.29a3.3,3.3 0 1,0 6.6,0a3.3,3.3 0 1,0 -6.6,0M299.4,93.4v1.2h6.6v-1.2zM300.3,94.76a3.3,3.3 0 1,0 6.6,0a3.3,3.3 0 1,0 -6.6,0M300.3,95.09a3.3,3.3 0 1,0 6.6,0a3.3,3.3 0 1,0 -6.6,0M300.3,94.57v1.2h6.6v-1.2zM301.2,96.25a3.3,3.3 0 1,0 6.6,0a3.3,3.3 0 1,0 -6.6,0M301.2,97.29a3.3,3.3 0 1,0 6.6,0a3.3,3.3 0 1,0 -6.6,0M301.2,95.73v1.2h6.6v-1.2zM302.1,97.55a3.3,3.3 0 1,0 6.6,0a3.3,3.3 0 1,0 -6.6,0M302.1,97.61a3.3,3.3 0 1,0 6.6,0a3.3,3.3 0 1,0 -6.6,0M302.1,96.9v1.2h6.6v-1.2zM303.15,98.24a3.3,3.3 0 1,0 6.6,0a3.3,3.3 0 1,0 -6.6,0M303.15,98.44a3.3,3.3 0 1,0 6.6,0a3.3,3.3 0 1,0 -6.6,0M303.15,97.85v1.3h6.6v-1.3zM304.2,99.04a3.3,3.3 0 1,0 6.6,0a3.3,3.3 0 1,0 -6.6,0M304.2,99.84a3.3,3.3 0 1,0 6.6,0a3.3,3.3 0 1,0 -6.6,0M304.2,98.8v1.4h6.6v-1.4zM305.25,99.31a3.3,3.3 0 1,0 6.6,0a3.3,3.3 0 1,0 -6.6,0M305.25,101.85a3.3,3.3 0 1,0 6.6,0a3.3,3.3 0 1,0 -6.6,0M305.25,99.75v1.5h6.6v-1.5zM306.3,100.07a3.3,3.3 0 1,0 6.6,0a3.3,3.3 0 1,0 -6.6,0M306.3,102.34a3.3,3.3 0 1,0 6.6,0a3.3,3.3 0 1,0 -6.6,0M306.3,100.7v1.6h6.6v-1.6zM307.35,102.09a3.3,3.3 0 1,0 6.6,0a3.3,3.3 0 1,0 -6.6,0M307.35,102.82a3.3,3.3 0 1,0 6.6,0a3.3,3.3 0 1,0 -6.6,0M307.35,101.53v1.7h6.6v-1.7zM308.4,101.89a3.3,3.3 0 1,0 6.6,0a3.3,3.3 0 1,0 -6.6,0M308.4,104.76a3.3,3.3 0 1,0 6.6,0a3.3,3.3 0 1,0 -6.6,0M308.4,102.35v1.8h6.6v-1.8zM309.45,103.05a3.3,3.3 0 1,0 6.6,0a3.3,3.3 0 1,0 -6.6,0M309.45,105.42a3.3,3.3 0 1,0 6.6,0a3.3,3.3 0 1,0 -6.6,0M309.45,103.17v1.9h6.6v-1.9zM310.5,103.25a3.3,3.3 0 1,0 6.6,0a3.3,3.3 0 1,0 -6.6,0M310.5,105.78a3.3,3.3 0 1,0 6.6,0a3.3,3.3 0 1,0 -6.6,0M310.5,104v2h6.6v-2zM311.55,104.25a3.3,3.3 0 1,0 6.6,0a3.3,3.3 0 1,0 -6.6,0M311.55,107.25a3.3,3.3 0 1,0 6.6,0a3.3,3.3 0 1,0 -6.6,0M311.55,104.78v2.2h6.6v-2.2zM312.6,104.88a3.3,3.3 0 1,0 6.6,0a3.3,3.3 0 1,0 -6.6,0M312.6,108.68a3.3,3.3 0 1,0 6.6,0a3.3,3.3 0 1,0 -6.6,0M312.6,105.55v2.4h6.6v-2.4zM313.65,105.57a3.3,3.3 0 1,0 6.6,0a3.3,3.3 0 1,0 -6.6,0M313.65,109.29a3.3,3.3 0 1,0 6.6,0a3.3,3.3 0 1,0 -6.6,0M313.65,106.33v2.6h6.6v-2.6zM314.7,106.33a3.3,3.3 0 1,0 6.6,0a3.3,3.3 0 1,0 -6.6,0M314.7,109.51a3.3,3.3 0 1,0 6.6,0a3.3,3.3 0 1,0 -6.6,0M314.7,107.1v2.8h6.6v-2.8zM316.15,108.4a3.3,3.3 0 1,0 6.6,0a3.3,3.3 0 1,0 -6.6,0M316.15,110.55a3.3,3.3 0 1,0 6.6,0a3.3,3.3 0 1,0 -6.6,0M316.15,107.9v3.2h6.6v-3.2zM317.6,108.19a3.3,3.3 0 1,0 6.6,0a3.3,3.3 0 1,0 -6.6,0M317.6,112.61a3.3,3.3 0 1,0 6.6,0a3.3,3.3 0 1,0 -6.6,0M317.6,108.7v3.6h6.6v-3.6zM318.4,109.68a3.3,3.3 0 1,0 6.6,0a3.3,3.3 0 1,0 -6.6,0M318.4,112.74a3.3,3.3 0 1,0 6.6,0a3.3,3.3 0 1,0 -6.6,0M318.4,109.87v3.6h6.6v-3.6zM319.2,111.82a3.3,3.3 0 1,0 6.6,0a3.3,3.3 0 1,0 -6.6,0M319.2,114.08a3.3,3.3 0 1,0 6.6,0a3.3,3.3 0 1,0 -6.6,0M319.2,111.03v3.6h6.6v-3.6zM320,111.46a3.3,3.3 0 1,0 6.6,0a3.3,3.3 0 1,0 -6.6,0M320,115.55a3.3,3.3 0 1,0 6.6,0a3.3,3.3 0 1,0 -6.6,0M320,112.2v3.6h6.6v-3.6zM320.86,113.2a3.3,3.3 0 1,0 6.6,0a3.3,3.3 0 1,0 -6.6,0M320.86,117.17a3.3,3.3 0 1,0 6.6,0a3.3,3.3 0 1,0 -6.6,0M320.86,113.02v3.76h6.6v-3.76zM321.72,113.22a3.3,3.3 0 1,0 6.6,0a3.3,3.3 0 1,0 -6.6,0M321.72,117.5a3.3,3.3 0 1,0 6.6,0a3.3,3.3 0 1,0 -6.6,0M321.72,113.84v3.92h6.6v-3.92zM322.58,113.91a3.3,3.3 0 1,0 6.6,0a3.3,3.3 0 1,0 -6.6,0M322.58,118.66a3.3,3.3 0 1,0 6.6,0a3.3,3.3 0 1,0 -6.6,0M322.58,114.66v4.08h6.6v-4.08zM323.44,115.91a3.3,3.3 0 1,0 6.6,0a3.3,3.3 0 1,0 -6.6,0M323.44,120.1a3.3,3.3 0 1,0 6.6,0a3.3,3.3 0 1,0 -6.6,0M323.44,115.48v4.24h6.6v-4.24zM324.3,116.94a3.3,3.3 0 1,0 6.6,0a3.3,3.3 0 1,0 -6.6,0M324.3,121.11a3.3,3.3 0 1,0 6.6,0a3.3,3.3 0 1,0 -6.6,0M324.3,116.3v4.4h6.6v-4.4zM325.15,117.78a3.3,3.3 0 1,0 6.6,0a3.3,3.3 0 1,0 -6.6,0M325.15,122.13a3.3,3.3 0 1,0 6.6,0a3.3,3.3 0 1,0 -6.6,0M325.15,117.2v4.6h6.6v-4.6zM326,118.06a3.3,3.3 0 1,0 6.6,0a3.3,3.3 0 1,0 -6.6,0M326,122.46a3.3,3.3 0 1,0 6.6,0a3.3,3.3 0 1,0 -6.6,0M326,118.1v4.8h6.6v-4.8zM326.85,119.26a3.3,3.3 0 1,0 6.6,0a3.3,3.3 0 1,0 -6.6,0M326.85,123.71a3.3,3.3 0 1,0 6.6,0a3.3,3.3 0 1,0 -6.6,0M326.85,119v5h6.6v-5zM327.7,119.26a3.3,3.3 0 1,0 6.6,0a3.3,3.3 0 1,0 -6.6,0M327.7,125.02a3.3,3.3 0 1,0 6.6,0a3.3,3.3 0 1,0 -6.6,0M327.7,119.9v5.2h6.6v-5.2zM328.7,121.5a3.3,3.3 0 1,0 6.6,0a3.3,3.3 0 1,0 -6.6,0M328.7,125.5a3.3,3.3 0 1,0 6.6,0a3.3,3.3 0 1,0 -6.6,0M328.7,120.9v5.2h6.6v-5.2zM329.7,122.04a3.3,3.3 0 1,0 6.6,0a3.3,3.3 0 1,0 -6.6,0M329.7,126.93a3.3,3.3 0 1,0 6.6,0a3.3,3.3 0 1,0 -6.6,0M329.7,121.9v5.2h6.6v-5.2zM330.7,122.92a3.3,3.3 0 1,0 6.6,0a3.3,3.3 0 1,0 -6.6,0M330.7,127.53a3.3,3.3 0 1,0 6.6,0a3.3,3.3 0 1,0 -6.6,0M330.7,122.9v5.2h6.6v-5.2zM331.7,124.64a3.3,3.3 0 1,0 6.6,0a3.3,3.3 0 1,0 -6.6,0M331.7,128.71a3.3,3.3 0 1,0 6.6,0a3.3,3.3 0 1,0 -6.6,0M331.7,123.9v5.2h6.6v-5.2zM332.7,125.07a3.3,3.3 0 1,0 6.6,0a3.3,3.3 0 1,0 -6.6,0M332.7,129.97a3.3,3.3 0 1,0 6.6,0a3.3,3.3 0 1,0 -6.6,0M332.7,124.9v5.2h6.6v-5.2zM333.57,125.05a3.3,3.3 0 1,0 6.6,0a3.3,3.3 0 1,0 -6.6,0M333.57,131.11a3.3,3.3 0 1,0 6.6,0a3.3,3.3 0 1,0 -6.6,0M333.57,125.82v5.2h6.6v-5.2zM334.43,126.16a3.3,3.3 0 1,0 6.6,0a3.3,3.3 0 1,0 -6.6,0M334.43,131.22a3.3,3.3 0 1,0 6.6,0a3.3,3.3 0 1,0 -6.6,0M334.43,126.73v5.2h6.6v-5.2zM335.3,126.9a3.3,3.3 0 1,0 6.6,0a3.3,3.3 0 1,0 -6.6,0M335.3,132.31a3.3,3.3 0 1,0 6.6,0a3.3,3.3 0 1,0 -6.6,0M335.3,127.65v5.2h6.6v-5.2zM336.17,127.92a3.3,3.3 0 1,0 6.6,0a3.3,3.3 0 1,0 -6.6,0M336.17,133.98a3.3,3.3 0 1,0 6.6,0a3.3,3.3 0 1,0 -6.6,0M336.17,128.57v5.2h6.6v-5.2zM337.03,129.5a3.3,3.3 0 1,0 6.6,0a3.3,3.3 0 1,0 -6.6,0M337.03,135.46a3.3,3.3 0 1,0 6.6,0a3.3,3.3 0 1,0 -6.6,0M337.03,129.48v5.2h6.6v-5.2zM337.9,131.09a3.3,3.3 0 1,0 6.6,0a3.3,3.3 0 1,0 -6.6,0M337.9,136.39a3.3,3.3 0 1,0 6.6,0a3.3,3.3 0 1,0 -6.6,0M337.9,130.4v5.2h6.6v-5.2zM338.7,130.89a3.3,3.3 0 1,0 6.6,0a3.3,3.3 0 1,0 -6.6,0M338.7,136.43a3.3,3.3 0 1,0 6.6,0a3.3,3.3 0 1,0 -6.6,0M338.7,131.32v5.2h6.6v-5.2zM339.5,131.83a3.3,3.3 0 1,0 6.6,0a3.3,3.3 0 1,0 -6.6,0M339.5,137.58a3.3,3.3 0 1,0 6.6,0a3.3,3.3 0 1,0 -6.6,0M339.5,132.23v5.2h6.6v-5.2zM340.3,133.35a3.3,3.3 0 1,0 6.6,0a3.3,3.3 0 1,0 -6.6,0M340.3,138.83a3.3,3.3 0 1,0 6.6,0a3.3,3.3 0 1,0 -6.6,0M340.3,133.15v5.2h6.6v-5.2zM341.1,134.4a3.3,3.3 0 1,0 6.6,0a3.3,3.3 0 1,0 -6.6,0M341.1,138.88a3.3,3.3 0 1,0 6.6,0a3.3,3.3 0 1,0 -6.6,0M341.1,134.07v5.2h6.6v-5.2zM341.9,134.86a3.3,3.3 0 1,0 6.6,0a3.3,3.3 0 1,0 -6.6,0M341.9,140.23a3.3,3.3 0 1,0 6.6,0a3.3,3.3 0 1,0 -6.6,0M341.9,134.98v5.2h6.6v-5.2zM342.7,135.11a3.3,3.3 0 1,0 6.6,0a3.3,3.3 0 1,0 -6.6,0M342.7,140.36a3.3,3.3 0 1,0 6.6,0a3.3,3.3 0 1,0 -6.6,0M342.7,135.9v5.2h6.6v-5.2zM343.6,136.75a3.3,3.3 0 1,0 6.6,0a3.3,3.3 0 1,0 -6.6,0M343.6,141.41a3.3,3.3 0 1,0 6.6,0a3.3,3.3 0 1,0 -6.6,0M343.6,136.9v5.13h6.6v-5.13zM344.5,138.26a3.3,3.3 0 1,0 6.6,0a3.3,3.3 0 1,0 -6.6,0M344.5,142.55a3.3,3.3 0 1,0 6.6,0a3.3,3.3 0 1,0 -6.6,0M344.5,137.9v5.07h6.6v-5.07zM345.4,138.26a3.3,3.3 0 1,0 6.6,0a3.3,3.3 0 1,0 -6.6,0M345.4,143.39a3.3,3.3 0 1,0 6.6,0a3.3,3.3 0 1,0 -6.6,0M345.4,138.9v5h6.6v-5zM346.3,139.47a3.3,3.3 0 1,0 6.6,0a3.3,3.3 0 1,0 -6.6,0M346.3,144.38a3.3,3.3 0 1,0 6.6,0a3.3,3.3 0 1,0 -6.6,0M346.3,139.9v4.93h6.6v-4.93zM347.2,140.93a3.3,3.3 0 1,0 6.6,0a3.3,3.3 0 1,0 -6.6,0M347.2,145.71a3.3,3.3 0 1,0 6.6,0a3.3,3.3 0 1,0 -6.6,0M347.2,140.9v4.87h6.6v-4.87zM348.1,141.6a3.3,3.3 0 1,0 6.6,0a3.3,3.3 0 1,0 -6.6,0M348.1,146.93a3.3,3.3 0 1,0 6.6,0a3.3,3.3 0 1,0 -6.6,0M348.1,141.9v4.8h6.6v-4.8zM349,142.59a3.3,3.3 0 1,0 6.6,0a3.3,3.3 0 1,0 -6.6,0M349,148.3a3.3,3.3 0 1,0 6.6,0a3.3,3.3 0 1,0 -6.6,0M349,143.05v4.6h6.6v-4.6zM349.9,144.94a3.3,3.3 0 1,0 6.6,0a3.3,3.3 0 1,0 -6.6,0M349.9,148.97a3.3,3.3 0 1,0 6.6,0a3.3,3.3 0 1,0 -6.6,0M349.9,144.2v4.4h6.6v-4.4zM350.8,145.24a3.3,3.3 0 1,0 6.6,0a3.3,3.3 0 1,0 -6.6,0M350.8,149.57a3.3,3.3 0 1,0 6.6,0a3.3,3.3 0 1,0 -6.6,0M350.8,145.35v4.2h6.6v-4.2zM351.7,146.63a3.3,3.3 0 1,0 6.6,0a3.3,3.3 0 1,0 -6.6,0M351.7,149.78a3.3,3.3 0 1,0 6.6,0a3.3,3.3 0 1,0 -6.6,0M351.7,146.5v4h6.6v-4zM353.1,148.67a3.3,3.3 0 1,0 6.6,0a3.3,3.3 0 1,0 -6.6,0M353.1,151.24a3.3,3.3 0 1,0 6.6,0a3.3,3.3 0 1,0 -6.6,0M353.1,148.8v2.4h6.6v-2.4z" fill="#424aa8"/>
<circle cx="71.6" cy="307.6" r="4.1" fill="#424aa8"/>
<circle cx="69.3" cy="311.6" r="4.1" fill="#424aa8"/>
<circle cx="70.5" cy="309.5" r="4.1" fill="#424aa8"/>
<circle cx="83.9" cy="309.9" r="3.3" fill="#424aa8"/>
<circle cx="89.8" cy="313.4" r="3.3" fill="#424aa8"/>
<circle cx="91.5" cy="311" r="3.3" fill="#424aa8"/>
<circle cx="93.9" cy="308.7" r="3.3" fill="#424aa8"/>
<circle cx="95.5" cy="308" r="3.3" fill="#424aa8"/>
<circle cx="96.5" cy="312" r="3.3" fill="#424aa8"/>
<circle cx="97.4" cy="307.5" r="3.3" fill="#424aa8"/>
<circle cx="98.5" cy="318" r="3.3" fill="#424aa8"/>
<circle cx="99" cy="314" r="3.3" fill="#424aa8"/>
<circle cx="100" cy="310.5" r="3.3" fill="#424aa8"/>
<circle cx="102" cy="308.7" r="3.3" fill="#424aa8"/>
<circle cx="103" cy="310" r="3.3" fill="#424aa8"/>
<circle cx="104.4" cy="311.6" r="3.3" fill="#424aa8"/>
<circle cx="106" cy="314.5" r="3.3" fill="#424aa8"/>
<circle cx="107.9" cy="316.9" r="3.3" fill="#424aa8"/>
<circle cx="109" cy="317.5" r="3.3" fill="#424aa8"/>
<circle cx="110.2" cy="318.6" r="3.3" fill="#424aa8"/>
<circle cx="112.5" cy="319" r="3.3" fill="#424aa8"/>
<circle cx="114.9" cy="319.2" r="3.3" fill="#424aa8"/>
<circle cx="116" cy="318" r="3.3" fill="#424aa8"/>
<circle cx="117.2" cy="316.9" r="3.3" fill="#424aa8"/>
<circle cx="119" cy="314.5" r="3.3" fill="#424aa8"/>
<circle cx="120.7" cy="312.2" r="3.3" fill="#424aa8"/>
<circle cx="122.5" cy="313" r="3.3" fill="#424aa8"/>
<circle cx="125.4" cy="313.4" r="3.3" fill="#424aa8"/>
<circle cx="128" cy="312.5" r="3.3" fill="#424aa8"/>
<circle cx="130.1" cy="312.2" r="3.3" fill="#424aa8"/>
<circle cx="131.5" cy="310.5" r="3.3" fill="#424aa8"/>
<circle cx="133.6" cy="308.7" r="3.3" fill="#424aa8"/>
<circle cx="136" cy="308.7" r="3.3" fill="#424aa8"/>
<circle cx="138.2" cy="308.7" r="3.3" fill="#424aa8"/>
<circle cx="140" cy="309" r="3.3" fill="#424aa8"/>
<path d="M118.7,311.54a3.3,3.3 0 1,0 6.6,0a3.3,3.3 0 1,0 -6.6,0M118.7,314a3.3,3.3 0 1,0 6.6,0a3.3,3.3 0 1,0 -6.6,0M118.7,312.3v2.4h6.6v-2.4zM120,312.45a3.3,3.3 0 1,0 6.6,0a3.3,3.3 0 1,0 -6.6,0M120,315.47a3.3,3.3 0 1,0 6.6,0a3.3,3.3 0 1,0 -6.6,0M120,312.17v2.56h6.6v-2.56zM121.3,311.64a3.3,3.3 0 1,0 6.6,0a3.3,3.3 0 1,0 -6.6,0M121.3,314.69a3.3,3.3 0 1,0 6.6,0a3.3,3.3 0 1,0 -6.6,0M121.3,312.04v2.72h6.6v-2.72zM122.6,312.06a3.3,3.3 0 1,0 6.6,0a3.3,3.3 0 1,0 -6.6,0M122.6,314.5a3.3,3.3 0 1,0 6.6,0a3.3,3.3 0 1,0 -6.6,0M122.6,311.91v2.88h6.6v-2.88zM123.9,311.56a3.3,3.3 0 1,0 6.6,0a3.3,3.3 0 1,0 -6.6,0M123.9,314.52a3.3,3.3 0 1,0 6.6,0a3.3,3.3 0 1,0 -6.6,0M123.9,311.78v3.04h6.6v-3.04zM125.2,311.44a3.3,3.3 0 1,0 6.6,0a3.3,3.3 0 1,0 -6.6,0M125.2,315a3.3,3.3 0 1,0 6.6,0a3.3,3.3 0 1,0 -6.6,0M125.2,311.65v3.2h6.6v-3.2zM126.5,311.2a3.3,3.3 0 1,0 6.6,0a3.3,3.3 0 1,0 -6.6,0M126.5,314.68a3.3,3.3 0 1,0 6.6,0a3.3,3.3 0 1,0 -6.6,0M126.5,311.52v3.36h6.6v-3.36zM127.8,311.83a3.3,3.3 0 1,0 6.6,0a3.3,3.3 0 1,0 -6.6,0M127.8,314.15a3.3,3.3 0 1,0 6.6,0a3.3,3.3 0 1,0 -6.6,0M127.8,311.39v3.52h6.6v-3.52zM129.1,311.37a3.3,3.3 0 1,0 6.6,0a3.3,3.3 0 1,0 -6.6,0M129.1,315.32a3.3,3.3 0 1,0 6.6,0a3.3,3.3 0 1,0 -6.6,0M129.1,311.26v3.68h6.6v-3.68zM130.4,310.83a3.3,3.3 0 1,0 6.6,0a3.3,3.3 0 1,0 -6.6,0M130.4,314.53a3.3,3.3 0 1,0 6.6,0a3.3,3.3 0 1,0 -6.6,0M130.4,311.13v3.84h6.6v-3.84zM131.7,311.49a3.3,3.3 0 1,0 6.6,0a3.3,3.3 0 1,0 -6.6,0M131.7,314.58a3.3,3.3 0 1,0 6.6,0a3.3,3.3 0 1,0 -6.6,0M131.7,311v4h6.6v-4zM133,310.42a3.3,3.3 0 1,0 6.6,0a3.3,3.3 0 1,0 -6.6,0M133,314.75a3.3,3.3 0 1,0 6.6,0a3.3,3.3 0 1,0 -6.6,0M133,310.92v3.93h6.6v-3.93zM134.3,311.16a3.3,3.3 0 1,0 6.6,0a3.3,3.3 0 1,0 -6.6,0M134.3,314.07a3.3,3.3 0 1,0 6.6,0a3.3,3.3 0 1,0 -6.6,0M134.3,310.84v3.87h6.6v-3.87zM135.6,310.48a3.3,3.3 0 1,0 6.6,0a3.3,3.3 0 1,0 -6.6,0M135.6,314.3a3.3,3.3 0 1,0 6.6,0a3.3,3.3 0 1,0 -6.6,0M135.6,310.77v3.8h6.6v-3.8zM136.9,311.22a3.3,3.3 0 1,0 6.6,0a3.3,3.3 0 1,0 -6.6,0M136.9,314.32a3.3,3.3 0 1,0 6.6,0a3.3,3.3 0 1,0 -6.6,0M136.9,310.69v3.73h6.6v-3.73zM138.2,311.18a3.3,3.3 0 1,0 6.6,0a3.3,3.3 0 1,0 -6.6,0M138.2,313.75a3.3,3.3 0 1,0 6.6,0a3.3,3.3 0 1,0 -6.6,0M138.2,310.61v3.67h6.6v-3.67zM139.5,310.27a3.3,3.3 0 1,0 6.6,0a3.3,3.3 0 1,0 -6.6,0M139.5,314.37a3.3,3.3 0 1,0 6.6,0a3.3,3.3 0 1,0 -6.6,0M139.5,310.53v3.6h6.6v-3.6zM140.8,311.07a3.3,3.3 0 1,0 6.6,0a3.3,3.3 0 1,0 -6.6,0M140.8,313.91a3.3,3.3 0 1,0 6.6,0a3.3,3.3 0 1,0 -6.6,0M140.8,310.46v3.53h6.6v-3.53zM142.1,309.94a3.3,3.3 0 1,0 6.6,0a3.3,3.3 0 1,0 -6.6,0M142.1,313.24a3.3,3.3 0 1,0 6.6,0a3.3,3.3 0 1,0 -6.6,0M142.1,310.38v3.47h6.6v-3.47zM143.4,310.35a3.3,3.3 0 1,0 6.6,0a3.3,3.3 0 1,0 -6.6,0M143.4,313.21a3.3,3.3 0 1,0 6.6,0a3.3,3.3 0 1,0 -6.6,0M143.4,310.3v3.4h6.6v-3.4zM144.7,310.78a3.3,3.3 0 1,0 6.6,0a3.3,3.3 0 1,0 -6.6,0M144.7,314.14a3.3,3.3 0 1,0 6.6,0a3.3,3.3 0 1,0 -6.6,0M144.7,310.29v3.31h6.6v-3.31zM146,309.77a3.3,3.3 0 1,0 6.6,0a3.3,3.3 0 1,0 -6.6,0M146,313.15a3.3,3.3 0 1,0 6.6,0a3.3,3.3 0 1,0 -6.6,0M146,310.28v3.22h6.6v-3.22zM147.3,310.76a3.3,3.3 0 1,0 6.6,0a3.3,3.3 0 1,0 -6.6,0M147.3,313.63a3.3,3.3 0 1,0 6.6,0a3.3,3.3 0 1,0 -6.6,0M147.3,310.27v3.13h6.6v-3.13zM148.6,310.75a3.3,3.3 0 1,0 6.6,0a3.3,3.3 0 1,0 -6.6,0M148.6,313.05a3.3,3.3 0 1,0 6.6,0a3.3,3.3 0 1,0 -6.6,0M148.6,310.26v3.04h6.6v-3.04zM149.9,309.65a3.3,3.3 0 1,0 6.6,0a3.3,3.3 0 1,0 -6.6,0M149.9,312.87a3.3,3.3 0 1,0 6.6,0a3.3,3.3 0 1,0 -6.6,0M149.9,310.24v2.96h6.6v-2.96zM151.2,310.7a3.3,3.3 0 1,0 6.6,0a3.3,3.3 0 1,0 -6.6,0M151.2,312.73a3.3,3.3 0 1,0 6.6,0a3.3,3.3 0 1,0 -6.6,0M151.2,310.23v2.87h6.6v-2.87zM152.5,309.98a3.3,3.3 0 1,0 6.6,0a3.3,3.3 0 1,0 -6.6,0M152.5,312.87a3.3,3.3 0 1,0 6.6,0a3.3,3.3 0 1,0 -6.6,0M152.5,310.22v2.78h6.6v-2.78zM153.8,310.08a3.3,3.3 0 1,0 6.6,0a3.3,3.3 0 1,0 -6.6,0M153.8,312.76a3.3,3.3 0 1,0 6.6,0a3.3,3.3 0 1,0 -6.6,0M153.8,310.21v2.69h6.6v-2.69zM155.1,310.87a3.3,3.3 0 1,0 6.6,0a3.3,3.3 0 1,0 -6.6,0M155.1,312.25a3.3,3.3 0 1,0 6.6,0a3.3,3.3 0 1,0 -6.6,0M155.1,310.2v2.6h6.6v-2.6zM156.39,309.26a3.3,3.3 0 1,0 6.6,0a3.3,3.3 0 1,0 -6.6,0M156.39,313.32a3.3,3.3 0 1,0 6.6,0a3.3,3.3 0 1,0 -6.6,0M156.39,310.06v2.56h6.6v-2.56zM157.68,310.52a3.3,3.3 0 1,0 6.6,0a3.3,3.3 0 1,0 -6.6,0M157.68,313.2a3.3,3.3 0 1,0 6.6,0a3.3,3.3 0 1,0 -6.6,0M157.68,309.91v2.51h6.6v-2.51zM158.97,309.66a3.3,3.3 0 1,0 6.6,0a3.3,3.3 0 1,0 -6.6,0M158.97,312.95a3.3,3.3 0 1,0 6.6,0a3.3,3.3 0 1,0 -6.6,0M158.97,309.77v2.47h6.6v-2.47zM160.26,310.31a3.3,3.3 0 1,0 6.6,0a3.3,3.3 0 1,0 -6.6,0M160.26,311.6a3.3,3.3 0 1,0 6.6,0a3.3,3.3 0 1,0 -6.6,0M160.26,309.62v2.42h6.6v-2.42zM161.54,309.87a3.3,3.3 0 1,0 6.6,0a3.3,3.3 0 1,0 -6.6,0M161.54,312.39a3.3,3.3 0 1,0 6.6,0a3.3,3.3 0 1,0 -6.6,0M161.54,309.48v2.38h6.6v-2.38zM162.83,309.59a3.3,3.3 0 1,0 6.6,0a3.3,3.3 0 1,0 -6.6,0M162.83,311.7a3.3,3.3 0 1,0 6.6,0a3.3,3.3 0 1,0 -6.6,0M162.83,309.33v2.33h6.6v-2.33zM164.12,308.85a3.3,3.3 0 1,0 6.6,0a3.3,3.3 0 1,0 -6.6,0M164.12,311.22a3.3,3.3 0 1,0 6.6,0a3.3,3.3 0 1,0 -6.6,0M164.12,309.19v2.29h6.6v-2.29zM165.41,308.61a3.3,3.3 0 1,0 6.6,0a3.3,3.3 0 1,0 -6.6,0M165.41,310.6a3.3,3.3 0 1,0 6.6,0a3.3,3.3 0 1,0 -6.6,0M165.41,309.04v2.24h6.6v-2.24zM166.7,309.04a3.3,3.3 0 1,0 6.6,0a3.3,3.3 0 1,0 -6.6,0M166.7,310.76a3.3,3.3 0 1,0 6.6,0a3.3,3.3 0 1,0 -6.6,0M166.7,308.9v2.2h6.6v-2.2zM167.87,309.7a3.3,3.3 0 1,0 6.6,0a3.3,3.3 0 1,0 -6.6,0M167.87,311.41a3.3,3.3 0 1,0 6.6,0a3.3,3.3 0 1,0 -6.6,0M167.87,309.2v2.93h6.6v-2.93zM169.03,310.15a3.3,3.3 0 1,0 6.6,0a3.3,3.3 0 1,0 -6.6,0M169.03,313.48a3.3,3.3 0 1,0 6.6,0a3.3,3.3 0 1,0 -6.6,0M169.03,309.5v3.67h6.6v-3.67zM170.2,310.48a3.3,3.3 0 1,0 6.6,0a3.3,3.3 0 1,0 -6.6,0M170.2,314.83a3.3,3.3 0 1,0 6.6,0a3.3,3.3 0 1,0 -6.6,0M170.2,309.8v4.4h6.6v-4.4zM171.67,310.19a3.3,3.3 0 1,0 6.6,0a3.3,3.3 0 1,0 -6.6,0M171.67,314.07a3.3,3.3 0 1,0 6.6,0a3.3,3.3 0 1,0 -6.6,0M171.67,309.55v4.4h6.6v-4.4zM173.15,308.52a3.3,3.3 0 1,0 6.6,0a3.3,3.3 0 1,0 -6.6,0M173.15,314.09a3.3,3.3 0 1,0 6.6,0a3.3,3.3 0 1,0 -6.6,0M173.15,309.3v4.4h6.6v-4.4zM174.62,308.52a3.3,3.3 0 1,0 6.6,0a3.3,3.3 0 1,0 -6.6,0M174.62,313.13a3.3,3.3 0 1,0 6.6,0a3.3,3.3 0 1,0 -6.6,0M174.62,309.05v4.4h6.6v-4.4zM176.1,309.06a3.3,3.3 0 1,0 6.6,0a3.3,3.3 0 1,0 -6.6,0M176.1,313.24a3.3,3.3 0 1,0 6.6,0a3.3,3.3 0 1,0 -6.6,0M176.1,308.8v4.4h6.6v-4.4zM177.47,308.58a3.3,3.3 0 1,0 6.6,0a3.3,3.3 0 1,0 -6.6,0M177.47,313.82a3.3,3.3 0 1,0 6.6,0a3.3,3.3 0 1,0 -6.6,0M177.47,308.72v4.4h6.6v-4.4zM178.83,308.81a3.3,3.3 0 1,0 6.6,0a3.3,3.3 0 1,0 -6.6,0M178.83,312.78a3.3,3.3 0 1,0 6.6,0a3.3,3.3 0 1,0 -6.6,0M178.83,308.63v4.4h6.6v-4.4zM180.2,308.15a3.3,3.3 0 1,0 6.6,0a3.3,3.3 0 1,0 -6.6,0M180.2,313.53a3.3,3.3 0 1,0 6.6,0a3.3,3.3 0 1,0 -6.6,0M180.2,308.55v4.4h6.6v-4.4zM181.57,308.43a3.3,3.3 0 1,0 6.6,0a3.3,3.3 0 1,0 -6.6,0M181.57,313.32a3.3,3.3 0 1,0 6.6,0a3.3,3.3 0 1,0 -6.6,0M181.57,308.47v4.4h6.6v-4.4zM182.93,308.15a3.3,3.3 0 1,0 6.6,0a3.3,3.3 0 1,0 -6.6,0M182.93,312.3a3.3,3.3 0 1,0 6.6,0a3.3,3.3 0 1,0 -6.6,0M182.93,308.38v4.4h6.6v-4.4zM184.3,308.36a3.3,3.3 0 1,0 6.6,0a3.3,3.3 0 1,0 -6.6,0M184.3,313.21a3.3,3.3 0 1,0 6.6,0a3.3,3.3 0 1,0 -6.6,0M184.3,308.3v4.4h6.6v-4.4zM186.05,307.87a3.3,3.3 0 1,0 6.6,0a3.3,3.3 0 1,0 -6.6,0M186.05,313.57a3.3,3.3 0 1,0 6.6,0a3.3,3.3 0 1,0 -6.6,0M186.05,308.4v4.7h6.6v-4.7zM187.8,309.17a3.3,3.3 0 1,0 6.6,0a3.3,3.3 0 1,0 -6.6,0M187.8,313.99a3.3,3.3 0 1,0 6.6,0a3.3,3.3 0 1,0 -6.6,0M187.8,308.5v5h6.6v-5zM188.38,307.72a3.3,3.3 0 1,0 6.6,0a3.3,3.3 0 1,0 -6.6,0M188.38,311.61a3.3,3.3 0 1,0 6.6,0a3.3,3.3 0 1,0 -6.6,0M188.38,307.2v5.2h6.6v-5.2zM188.96,306.11a3.3,3.3 0 1,0 6.6,0a3.3,3.3 0 1,0 -6.6,0M188.96,311.88a3.3,3.3 0 1,0 6.6,0a3.3,3.3 0 1,0 -6.6,0M188.96,305.9v5.4h6.6v-5.4zM189.54,303.88a3.3,3.3 0 1,0 6.6,0a3.3,3.3 0 1,0 -6.6,0M189.54,309.83a3.3,3.3 0 1,0 6.6,0a3.3,3.3 0 1,0 -6.6,0M189.54,304.6v5.6h6.6v-5.6zM190.12,302.93a3.3,3.3 0 1,0 6.6,0a3.3,3.3 0 1,0 -6.6,0M190.12,309.14a3.3,3.3 0 1,0 6.6,0a3.3,3.3 0 1,0 -6.6,0M190.12,303.3v5.8h6.6v-5.8zM190.7,301.88a3.3,3.3 0 1,0 6.6,0a3.3,3.3 0 1,0 -6.6,0M190.7,307.96a3.3,3.3 0 1,0 6.6,0a3.3,3.3 0 1,0 -6.6,0M190.7,302v6h6.6v-6zM191.37,301.61a3.3,3.3 0 1,0 6.6,0a3.3,3.3 0 1,0 -6.6,0M191.37,306.04a3.3,3.3 0 1,0 6.6,0a3.3,3.3 0 1,0 -6.6,0M191.37,301.17v5.67h6.6v-5.67zM192.03,299.62a3.3,3.3 0 1,0 6.6,0a3.3,3.3 0 1,0 -6.6,0M192.03,305.07a3.3,3.3 0 1,0 6.6,0a3.3,3.3 0 1,0 -6.6,0M192.03,300.33v5.33h6.6v-5.33zM192.7,298.9a3.3,3.3 0 1,0 6.6,0a3.3,3.3 0 1,0 -6.6,0M192.7,303.81a3.3,3.3 0 1,0 6.6,0a3.3,3.3 0 1,0 -6.6,0M192.7,299.5v5h6.6v-5zM194.7,299.76a3.3,3.3 0 1,0 6.6,0a3.3,3.3 0 1,0 -6.6,0M194.7,303.57a3.3,3.3 0 1,0 6.6,0a3.3,3.3 0 1,0 -6.6,0M194.7,299v4h6.6v-4zM196.1,298.34a3.3,3.3 0 1,0 6.6,0a3.3,3.3 0 1,0 -6.6,0M196.1,302.8a3.3,3.3 0 1,0 6.6,0a3.3,3.3 0 1,0 -6.6,0M196.1,299v3.8h6.6v-3.8zM197.5,298.71a3.3,3.3 0 1,0 6.6,0a3.3,3.3 0 1,0 -6.6,0M197.5,302.3a3.3,3.3 0 1,0 6.6,0a3.3,3.3 0 1,0 -6.6,0M197.5,299v3.6h6.6v-3.6zM198.9,298.76a3.3,3.3 0 1,0 6.6,0a3.3,3.3 0 1,0 -6.6,0M198.9,302.64a3.3,3.3 0 1,0 6.6,0a3.3,3.3 0 1,0 -6.6,0M198.9,299v3.4h6.6v-3.4zM200.3,299.14a3.3,3.3 0 1,0 6.6,0a3.3,3.3 0 1,0 -6.6,0M200.3,301.98a3.3,3.3 0 1,0 6.6,0a3.3,3.3 0 1,0 -6.6,0M200.3,299v3.2h6.6v-3.2zM201.7,298.51a3.3,3.3 0 1,0 6.6,0a3.3,3.3 0 1,0 -6.6,0M201.7,301.73a3.3,3.3 0 1,0 6.6,0a3.3,3.3 0 1,0 -6.6,0M201.7,299v3h6.6v-3zM202.95,298.02a3.3,3.3 0 1,0 6.6,0a3.3,3.3 0 1,0 -6.6,0M202.95,301.71a3.3,3.3 0 1,0 6.6,0a3.3,3.3 0 1,0 -6.6,0M202.95,298.62v3h6.6v-3zM204.2,298.6a3.3,3.3 0 1,0 6.6,0a3.3,3.3 0 1,0 -6.6,0M204.2,301.06a3.3,3.3 0 1,0 6.6,0a3.3,3.3 0 1,0 -6.6,0M204.2,298.25v3h6.6v-3zM205.45,297.2a3.3,3.3 0 1,0 6.6,0a3.3,3.3 0 1,0 -6.6,0M205.45,300.36a3.3,3.3 0 1,0 6.6,0a3.3,3.3 0 1,0 -6.6,0M205.45,297.88v3h6.6v-3zM206.7,297.3a3.3,3.3 0 1,0 6.6,0a3.3,3.3 0 1,0 -6.6,0M206.7,300.67a3.3,3.3 0 1,0 6.6,0a3.3,3.3 0 1,0 -6.6,0M206.7,297.5v3h6.6v-3zM207.95,297.88a3.3,3.3 0 1,0 6.6,0a3.3,3.3 0 1,0 -6.6,0M207.95,300.23a3.3,3.3 0 1,0 6.6,0a3.3,3.3 0 1,0 -6.6,0M207.95,297.43v3h6.6v-3zM209.2,297.83a3.3,3.3 0 1,0 6.6,0a3.3,3.3 0 1,0 -6.6,0M209.2,300.55a3.3,3.3 0 1,0 6.6,0a3.3,3.3 0 1,0 -6.6,0M209.2,297.35v3h6.6v-3zM210.45,297.17a3.3,3.3 0 1,0 6.6,0a3.3,3.3 0 1,0 -6.6,0M210.45,300.07a3.3,3.3 0 1,0 6.6,0a3.3,3.3 0 1,0 -6.6,0M210.45,297.27v3h6.6v-3zM211.7,297.19a3.3,3.3 0 1,0 6.6,0a3.3,3.3 0 1,0 -6.6,0M211.7,300.52a3.3,3.3 0 1,0 6.6,0a3.3,3.3 0 1,0 -6.6,0M211.7,297.2v3h6.6v-3zM212.95,296.85a3.3,3.3 0 1,0 6.6,0a3.3,3.3 0 1,0 -6.6,0M212.95,300.14a3.3,3.3 0 1,0 6.6,0a3.3,3.3 0 1,0 -6.6,0M212.95,296.97v2.85h6.6v-2.85zM214.2,296.69a3.3,3.3 0 1,0 6.6,0a3.3,3.3 0 1,0 -6.6,0M214.2,299.04a3.3,3.3 0 1,0 6.6,0a3.3,3.3 0 1,0 -6.6,0M214.2,296.75v2.7h6.6v-2.7zM215.45,296.58a3.3,3.3 0 1,0 6.6,0a3.3,3.3 0 1,0 -6.6,0M215.45,299.39a3.3,3.3 0 1,0 6.6,0a3.3,3.3 0 1,0 -6.6,0M215.45,296.53v2.55h6.6v-2.55zM216.7,295.61a3.3,3.3 0 1,0 6.6,0a3.3,3.3 0 1,0 -6.6,0M216.7,298.58a3.3,3.3 0 1,0 6.6,0a3.3,3.3 0 1,0 -6.6,0M216.7,296.3v2.4h6.6v-2.4zM217.9,296.58a3.3,3.3 0 1,0 6.6,0a3.3,3.3 0 1,0 -6.6,0M217.9,299.57a3.3,3.3 0 1,0 6.6,0a3.3,3.3 0 1,0 -6.6,0M217.9,296.7v2.27h6.6v-2.27zM219.1,297.8a3.3,3.3 0 1,0 6.6,0a3.3,3.3 0 1,0 -6.6,0M219.1,299.03a3.3,3.3 0 1,0 6.6,0a3.3,3.3 0 1,0 -6.6,0M219.1,297.1v2.13h6.6v-2.13zM220.3,298.14a3.3,3.3 0 1,0 6.6,0a3.3,3.3 0 1,0 -6.6,0M220.3,299.97a3.3,3.3 0 1,0 6.6,0a3.3,3.3 0 1,0 -6.6,0M220.3,297.5v2h6.6v-2zM221.5,297.52a3.3,3.3 0 1,0 6.6,0a3.3,3.3 0 1,0 -6.6,0M221.5,299.71a3.3,3.3 0 1,0 6.6,0a3.3,3.3 0 1,0 -6.6,0M221.5,297.9v1.87h6.6v-1.87zM222.7,297.7a3.3,3.3 0 1,0 6.6,0a3.3,3.3 0 1,0 -6.6,0M222.7,300.53a3.3,3.3 0 1,0 6.6,0a3.3,3.3 0 1,0 -6.6,0M222.7,298.3v1.73h6.6v-1.73zM223.9,298.96a3.3,3.3 0 1,0 6.6,0a3.3,3.3 0 1,0 -6.6,0M223.9,300.92a3.3,3.3 0 1,0 6.6,0a3.3,3.3 0 1,0 -6.6,0M223.9,298.7v1.6h6.6v-1.6zM225.11,299.41a3.3,3.3 0 1,0 6.6,0a3.3,3.3 0 1,0 -6.6,0M225.11,300.7a3.3,3.3 0 1,0 6.6,0a3.3,3.3 0 1,0 -6.6,0M225.11,298.94v1.49h6.6v-1.49zM226.33,299.56a3.3,3.3 0 1,0 6.6,0a3.3,3.3 0 1,0 -6.6,0M226.33,300.66a3.3,3.3 0 1,0 6.6,0a3.3,3.3 0 1,0 -6.6,0M226.33,299.19v1.37h6.6v-1.37zM227.54,298.79a3.3,3.3 0 1,0 6.6,0a3.3,3.3 0 1,0 -6.6,0M227.54,300.83a3.3,3.3 0 1,0 6.6,0a3.3,3.3 0 1,0 -6.6,0M227.54,299.43v1.26h6.6v-1.26zM228.76,298.88a3.3,3.3 0 1,0 6.6,0a3.3,3.3 0 1,0 -6.6,0M228.76,300.24a3.3,3.3 0 1,0 6.6,0a3.3,3.3 0 1,0 -6.6,0M228.76,299.67v1.14h6.6v-1.14zM229.97,300.35a3.3,3.3 0 1,0 6.6,0a3.3,3.3 0 1,0 -6.6,0M229.97,300.21a3.3,3.3 0 1,0 6.6,0a3.3,3.3 0 1,0 -6.6,0M229.97,299.91v1.03h6.6v-1.03zM231.19,299.5a3.3,3.3 0 1,0 6.6,0a3.3,3.3 0 1,0 -6.6,0M231.19,300.43a3.3,3.3 0 1,0 6.6,0a3.3,3.3 0 1,0 -6.6,0M231.19,300.16v0.91h6.6v-0.91zM232.4,301.01a3.3,3.3 0 1,0 6.6,0a3.3,3.3 0 1,0 -6.6,0M232.4,300.69a3.3,3.3 0 1,0 6.6,0a3.3,3.3 0 1,0 -6.6,0M232.4,300.4v0.8h6.6v-0.8zM233.6,300.12a3.3,3.3 0 1,0 6.6,0a3.3,3.3 0 1,0 -6.6,0M233.6,302.18a3.3,3.3 0 1,0 6.6,0a3.3,3.3 0 1,0 -6.6,0M233.6,300.89v0.74h6.6v-0.74zM234.8,300.77a3.3,3.3 0 1,0 6.6,0a3.3,3.3 0 1,0 -6.6,0M234.8,302.61a3.3,3.3 0 1,0 6.6,0a3.3,3.3 0 1,0 -6.6,0M234.8,301.37v0.69h6.6v-0.69zM236,302.13a3.3,3.3 0 1,0 6.6,0a3.3,3.3 0 1,0 -6.6,0M236,303.02a3.3,3.3 0 1,0 6.6,0a3.3,3.3 0 1,0 -6.6,0M236,301.86v0.63h6.6v-0.63zM237.2,303.07a3.3,3.3 0 1,0 6.6,0a3.3,3.3 0 1,0 -6.6,0M237.2,303.04a3.3,3.3 0 1,0 6.6,0a3.3,3.3 0 1,0 -6.6,0M238.4,303.31a3.3,3.3 0 1,0 6.6,0a3.3,3.3 0 1,0 -6.6,0M238.4,302.6a3.3,3.3 0 1,0 6.6,0a3.3,3.3 0 1,0 -6.6,0M239.6,303.74a3.3,3.3 0 1,0 6.6,0a3.3,3.3 0 1,0 -6.6,0M239.6,303.79a3.3,3.3 0 1,0 6.6,0a3.3,3.3 0 1,0 -6.6,0M240.8,304.14a3.3,3.3 0 1,0 6.6,0a3.3,3.3 0 1,0 -6.6,0M240.8,303.57a3.3,3.3 0 1,0 6.6,0a3.3,3.3 0 1,0 -6.6,0M241.74,304.95a3.3,3.3 0 1,0 6.6,0a3.3,3.3 0 1,0 -6.6,0M241.74,305.65a3.3,3.3 0 1,0 6.6,0a3.3,3.3 0 1,0 -6.6,0M242.69,304.61a3.3,3.3 0 1,0 6.6,0a3.3,3.3 0 1,0 -6.6,0M242.69,305.43a3.3,3.3 0 1,0 6.6,0a3.3,3.3 0 1,0 -6.6,0M243.63,306.17a3.3,3.3 0 1,0 6.6,0a3.3,3.3 0 1,0 -6.6,0M243.63,306.99a3.3,3.3 0 1,0 6.6,0a3.3,3.3 0 1,0 -6.6,0M244.58,306.41a3.3,3.3 0 1,0 6.6,0a3.3,3.3 0 1,0 -6.6,0M244.58,306.71a3.3,3.3 0 1,0 6.6,0a3.3,3.3 0 1,0 -6.6,0M245.52,307.18a3.3,3.3 0 1,0 6.6,0a3.3,3.3 0 1,0 -6.6,0M245.52,308.16a3.3,3.3 0 1,0 6.6,0a3.3,3.3 0 1,0 -6.6,0M246.47,308.74a3.3,3.3 0 1,0 6.6,0a3.3,3.3 0 1,0 -6.6,0M246.47,308.56a3.3,3.3 0 1,0 6.6,0a3.3,3.3 0 1,0 -6.6,0M247.41,308.88a3.3,3.3 0 1,0 6.6,0a3.3,3.3 0 1,0 -6.6,0M247.41,309.32a3.3,3.3 0 1,0 6.6,0a3.3,3.3 0 1,0 -6.6,0M248.36,309.6a3.3,3.3 0 1,0 6.6,0a3.3,3.3 0 1,0 -6.6,0M248.36,310.11a3.3,3.3 0 1,0 6.6,0a3.3,3.3 0 1,0 -6.6,0M249.3,309.93a3.3,3.3 0 1,0 6.6,0a3.3,3.3 0 1,0 -6.6,0M249.3,311a3.3,3.3 0 1,0 6.6,0a3.3,3.3 0 1,0 -6.6,0M250.24,312.2a3.3,3.3 0 1,0 6.6,0a3.3,3.3 0 1,0 -6.6,0M250.24,311.7a3.3,3.3 0 1,0 6.6,0a3.3,3.3 0 1,0 -6.6,0M251.19,312.68a3.3,3.3 0 1,0 6.6,0a3.3,3.3 0 1,0 -6.6,0M251.19,312.15a3.3,3.3 0 1,0 6.6,0a3.3,3.3 0 1,0 -6.6,0M252.13,313.44a3.3,3.3 0 1,0 6.6,0a3.3,3.3 0 1,0 -6.6,0M252.13,313.94a3.3,3.3 0 1,0 6.6,0a3.3,3.3 0 1,0 -6.6,0M253.08,314.26a3.3,3.3 0 1,0 6.6,0a3.3,3.3 0 1,0 -6.6,0M253.08,314.41a3.3,3.3 0 1,0 6.6,0a3.3,3.3 0 1,0 -6.6,0M254.02,314.8a3.3,3.3 0 1,0 6.6,0a3.3,3.3 0 1,0 -6.6,0M254.02,315.45a3.3,3.3 0 1,0 6.6,0a3.3,3.3 0 1,0 -6.6,0M254.97,316.3a3.3,3.3 0 1,0 6.6,0a3.3,3.3 0 1,0 -6.6,0M254.97,315.51a3.3,3.3 0 1,0 6.6,0a3.3,3.3 0 1,0 -6.6,0M255.91,315.86a3.3,3.3 0 1,0 6.6,0a3.3,3.3 0 1,0 -6.6,0M255.91,317.31a3.3,3.3 0 1,0 6.6,0a3.3,3.3 0 1,0 -6.6,0M256.86,318.02a3.3,3.3 0 1,0 6.6,0a3.3,3.3 0 1,0 -6.6,0M256.86,317.78a3.3,3.3 0 1,0 6.6,0a3.3,3.3 0 1,0 -6.6,0M257.8,318.11a3.3,3.3 0 1,0 6.6,0a3.3,3.3 0 1,0 -6.6,0M257.8,318.95a3.3,3.3 0 1,0 6.6,0a3.3,3.3 0 1,0 -6.6,0M258.73,318.54a3.3,3.3 0 1,0 6.6,0a3.3,3.3 0 1,0 -6.6,0M258.73,319.07a3.3,3.3 0 1,0 6.6,0a3.3,3.3 0 1,0 -6.6,0M259.67,319.41a3.3,3.3 0 1,0 6.6,0a3.3,3.3 0 1,0 -6.6,0M259.67,320.43a3.3,3.3 0 1,0 6.6,0a3.3,3.3 0 1,0 -6.6,0M260.6,320.44a3.3,3.3 0 1,0 6.6,0a3.3,3.3 0 1,0 -6.6,0M260.6,320.71a3.3,3.3 0 1,0 6.6,0a3.3,3.3 0 1,0 -6.6,0M261.53,321.88a3.3,3.3 0 1,0 6.6,0a3.3,3.3 0 1,0 -6.6,0M261.53,322.7a3.3,3.3 0 1,0 6.6,0a3.3,3.3 0 1,0 -6.6,0M262.47,322.1a3.3,3.3 0 1,0 6.6,0a3.3,3.3 0 1,0 -6.6,0M262.47,323.15a3.3,3.3 0 1,0 6.6,0a3.3,3.3 0 1,0 -6.6,0M263.4,323.13a3.3,3.3 0 1,0 6.6,0a3.3,3.3 0 1,0 -6.6,0M263.4,324.23a3.3,3.3 0 1,0 6.6,0a3.3,3.3 0 1,0 -6.6,0M264.33,324.25a3.3,3.3 0 1,0 6.6,0a3.3,3.3 0 1,0 -6.6,0M264.33,324.14a3.3,3.3 0 1,0 6.6,0a3.3,3.3 0 1,0 -6.6,0M265.27,324.5a3.3,3.3 0 1,0 6.6,0a3.3,3.3 0 1,0 -6.6,0M265.27,324.59a3.3,3.3 0 1,0 6.6,0a3.3,3.3 0 1,0 -6.6,0M266.2,325.77a3.3,3.3 0 1,0 6.6,0a3.3,3.3 0 1,0 -6.6,0M266.2,326.01a3.3,3.3 0 1,0 6.6,0a3.3,3.3 0 1,0 -6.6,0M267.26,326.09a3.3,3.3 0 1,0 6.6,0a3.3,3.3 0 1,0 -6.6,0M267.26,326.79a3.3,3.3 0 1,0 6.6,0a3.3,3.3 0 1,0 -6.6,0M268.32,327.14a3.3,3.3 0 1,0 6.6,0a3.3,3.3 0 1,0 -6.6,0M268.32,328.26a3.3,3.3 0 1,0 6.6,0a3.3,3.3 0 1,0 -6.6,0M269.39,327.67a3.3,3.3 0 1,0 6.6,0a3.3,3.3 0 1,0 -6.6,0M269.39,329.42a3.3,3.3 0 1,0 6.6,0a3.3,3.3 0 1,0 -6.6,0M270.45,329.02a3.3,3.3 0 1,0 6.6,0a3.3,3.3 0 1,0 -6.6,0M270.45,329.61a3.3,3.3 0 1,0 6.6,0a3.3,3.3 0 1,0 -6.6,0M271.51,329.81a3.3,3.3 0 1,0 6.6,0a3.3,3.3 0 1,0 -6.6,0M271.51,330.8a3.3,3.3 0 1,0 6.6,0a3.3,3.3 0 1,0 -6.6,0M272.57,331.19a3.3,3.3 0 1,0 6.6,0a3.3,3.3 0 1,0 -6.6,0M272.57,331.17a3.3,3.3 0 1,0 6.6,0a3.3,3.3 0 1,0 -6.6,0M273.64,331.46a3.3,3.3 0 1,0 6.6,0a3.3,3.3 0 1,0 -6.6,0M273.64,332.24a3.3,3.3 0 1,0 6.6,0a3.3,3.3 0 1,0 -6.6,0M274.7,332.87a3.3,3.3 0 1,0 6.6,0a3.3,3.3 0 1,0 -6.6,0M274.7,332.54a3.3,3.3 0 1,0 6.6,0a3.3,3.3 0 1,0 -6.6,0M275.67,333.46a3.3,3.3 0 1,0 6.6,0a3.3,3.3 0 1,0 -6.6,0M275.67,334.22a3.3,3.3 0 1,0 6.6,0a3.3,3.3 0 1,0 -6.6,0M276.64,333.82a3.3,3.3 0 1,0 6.6,0a3.3,3.3 0 1,0 -6.6,0M276.64,333.84a3.3,3.3 0 1,0 6.6,0a3.3,3.3 0 1,0 -6.6,0M277.61,334.23a3.3,3.3 0 1,0 6.6,0a3.3,3.3 0 1,0 -6.6,0M277.61,335.41a3.3,3.3 0 1,0 6.6,0a3.3,3.3 0 1,0 -6.6,0M278.59,335.72a3.3,3.3 0 1,0 6.6,0a3.3,3.3 0 1,0 -6.6,0M278.59,336.58a3.3,3.3 0 1,0 6.6,0a3.3,3.3 0 1,0 -6.6,0M279.56,336.79a3.3,3.3 0 1,0 6.6,0a3.3,3.3 0 1,0 -6.6,0M279.56,336.22a3.3,3.3 0 1,0 6.6,0a3.3,3.3 0 1,0 -6.6,0M280.53,336.52a3.3,3.3 0 1,0 6.6,0a3.3,3.3 0 1,0 -6.6,0M280.53,337.03a3.3,3.3 0 1,0 6.6,0a3.3,3.3 0 1,0 -6.6,0M281.5,337.3a3.3,3.3 0 1,0 6.6,0a3.3,3.3 0 1,0 -6.6,0M281.5,338.53a3.3,3.3 0 1,0 6.6,0a3.3,3.3 0 1,0 -6.6,0M282.85,339.52a3.3,3.3 0 1,0 6.6,0a3.3,3.3 0 1,0 -6.6,0M282.85,339.99a3.3,3.3 0 1,0 6.6,0a3.3,3.3 0 1,0 -6.6,0M284.2,339.71a3.3,3.3 0 1,0 6.6,0a3.3,3.3 0 1,0 -6.6,0M284.2,341.08a3.3,3.3 0 1,0 6.6,0a3.3,3.3 0 1,0 -6.6,0" fill="#424aa8"/>
<circle cx="291.6" cy="341.6" r="3.3" fill="#424aa8"/>
<circle cx="297.8" cy="348.8" r="3.3" fill="#424aa8"/>
<circle cx="300.7" cy="354.3" r="3.3" fill="#424aa8"/>
<path d="M298.7,355.48a3.3,3.3 0 1,0 6.6,0a3.3,3.3 0 1,0 -6.6,0M298.7,355.93a3.3,3.3 0 1,0 6.6,0a3.3,3.3 0 1,0 -6.6,0M299.77,356.27a3.3,3.3 0 1,0 6.6,0a3.3,3.3 0 1,0 -6.6,0M299.77,357.45a3.3,3.3 0 1,0 6.6,0a3.3,3.3 0 1,0 -6.6,0M300.83,358.63a3.3,3.3 0 1,0 6.6,0a3.3,3.3 0 1,0 -6.6,0M300.83,358.99a3.3,3.3 0 1,0 6.6,0a3.3,3.3 0 1,0 -6.6,0M301.9,359.38a3.3,3.3 0 1,0 6.6,0a3.3,3.3 0 1,0 -6.6,0M301.9,360.14a3.3,3.3 0 1,0 6.6,0a3.3,3.3 0 1,0 -6.6,0M302.83,359.1a3.3,3.3 0 1,0 6.6,0a3.3,3.3 0 1,0 -6.6,0M302.83,360.06a3.3,3.3 0 1,0 6.6,0a3.3,3.3 0 1,0 -6.6,0M303.77,361.48a3.3,3.3 0 1,0 6.6,0a3.3,3.3 0 1,0 -6.6,0M303.77,361.84a3.3,3.3 0 1,0 6.6,0a3.3,3.3 0 1,0 -6.6,0M303.77,360.73v0.67h6.6v-0.67zM304.7,361.46a3.3,3.3 0 1,0 6.6,0a3.3,3.3 0 1,0 -6.6,0M304.7,363.11a3.3,3.3 0 1,0 6.6,0a3.3,3.3 0 1,0 -6.6,0M304.7,361.6v0.8h6.6v-0.8zM305.48,362.72a3.3,3.3 0 1,0 6.6,0a3.3,3.3 0 1,0 -6.6,0M305.48,363.88a3.3,3.3 0 1,0 6.6,0a3.3,3.3 0 1,0 -6.6,0M305.48,362.52v0.84h6.6v-0.84zM306.26,363.11a3.3,3.3 0 1,0 6.6,0a3.3,3.3 0 1,0 -6.6,0M306.26,363.84a3.3,3.3 0 1,0 6.6,0a3.3,3.3 0 1,0 -6.6,0M306.26,363.44v0.89h6.6v-0.89zM307.03,364.28a3.3,3.3 0 1,0 6.6,0a3.3,3.3 0 1,0 -6.6,0M307.03,364.72a3.3,3.3 0 1,0 6.6,0a3.3,3.3 0 1,0 -6.6,0M307.03,364.37v0.93h6.6v-0.93zM307.81,365.1a3.3,3.3 0 1,0 6.6,0a3.3,3.3 0 1,0 -6.6,0M307.81,367.01a3.3,3.3 0 1,0 6.6,0a3.3,3.3 0 1,0 -6.6,0M307.81,365.29v0.98h6.6v-0.98zM308.59,365.94a3.3,3.3 0 1,0 6.6,0a3.3,3.3 0 1,0 -6.6,0M308.59,366.45a3.3,3.3 0 1,0 6.6,0a3.3,3.3 0 1,0 -6.6,0M308.59,366.21v1.02h6.6v-1.02zM309.37,366.41a3.3,3.3 0 1,0 6.6,0a3.3,3.3 0 1,0 -6.6,0M309.37,367.67a3.3,3.3 0 1,0 6.6,0a3.3,3.3 0 1,0 -6.6,0M309.37,367.13v1.07h6.6v-1.07zM310.14,368.51a3.3,3.3 0 1,0 6.6,0a3.3,3.3 0 1,0 -6.6,0M310.14,368.95a3.3,3.3 0 1,0 6.6,0a3.3,3.3 0 1,0 -6.6,0M310.14,368.06v1.11h6.6v-1.11zM310.92,368.64a3.3,3.3 0 1,0 6.6,0a3.3,3.3 0 1,0 -6.6,0M310.92,369.49a3.3,3.3 0 1,0 6.6,0a3.3,3.3 0 1,0 -6.6,0M310.92,368.98v1.16h6.6v-1.16zM311.7,370.67a3.3,3.3 0 1,0 6.6,0a3.3,3.3 0 1,0 -6.6,0M311.7,370.98a3.3,3.3 0 1,0 6.6,0a3.3,3.3 0 1,0 -6.6,0M311.7,369.9v1.2h6.6v-1.2zM312.48,370.35a3.3,3.3 0 1,0 6.6,0a3.3,3.3 0 1,0 -6.6,0M312.48,371.36a3.3,3.3 0 1,0 6.6,0a3.3,3.3 0 1,0 -6.6,0M312.48,370.82v1.24h6.6v-1.24zM313.26,371.03a3.3,3.3 0 1,0 6.6,0a3.3,3.3 0 1,0 -6.6,0M313.26,372.5a3.3,3.3 0 1,0 6.6,0a3.3,3.3 0 1,0 -6.6,0M313.26,371.74v1.29h6.6v-1.29zM314.03,372.95a3.3,3.3 0 1,0 6.6,0a3.3,3.3 0 1,0 -6.6,0M314.03,373.44a3.3,3.3 0 1,0 6.6,0a3.3,3.3 0 1,0 -6.6,0M314.03,372.67v1.33h6.6v-1.33zM314.81,372.85a3.3,3.3 0 1,0 6.6,0a3.3,3.3 0 1,0 -6.6,0M314.81,374.95a3.3,3.3 0 1,0 6.6,0a3.3,3.3 0 1,0 -6.6,0M314.81,373.59v1.38h6.6v-1.38zM315.59,374.11a3.3,3.3 0 1,0 6.6,0a3.3,3.3 0 1,0 -6.6,0M315.59,376.73a3.3,3.3 0 1,0 6.6,0a3.3,3.3 0 1,0 -6.6,0M315.59,374.51v1.42h6.6v-1.42zM316.37,374.83a3.3,3.3 0 1,0 6.6,0a3.3,3.3 0 1,0 -6.6,0M316.37,376.95a3.3,3.3 0 1,0 6.6,0a3.3,3.3 0 1,0 -6.6,0M316.37,375.43v1.47h6.6v-1.47zM317.14,376.79a3.3,3.3 0 1,0 6.6,0a3.3,3.3 0 1,0 -6.6,0M317.14,377.72a3.3,3.3 0 1,0 6.6,0a3.3,3.3 0 1,0 -6.6,0M317.14,376.36v1.51h6.6v-1.51zM317.92,378.06a3.3,3.3 0 1,0 6.6,0a3.3,3.3 0 1,0 -6.6,0M317.92,378.8a3.3,3.3 0 1,0 6.6,0a3.3,3.3 0 1,0 -6.6,0M317.92,377.28v1.56h6.6v-1.56zM318.7,377.79a3.3,3.3 0 1,0 6.6,0a3.3,3.3 0 1,0 -6.6,0M318.7,379.66a3.3,3.3 0 1,0 6.6,0a3.3,3.3 0 1,0 -6.6,0M318.7,378.2v1.6h6.6v-1.6zM319.55,378.43a3.3,3.3 0 1,0 6.6,0a3.3,3.3 0 1,0 -6.6,0M319.55,380.7a3.3,3.3 0 1,0 6.6,0a3.3,3.3 0 1,0 -6.6,0M319.55,379.18v1.65h6.6v-1.65zM320.4,379.75a3.3,3.3 0 1,0 6.6,0a3.3,3.3 0 1,0 -6.6,0M320.4,382.47a3.3,3.3 0 1,0 6.6,0a3.3,3.3 0 1,0 -6.6,0M320.4,380.15v1.7h6.6v-1.7zM321.25,381.65a3.3,3.3 0 1,0 6.6,0a3.3,3.3 0 1,0 -6.6,0M321.25,382.87a3.3,3.3 0 1,0 6.6,0a3.3,3.3 0 1,0 -6.6,0M321.25,381.12v1.75h6.6v-1.75zM322.1,381.35a3.3,3.3 0 1,0 6.6,0a3.3,3.3 0 1,0 -6.6,0M322.1,383.51a3.3,3.3 0 1,0 6.6,0a3.3,3.3 0 1,0 -6.6,0M322.1,382.1v1.8h6.6v-1.8zM322.95,382.66a3.3,3.3 0 1,0 6.6,0a3.3,3.3 0 1,0 -6.6,0M322.95,384.46a3.3,3.3 0 1,0 6.6,0a3.3,3.3 0 1,0 -6.6,0M322.95,383.07v1.85h6.6v-1.85zM323.8,383.62a3.3,3.3 0 1,0 6.6,0a3.3,3.3 0 1,0 -6.6,0M323.8,386.54a3.3,3.3 0 1,0 6.6,0a3.3,3.3 0 1,0 -6.6,0M323.8,384.05v1.9h6.6v-1.9zM324.65,384.45a3.3,3.3 0 1,0 6.6,0a3.3,3.3 0 1,0 -6.6,0M324.65,386.26a3.3,3.3 0 1,0 6.6,0a3.3,3.3 0 1,0 -6.6,0M324.65,385.02v1.95h6.6v-1.95zM325.5,386.68a3.3,3.3 0 1,0 6.6,0a3.3,3.3 0 1,0 -6.6,0M325.5,388.1a3.3,3.3 0 1,0 6.6,0a3.3,3.3 0 1,0 -6.6,0M325.5,386v2h6.6v-2zM326.35,387.77a3.3,3.3 0 1,0 6.6,0a3.3,3.3 0 1,0 -6.6,0M326.35,388.86a3.3,3.3 0 1,0 6.6,0a3.3,3.3 0 1,0 -6.6,0M326.35,386.99v2.02h6.6v-2.02zM327.2,388.62a3.3,3.3 0 1,0 6.6,0a3.3,3.3 0 1,0 -6.6,0M327.2,390.27a3.3,3.3 0 1,0 6.6,0a3.3,3.3 0 1,0 -6.6,0M327.2,387.98v2.05h6.6v-2.05zM328.05,389.43a3.3,3.3 0 1,0 6.6,0a3.3,3.3 0 1,0 -6.6,0M328.05,391.43a3.3,3.3 0 1,0 6.6,0a3.3,3.3 0 1,0 -6.6,0M328.05,388.96v2.08h6.6v-2.08zM328.9,389.94a3.3,3.3 0 1,0 6.6,0a3.3,3.3 0 1,0 -6.6,0M328.9,391.4a3.3,3.3 0 1,0 6.6,0a3.3,3.3 0 1,0 -6.6,0M328.9,389.95v2.1h6.6v-2.1zM329.75,390.47a3.3,3.3 0 1,0 6.6,0a3.3,3.3 0 1,0 -6.6,0M329.75,393.66a3.3,3.3 0 1,0 6.6,0a3.3,3.3 0 1,0 -6.6,0M329.75,390.94v2.12h6.6v-2.12zM330.6,392.56a3.3,3.3 0 1,0 6.6,0a3.3,3.3 0 1,0 -6.6,0M330.6,394.75a3.3,3.3 0 1,0 6.6,0a3.3,3.3 0 1,0 -6.6,0M330.6,391.93v2.15h6.6v-2.15zM331.45,392.65a3.3,3.3 0 1,0 6.6,0a3.3,3.3 0 1,0 -6.6,0M331.45,395.34a3.3,3.3 0 1,0 6.6,0a3.3,3.3 0 1,0 -6.6,0M331.45,392.91v2.18h6.6v-2.18zM332.3,394.38a3.3,3.3 0 1,0 6.6,0a3.3,3.3 0 1,0 -6.6,0M332.3,396.33a3.3,3.3 0 1,0 6.6,0a3.3,3.3 0 1,0 -6.6,0M332.3,393.9v2.2h6.6v-2.2zM333.07,395.33a3.3,3.3 0 1,0 6.6,0a3.3,3.3 0 1,0 -6.6,0M333.07,397.11a3.3,3.3 0 1,0 6.6,0a3.3,3.3 0 1,0 -6.6,0M333.07,394.82v2.24h6.6v-2.24zM333.83,395.99a3.3,3.3 0 1,0 6.6,0a3.3,3.3 0 1,0 -6.6,0M333.83,398.33a3.3,3.3 0 1,0 6.6,0a3.3,3.3 0 1,0 -6.6,0M333.83,395.74v2.29h6.6v-2.29zM334.6,396.3a3.3,3.3 0 1,0 6.6,0a3.3,3.3 0 1,0 -6.6,0M334.6,399.68a3.3,3.3 0 1,0 6.6,0a3.3,3.3 0 1,0 -6.6,0M334.6,396.67v2.33h6.6v-2.33zM335.37,398.32a3.3,3.3 0 1,0 6.6,0a3.3,3.3 0 1,0 -6.6,0M335.37,399.29a3.3,3.3 0 1,0 6.6,0a3.3,3.3 0 1,0 -6.6,0M335.37,397.59v2.38h6.6v-2.38zM336.13,399.26a3.3,3.3 0 1,0 6.6,0a3.3,3.3 0 1,0 -6.6,0M336.13,401.67a3.3,3.3 0 1,0 6.6,0a3.3,3.3 0 1,0 -6.6,0M336.13,398.51v2.42h6.6v-2.42zM336.9,399.7a3.3,3.3 0 1,0 6.6,0a3.3,3.3 0 1,0 -6.6,0M336.9,401.17a3.3,3.3 0 1,0 6.6,0a3.3,3.3 0 1,0 -6.6,0M336.9,399.43v2.47h6.6v-2.47zM337.67,400.99a3.3,3.3 0 1,0 6.6,0a3.3,3.3 0 1,0 -6.6,0M337.67,402.27a3.3,3.3 0 1,0 6.6,0a3.3,3.3 0 1,0 -6.6,0M337.67,400.36v2.51h6.6v-2.51zM338.43,402.03a3.3,3.3 0 1,0 6.6,0a3.3,3.3 0 1,0 -6.6,0M338.43,404.1a3.3,3.3 0 1,0 6.6,0a3.3,3.3 0 1,0 -6.6,0M338.43,401.28v2.56h6.6v-2.56zM339.2,401.5a3.3,3.3 0 1,0 6.6,0a3.3,3.3 0 1,0 -6.6,0M339.2,404.27a3.3,3.3 0 1,0 6.6,0a3.3,3.3 0 1,0 -6.6,0M339.2,402.2v2.6h6.6v-2.6zM339.89,403.4a3.3,3.3 0 1,0 6.6,0a3.3,3.3 0 1,0 -6.6,0M339.89,405.92a3.3,3.3 0 1,0 6.6,0a3.3,3.3 0 1,0 -6.6,0M339.89,403.19v2.62h6.6v-2.62zM340.57,404.57a3.3,3.3 0 1,0 6.6,0a3.3,3.3 0 1,0 -6.6,0M340.57,407.51a3.3,3.3 0 1,0 6.6,0a3.3,3.3 0 1,0 -6.6,0M340.57,404.18v2.65h6.6v-2.65zM341.26,404.71a3.3,3.3 0 1,0 6.6,0a3.3,3.3 0 1,0 -6.6,0M341.26,407.04a3.3,3.3 0 1,0 6.6,0a3.3,3.3 0 1,0 -6.6,0M341.26,405.16v2.67h6.6v-2.67zM341.95,406.83a3.3,3.3 0 1,0 6.6,0a3.3,3.3 0 1,0 -6.6,0M341.95,408.07a3.3,3.3 0 1,0 6.6,0a3.3,3.3 0 1,0 -6.6,0M341.95,406.15v2.7h6.6v-2.7zM342.64,407.74a3.3,3.3 0 1,0 6.6,0a3.3,3.3 0 1,0 -6.6,0M342.64,409.25a3.3,3.3 0 1,0 6.6,0a3.3,3.3 0 1,0 -6.6,0M342.64,407.14v2.73h6.6v-2.73zM343.32,408.62a3.3,3.3 0 1,0 6.6,0a3.3,3.3 0 1,0 -6.6,0M343.32,411.33a3.3,3.3 0 1,0 6.6,0a3.3,3.3 0 1,0 -6.6,0M343.32,408.12v2.75h6.6v-2.75zM344.01,409.72a3.3,3.3 0 1,0 6.6,0a3.3,3.3 0 1,0 -6.6,0M344.01,411.97a3.3,3.3 0 1,0 6.6,0a3.3,3.3 0 1,0 -6.6,0M344.01,409.11v2.77h6.6v-2.77zM344.7,410.71a3.3,3.3 0 1,0 6.6,0a3.3,3.3 0 1,0 -6.6,0M344.7,412.42a3.3,3.3 0 1,0 6.6,0a3.3,3.3 0 1,0 -6.6,0M344.7,410.1v2.8h6.6v-2.8zM345.49,411.45a3.3,3.3 0 1,0 6.6,0a3.3,3.3 0 1,0 -6.6,0M345.49,413.7a3.3,3.3 0 1,0 6.6,0a3.3,3.3 0 1,0 -6.6,0M345.49,411.17v2.8h6.6v-2.8zM346.27,412.87a3.3,3.3 0 1,0 6.6,0a3.3,3.3 0 1,0 -6.6,0M346.27,415.48a3.3,3.3 0 1,0 6.6,0a3.3,3.3 0 1,0 -6.6,0M346.27,412.24v2.8h6.6v-2.8zM347.06,413.27a3.3,3.3 0 1,0 6.6,0a3.3,3.3 0 1,0 -6.6,0M347.06,416.16a3.3,3.3 0 1,0 6.6,0a3.3,3.3 0 1,0 -6.6,0M347.06,413.31v2.8h6.6v-2.8zM347.84,413.63a3.3,3.3 0 1,0 6.6,0a3.3,3.3 0 1,0 -6.6,0M347.84,416.44a3.3,3.3 0 1,0 6.6,0a3.3,3.3 0 1,0 -6.6,0M347.84,414.39v2.8h6.6v-2.8zM348.63,415.61a3.3,3.3 0 1,0 6.6,0a3.3,3.3 0 1,0 -6.6,0M348.63,418.24a3.3,3.3 0 1,0 6.6,0a3.3,3.3 0 1,0 -6.6,0M348.63,415.46v2.8h6.6v-2.8zM349.41,417.11a3.3,3.3 0 1,0 6.6,0a3.3,3.3 0 1,0 -6.6,0M349.41,419.5a3.3,3.3 0 1,0 6.6,0a3.3,3.3 0 1,0 -6.6,0M349.41,416.53v2.8h6.6v-2.8zM350.2,417.02a3.3,3.3 0 1,0 6.6,0a3.3,3.3 0 1,0 -6.6,0M350.2,420.18a3.3,3.3 0 1,0 6.6,0a3.3,3.3 0 1,0 -6.6,0M350.2,417.6v2.8h6.6v-2.8zM350.9,419.18a3.3,3.3 0 1,0 6.6,0a3.3,3.3 0 1,0 -6.6,0M350.9,421.29a3.3,3.3 0 1,0 6.6,0a3.3,3.3 0 1,0 -6.6,0M350.9,418.75v2.5h6.6v-2.5zM351.6,419.12a3.3,3.3 0 1,0 6.6,0a3.3,3.3 0 1,0 -6.6,0M351.6,422.64a3.3,3.3 0 1,0 6.6,0a3.3,3.3 0 1,0 -6.6,0M351.6,419.9v2.2h6.6v-2.2zM352.3,421.57a3.3,3.3 0 1,0 6.6,0a3.3,3.3 0 1,0 -6.6,0M352.3,422.29a3.3,3.3 0 1,0 6.6,0a3.3,3.3 0 1,0 -6.6,0M352.3,421.05v1.9h6.6v-1.9zM353,422.27a3.3,3.3 0 1,0 6.6,0a3.3,3.3 0 1,0 -6.6,0M353,423.61a3.3,3.3 0 1,0 6.6,0a3.3,3.3 0 1,0 -6.6,0M353,422.2v1.6h6.6v-1.6z" fill="#424aa8"/>
<path d="M438.1,58L443.05,65.8L433.15,65.8Z" fill="#d92a1e"/>
<path d="M438.1,65.6L443.05,73.4L433.15,73.4Z" fill="#d92a1e"/>
<path d="M449,105.09l4.95,7.8h-9.9zM449,104.7l4.95,7.8h-9.9zM450.75,102.65l4.95,7.8h-9.9zM450.75,104.84l4.95,7.8h-9.9zM447.75,107.35h6v0.8h-6zM452.5,101.54l4.95,7.8h-9.9zM452.5,102.74l4.95,7.8h-9.9zM449.5,105.9h6v1.2h-6zM453.67,101.37l4.95,7.8h-9.9zM453.67,102.86l4.95,7.8h-9.9zM450.67,104.5h6v1.67h-6zM454.83,98.86l4.95,7.8h-9.9zM454.83,102.07l4.95,7.8h-9.9zM451.83,103.1h6v2.13h-6zM456,97.86l4.95,7.8h-9.9zM456,100.68l4.95,7.8h-9.9zM453,101.7h6v2.6h-6zM457.33,95.43l4.95,7.8h-9.9zM457.33,100.01l4.95,7.8h-9.9zM454.33,99.8h6v3.4h-6zM458.67,94.31l4.95,7.8h-9.9zM458.67,98.95l4.95,7.8h-9.9zM455.67,97.9h6v4.2h-6zM460,92.73l4.95,7.8h-9.9zM460,96.78l4.95,7.8h-9.9zM457,96h6v5h-6zM461.25,90.5l4.95,7.8h-9.9zM461.25,95.69l4.95,7.8h-9.9zM458.25,94.62h6v5.5h-6zM462.5,88.78l4.95,7.8h-9.9zM462.5,94.65l4.95,7.8h-9.9zM459.5,93.25h6v6h-6zM463.75,87.66l4.95,7.8h-9.9zM463.75,94.64l4.95,7.8h-9.9zM460.75,91.88h6v6.5h-6zM465,85.81l4.95,7.8h-9.9zM465,93.88l4.95,7.8h-9.9zM462,90.5h6v7h-6zM466.25,85.22l4.95,7.8h-9.9zM466.25,92.42l4.95,7.8h-9.9zM463.25,89.38h6v7.25h-6zM467.5,84.86l4.95,7.8h-9.9zM467.5,91.82l4.95,7.8h-9.9zM464.5,88.25h6v7.5h-6zM468.75,82.93l4.95,7.8h-9.9zM468.75,90.94l4.95,7.8h-9.9zM465.75,87.12h6v7.75h-6zM470,82.43l4.95,7.8h-9.9zM470,89.39l4.95,7.8h-9.9zM467,86h6v8h-6zM472,82.11l4.95,7.8h-9.9zM472,88.09l4.95,7.8h-9.9zM469,85.25h6v7.5h-6zM474,81l4.95,7.8h-9.9zM474,88.15l4.95,7.8h-9.9zM471,84.5h6v7h-6zM476,80.73l4.95,7.8h-9.9zM476,87.66l4.95,7.8h-9.9zM473,85.4h6v5.7h-6zM478,82.19l4.95,7.8h-9.9zM478,86.93l4.95,7.8h-9.9zM475,86.3h6v4.4h-6zM479.75,83.06l4.95,7.8h-9.9zM479.75,86.12l4.95,7.8h-9.9zM476.75,87.75h6v3h-6zM481.5,84.79l4.95,7.8h-9.9zM481.5,87.63l4.95,7.8h-9.9zM478.5,89.2h6v1.6h-6z" fill="#d92a1e"/>
<path d="M447.6,103.9L452.55,111.7L442.65,111.7Z" fill="#d92a1e"/>
<path d="M444.6,107.1L449.55,114.9L439.65,114.9Z" fill="#d92a1e"/>
<path d="M474.7,57L479.65,64.8L469.75,64.8Z" fill="#d92a1e"/>
<path d="M477,68.4L481.95,76.2L472.05,76.2Z" fill="#d92a1e"/>
<path d="M478.5,69.7L483.45,77.5L473.55,77.5Z" fill="#d92a1e"/>
<path d="M479.8,62.1L484.75,69.9L474.85,69.9Z" fill="#d92a1e"/>
<path d="M480.8,52.3L485.75,60.1L475.85,60.1Z" fill="#d92a1e"/>
<path d="M482.7,62.7L487.65,70.5L477.75,70.5Z" fill="#d92a1e"/>
<path d="M476.1,74.1L481.05,81.9L471.15,81.9Z" fill="#d92a1e"/>
<path d="M482.3,83.5L487.25,91.3L477.35,91.3Z" fill="#d92a1e"/>
<path d="M475.5,63.1L480.45,70.9L470.55,70.9Z" fill="#d92a1e"/>
<path d="M483,56.1L487.95,63.9L478.05,63.9Z" fill="#d92a1e"/>
<path d="M478,54.1L482.95,61.9L473.05,61.9Z" fill="#d92a1e"/>
<path d="M490.3,55.1L495.25,62.9L485.35,62.9Z" fill="#d92a1e"/>
<path d="M491.2,54.5L496.15,62.3L486.25,62.3Z" fill="#d92a1e"/>
<path d="M493.2,58.9L498.15,66.7L488.25,66.7Z" fill="#d92a1e"/>
<path d="M498,47.5L502.95,55.3L493.05,55.3Z" fill="#d92a1e"/>
<path d="M498.8,48.1L503.75,55.9L493.85,55.9Z" fill="#d92a1e"/>
<path d="M503.7,55.1L508.65,62.9L498.75,62.9Z" fill="#d92a1e"/>
<path d="M503.9,53.2L508.85,61L498.95,61Z" fill="#d92a1e"/>
<path d="M504.8,54.1L509.75,61.9L499.85,61.9Z" fill="#d92a1e"/>
<path d="M500,47.4L504.95,55.2L495.05,55.2Z" fill="#d92a1e"/>
<path d="M514.3,42.7L519.25,50.5L509.35,50.5Z" fill="#d92a1e"/>
<path d="M515,41.8L519.95,49.6L510.05,49.6Z" fill="#d92a1e"/>
<path d="M519,37L523.95,44.8L514.05,44.8Z" fill="#d92a1e"/>
<path d="M520.4,38L525.35,45.8L515.45,45.8Z" fill="#d92a1e"/>
<path d="M521.9,34.1L526.85,41.9L516.95,41.9Z" fill="#d92a1e"/>
<path d="M526.6,38.9L531.55,46.7L521.65,46.7Z" fill="#d92a1e"/>
<path d="M535.2,36L540.15,43.8L530.25,43.8Z" fill="#d92a1e"/>
<path d="M539.9,30.3L544.85,38.1L534.95,38.1Z" fill="#d92a1e"/>
<path d="M543.7,37L548.65,44.8L538.75,44.8Z" fill="#d92a1e"/>
<path d="M548.5,24.6L553.45,32.4L543.55,32.4Z" fill="#d92a1e"/>
<path d="M551.3,19.9L556.25,27.7L546.35,27.7Z" fill="#d92a1e"/>
<path d="M564.6,1.8L569.55,9.6L559.65,9.6Z" fill="#d92a1e"/>
<path d="M566.5,31.3L571.45,39.1L561.55,39.1Z" fill="#d92a1e"/>
<path d="M572.2,35.1L577.15,42.9L567.25,42.9Z" fill="#d92a1e"/>
<path d="M570.3,51.2L575.25,59L565.35,59Z" fill="#d92a1e"/>
<path d="M578,74.1L582.95,81.9L573.05,81.9Z" fill="#d92a1e"/>
<path d="M581.7,35.1L586.65,42.9L576.75,42.9Z" fill="#d92a1e"/>
<path d="M582.3,35.9L587.25,43.7L577.35,43.7Z" fill="#d92a1e"/>
<path d="M585.6,38.9L590.55,46.7L580.65,46.7Z" fill="#d92a1e"/>
<path d="M585.8,38.2L590.75,46L580.85,46Z" fill="#d92a1e"/>
<path d="M583.5,33.6L588.45,41.4L578.55,41.4Z" fill="#d92a1e"/>
<path d="M587.5,37.1L592.45,44.9L582.55,44.9Z" fill="#d92a1e"/>
<path d="M589,40.6L593.95,48.4L584.05,48.4Z" fill="#d92a1e"/>
<path d="M584.5,41.6L589.45,49.4L579.55,49.4Z" fill="#d92a1e"/>
<path d="M498,48.6L502.95,56.4L493.05,56.4Z" fill="#d92a1e"/>
<path d="M500,51.1L504.95,58.9L495.05,58.9Z" fill="#d92a1e"/>
<path d="M592.2,30.3L597.15,38.1L587.25,38.1Z" fill="#d92a1e"/>
<path d="M592.8,30.1L597.75,37.9L587.85,37.9Z" fill="#d92a1e"/>
<path d="M594.1,42.7L599.05,50.5L589.15,50.5Z" fill="#d92a1e"/>
<path d="M596,51.2L600.95,59L591.05,59Z" fill="#d92a1e"/>
<path d="M596.3,51L601.25,58.8L591.35,58.8Z" fill="#d92a1e"/>
<path d="M603.3,53.3L608.25,61.1L598.35,61.1Z" fill="#d92a1e"/>
<path d="M606.7,46.3L611.65,54.1L601.75,54.1Z" fill="#d92a1e"/>
<path d="M609,53.3L613.95,61.1L604.05,61.1Z" fill="#d92a1e"/>
<path d="M610.2,62.6L615.15,70.4L605.25,70.4Z" fill="#d92a1e"/>
<path d="M613.7,66.1L618.65,73.9L608.75,73.9Z" fill="#d92a1e"/>
<path d="M616,71.9L620.95,79.7L611.05,79.7Z" fill="#d92a1e"/>
<path d="M619.5,75.4L624.45,83.2L614.55,83.2Z" fill="#d92a1e"/>
<path d="M623,84.7L627.95,92.5L618.05,92.5Z" fill="#d92a1e"/>
<path d="M626.5,76.6L631.45,84.4L621.55,84.4Z" fill="#d92a1e"/>
<path d="M628.8,85.9L633.75,93.7L623.85,93.7Z" fill="#d92a1e"/>
<path d="M631.2,92.8L636.15,100.6L626.25,100.6Z" fill="#d92a1e"/>
<path d="M640.5,101L645.45,108.8L635.55,108.8Z" fill="#d92a1e"/>
<path d="M648.6,102.1L653.55,109.9L643.65,109.9Z" fill="#d92a1e"/>
<path d="M645.1,111.4L650.05,119.2L640.15,119.2Z" fill="#d92a1e"/>
<path d="M653.3,111.4L658.25,119.2L648.35,119.2Z" fill="#d92a1e"/>
<path d="M659.1,116.1L664.05,123.9L654.15,123.9Z" fill="#d92a1e"/>
<path d="M662.6,120.8L667.55,128.6L657.65,128.6Z" fill="#d92a1e"/>
<path d="M661.2,126.1L666.15,133.9L656.25,133.9Z" fill="#d92a1e"/>
<path d="M630,94.94l4.95,7.8h-9.9zM630,95.48l4.95,7.8h-9.9zM632.13,96.89l4.95,7.8h-9.9zM632.13,97.91l4.95,7.8h-9.9zM629.13,100.07h6v1.2h-6zM634.27,97.3l4.95,7.8h-9.9zM634.27,98.86l4.95,7.8h-9.9zM631.27,101.43h6v1.8h-6zM636.4,99.44l4.95,7.8h-9.9zM636.4,102.08l4.95,7.8h-9.9zM633.4,102.8h6v2.4h-6zM638.1,99.38l4.95,7.8h-9.9zM638.1,104.11l4.95,7.8h-9.9zM635.1,104.03h6v3.6h-6zM639.8,101.96l4.95,7.8h-9.9zM639.8,106.41l4.95,7.8h-9.9zM636.8,105.27h6v4.8h-6zM641.5,102.15l4.95,7.8h-9.9zM641.5,109.07l4.95,7.8h-9.9zM638.5,106.5h6v6h-6zM644.03,103.97l4.95,7.8h-9.9zM644.03,109.44l4.95,7.8h-9.9zM641.03,107.5h6v6.33h-6zM646.57,104.83l4.95,7.8h-9.9zM646.57,110.82l4.95,7.8h-9.9zM643.57,108.5h6v6.67h-6zM649.1,104.87l4.95,7.8h-9.9zM649.1,112.34l4.95,7.8h-9.9zM646.1,109.5h6v7h-6zM651,107.33l4.95,7.8h-9.9zM651,114.18l4.95,7.8h-9.9zM648,111.5h6v6.75h-6zM652.9,109.83l4.95,7.8h-9.9zM652.9,116.64l4.95,7.8h-9.9zM649.9,113.5h6v6.5h-6zM654.8,112.34l4.95,7.8h-9.9zM654.8,118.61l4.95,7.8h-9.9zM651.8,115.5h6v6.25h-6zM656.7,114.39l4.95,7.8h-9.9zM656.7,120.06l4.95,7.8h-9.9zM653.7,117.5h6v6h-6zM658.3,115.79l4.95,7.8h-9.9zM658.3,120.92l4.95,7.8h-9.9zM655.3,120h6v5.33h-6zM659.9,118.8l4.95,7.8h-9.9zM659.9,123.34l4.95,7.8h-9.9zM656.9,122.5h6v4.67h-6zM661.5,121.38l4.95,7.8h-9.9zM661.5,124.45l4.95,7.8h-9.9zM658.5,125h6v4h-6zM663.5,125.61l4.95,7.8h-9.9zM663.5,127.77l4.95,7.8h-9.9zM660.5,130h6v1h-6z" fill="#d92a1e"/>
<path d="M437,285.24l4.95,7.8h-9.9zM437,285.83l4.95,7.8h-9.9zM434,288.6h6v0.8h-6zM440,284.85l4.95,7.8h-9.9zM440,285.62l4.95,7.8h-9.9zM437,289.05h6v0.9h-6zM443,285.26l4.95,7.8h-9.9zM443,285.91l4.95,7.8h-9.9zM440,289.5h6v1h-6zM446,285.78l4.95,7.8h-9.9zM446,286.69l4.95,7.8h-9.9zM443,289.25h6v1.5h-6zM449,285.65l4.95,7.8h-9.9zM449,286.92l4.95,7.8h-9.9zM446,289h6v2h-6zM452,285.23l4.95,7.8h-9.9zM452,287.56l4.95,7.8h-9.9zM449,288.4h6v2.5h-6zM455,283.1l4.95,7.8h-9.9zM455,286.44l4.95,7.8h-9.9zM452,287.8h6v3h-6zM458.5,284.41l4.95,7.8h-9.9zM458.5,287.2l4.95,7.8h-9.9zM455.5,287.65h6v3.5h-6zM462,284.37l4.95,7.8h-9.9zM462,287.44l4.95,7.8h-9.9zM459,287.5h6v4h-6zM465,282.17l4.95,7.8h-9.9zM465,287.56l4.95,7.8h-9.9zM462,286.75h6v4.5h-6zM468,282.55l4.95,7.8h-9.9zM468,286.73l4.95,7.8h-9.9zM465,286h6v5h-6zM471,280.44l4.95,7.8h-9.9zM471,286.83l4.95,7.8h-9.9zM468,285h6v6h-6zM474,280.84l4.95,7.8h-9.9zM474,287.51l4.95,7.8h-9.9zM471,284h6v7h-6zM478,276.49l4.95,7.8h-9.9zM478,284.69l4.95,7.8h-9.9zM475,281h6v8h-6zM480.5,276.21l4.95,7.8h-9.9zM480.5,282.65l4.95,7.8h-9.9zM477.5,280.75h6v6.5h-6zM483,277.08l4.95,7.8h-9.9zM483,281.08l4.95,7.8h-9.9zM480,280.5h6v5h-6zM488,277.19l4.95,7.8h-9.9zM488,281.02l4.95,7.8h-9.9zM485,281h6v4h-6zM493,277.11l4.95,7.8h-9.9zM493,282.97l4.95,7.8h-9.9zM490,281.5h6v5h-6zM498,275.51l4.95,7.8h-9.9zM498,282.33l4.95,7.8h-9.9zM495,280h6v6h-6zM500.5,276.74l4.95,7.8h-9.9zM500.5,283.22l4.95,7.8h-9.9zM497.5,281.25h6v6h-6zM503,278.14l4.95,7.8h-9.9zM503,284.23l4.95,7.8h-9.9zM500,282.5h6v6h-6z" fill="#d92a1e"/>
<path d="M475.5,268.9L480.45,276.7L470.55,276.7Z" fill="#d92a1e"/>
<path d="M480.2,268.4L485.15,276.2L475.25,276.2Z" fill="#d92a1e"/>
<path d="M478,271.1L482.95,278.9L473.05,278.9Z" fill="#d92a1e"/>
<path d="M482.6,273.1L487.55,280.9L477.65,280.9Z" fill="#d92a1e"/>
<path d="M473,272.6L477.95,280.4L468.05,280.4Z" fill="#d92a1e"/>
<path d="M474.4,288.2L479.35,296L469.45,296Z" fill="#d92a1e"/>
<path d="M479,290.6L483.95,298.4L474.05,298.4Z" fill="#d92a1e"/>
<path d="M461.5,289.4L466.45,297.2L456.55,297.2Z" fill="#d92a1e"/>
<path d="M438.5,283.7L443.45,291.5L433.55,291.5Z" fill="#d92a1e"/>
<path d="M447.8,285.5L452.75,293.3L442.85,293.3Z" fill="#d92a1e"/>
<path d="M456,283.6L460.95,291.4L451.05,291.4Z" fill="#d92a1e"/>
<path d="M463,282.6L467.95,290.4L458.05,290.4Z" fill="#d92a1e"/>
<path d="M469,281.6L473.95,289.4L464.05,289.4Z" fill="#d92a1e"/>
<path d="M498,275.9L502.95,283.7L493.05,283.7Z" fill="#d92a1e"/>
<path d="M503.9,286.2L508.85,294L498.95,294Z" fill="#d92a1e"/>
<path d="M499.4,281.8L504.35,289.6L494.45,289.6Z" fill="#d92a1e"/>
<path d="M508,282.1L512.95,289.9L503.05,289.9Z" fill="#d92a1e"/>
<path d="M514.2,283.3L519.15,291.1L509.25,291.1Z" fill="#d92a1e"/>
<path d="M520.1,282.5L525.05,290.3L515.15,290.3Z" fill="#d92a1e"/>
<path d="M517.2,284.8L522.15,292.6L512.25,292.6Z" fill="#d92a1e"/>
<path d="M526.1,288.5L531.05,296.3L521.15,296.3Z" fill="#d92a1e"/>
<path d="M535,291.4L539.95,299.2L530.05,299.2Z" fill="#d92a1e"/>
<path d="M538.6,289.9L543.55,297.7L533.65,297.7Z" fill="#d92a1e"/>
<path d="M543.8,298.1L548.75,305.9L538.85,305.9Z" fill="#d92a1e"/>
<path d="M549,291.4L553.95,299.2L544.05,299.2Z" fill="#d92a1e"/>
<path d="M563.8,284.8L568.75,292.6L558.85,292.6Z" fill="#d92a1e"/>
<path d="M566,308.4L570.95,316.2L561.05,316.2Z" fill="#d92a1e"/>
<path d="M570.4,314.4L575.35,322.2L565.45,322.2Z" fill="#d92a1e"/>
<path d="M569.7,322.5L574.65,330.3L564.75,330.3Z" fill="#d92a1e"/>
<path d="M565.5,307.1L570.45,314.9L560.55,314.9Z" fill="#d92a1e"/>
<path d="M571,314L575.95,321.8L566.05,321.8Z" fill="#d92a1e"/>
<path d="M582,316.7L586.95,324.5L577.05,324.5Z" fill="#d92a1e"/>
<path d="M586.1,322.2L591.05,330L581.15,330Z" fill="#d92a1e"/>
<path d="M592.5,320.9L597.45,328.7L587.55,328.7Z" fill="#d92a1e"/>
<path d="M577.9,344.2L582.85,352L572.95,352Z" fill="#d92a1e"/>
<path d="M581.3,317.2L586.25,325L576.35,325Z" fill="#d92a1e"/>
<path d="M585.6,322.6L590.55,330.4L580.65,330.4Z" fill="#d92a1e"/>
<path d="M588.5,319.6L593.45,327.4L583.55,327.4Z" fill="#d92a1e"/>
<path d="M591.9,320.4L596.85,328.2L586.95,328.2Z" fill="#d92a1e"/>
<path d="M594,331L598.95,338.8L589.05,338.8Z" fill="#d92a1e"/>
<path d="M596.1,337.3L601.05,345.1L591.15,345.1Z" fill="#d92a1e"/>
<path d="M598,333.1L602.95,340.9L593.05,340.9Z" fill="#d92a1e"/>
<path d="M601,339.6L605.95,347.4L596.05,347.4Z" fill="#d92a1e"/>
<path d="M605.7,341.6L610.65,349.4L600.75,349.4Z" fill="#d92a1e"/>
<path d="M608.8,346.8L613.75,354.6L603.85,354.6Z" fill="#d92a1e"/>
<path d="M612,351.1L616.95,358.9L607.05,358.9Z" fill="#d92a1e"/>
<path d="M614.1,357.4L619.05,365.2L609.15,365.2Z" fill="#d92a1e"/>
<path d="M616.2,363.8L621.15,371.6L611.25,371.6Z" fill="#d92a1e"/>
<path d="M618.5,366.1L623.45,373.9L613.55,373.9Z" fill="#d92a1e"/>
<path d="M620.5,369L625.45,376.8L615.55,376.8Z" fill="#d92a1e"/>
<path d="M623.5,370.6L628.45,378.4L618.55,378.4Z" fill="#d92a1e"/>
<path d="M626.8,372.2L631.75,380L621.85,380Z" fill="#d92a1e"/>
<path d="M625.7,377.5L630.65,385.3L620.75,385.3Z" fill="#d92a1e"/>
<path d="M628.9,382.8L633.85,390.6L623.95,390.6Z" fill="#d92a1e"/>
<path d="M632.1,387L637.05,394.8L627.15,394.8Z" fill="#d92a1e"/>
<path d="M635.5,390.6L640.45,398.4L630.55,398.4Z" fill="#d92a1e"/>
<path d="M638,392.84l4.95,7.8h-9.9zM638,394.95l4.95,7.8h-9.9zM635,397h6v2h-6zM642,395.65l4.95,7.8h-9.9zM642,398.33l4.95,7.8h-9.9zM639,399h6v4h-6zM644,395.9l4.95,7.8h-9.9zM644,401.76l4.95,7.8h-9.9zM641,400.5h6v4.5h-6zM646,398.11l4.95,7.8h-9.9zM646,402.45l4.95,7.8h-9.9zM643,402h6v5h-6zM648,400.88l4.95,7.8h-9.9zM648,405.81l4.95,7.8h-9.9zM645,404h6v5h-6zM650,401.48l4.95,7.8h-9.9zM650,406.98l4.95,7.8h-9.9zM647,406h6v5h-6zM652.5,404.02l4.95,7.8h-9.9zM652.5,409.3l4.95,7.8h-9.9zM649.5,408.5h6v5h-6zM655,407.29l4.95,7.8h-9.9zM655,411.56l4.95,7.8h-9.9zM652,411h6v5h-6zM657.5,410.41l4.95,7.8h-9.9zM657.5,413.88l4.95,7.8h-9.9zM654.5,414h6v4.5h-6zM660,412.57l4.95,7.8h-9.9zM660,417.61l4.95,7.8h-9.9zM657,417h6v4h-6zM661.75,415.94l4.95,7.8h-9.9zM661.75,418.97l4.95,7.8h-9.9zM658.75,420h6v3h-6zM663.5,419.25l4.95,7.8h-9.9zM663.5,421.06l4.95,7.8h-9.9zM660.5,423h6v2h-6z" fill="#d92a1e"/>
<path d="M81.5,170.94 L82.5,170.86 L83.51,170.78 L84.51,170.7 L85.51,170.61 L86.52,170.52 L87.52,170.41 L88.52,170.31 L89.53,170.19 L90.53,170.08 L91.53,169.95 L92.54,169.82 L93.54,169.68 L94.54,169.54 L95.55,169.39 L96.55,169.24 L97.55,169.08 L98.56,168.91 L99.56,168.73 L100.56,168.55 L101.57,168.37 L102.57,168.17 L103.57,167.97 L104.58,167.76 L105.58,167.55 L106.58,167.33 L107.58,167.1 L108.59,166.86 L109.59,166.62 L110.59,166.37 L111.6,166.12 L112.6,165.85 L113.6,165.58 L114.61,165.3 L115.61,165.02 L116.61,164.72 L117.62,164.42 L118.62,164.11 L119.62,163.8 L120.63,163.47 L121.63,163.14 L122.63,162.8 L123.64,162.45 L124.64,162.1 L125.64,161.73 L126.65,161.36 L127.65,160.98 L128.65,160.59 L129.66,160.19 L130.66,159.79 L131.66,159.37 L132.67,158.95 L133.67,158.52 L134.67,158.08 L135.68,157.63 L136.68,157.18 L137.68,156.71 L138.69,156.24 L139.69,155.75 L140.69,155.26 L141.7,154.76 L142.7,154.25 L143.7,153.73 L144.71,153.2 L145.71,152.66 L146.71,152.11 L147.72,151.55 L148.72,150.99 L149.72,150.41 L150.73,149.82 L151.73,149.23 L152.73,148.62 L153.73,148.01 L154.74,147.38 L155.74,146.74 L156.74,146.1 L157.75,145.44 L158.75,144.78 L159.75,144.1 L160.76,143.42 L161.76,142.72 L162.76,142.01 L163.77,141.3 L164.77,140.57 L165.77,139.83 L166.78,139.08 L167.78,138.32 L168.78,137.55 L169.79,136.77 L170.79,135.98 L171.79,135.17 L172.8,134.36 L173.8,133.53 L174.8,132.7 L175.81,131.85 L176.81,130.99 L177.81,130.12 L178.82,129.24 L179.82,128.35 L180.82,127.44 L181.83,126.52 L182.83,125.6 L183.83,124.66 L184.84,123.71 L185.84,122.74 L186.84,121.77 L187.85,120.78 L188.85,119.78 L189.85,118.77 L190.86,117.75 L191.86,116.71 L192.86,115.66 L193.87,114.6 L194.87,113.53 L195.87,112.45 L196.88,111.35 L197.88,110.24 L198.88,109.12 L199.88,107.99 L200.89,106.85 L201.89,105.71 L202.89,104.56 L203.9,103.4 L204.9,102.23 L205.9,101.06 L206.91,99.89 L207.91,98.71 L208.91,97.53 L209.92,96.35 L210.92,95.17 L211.92,93.99 L212.93,92.81 L213.93,91.64 L214.93,90.46 L215.94,89.29 L216.94,88.13 L217.94,86.97 L218.95,85.81 L219.95,84.67 L220.95,83.53 L221.96,82.4 L222.96,81.28 L223.96,80.17 L224.97,79.07 L225.97,77.98 L226.97,76.91 L227.98,75.85 L228.98,74.81 L229.98,73.78 L230.99,72.77 L231.99,71.77 L232.99,70.79 L234,69.84 L235,68.9 L236,67.98 L237.01,67.08 L238.01,66.21 L239.01,65.36 L240.02,64.53 L241.02,63.73 L242.02,62.95 L243.03,62.2 L244.03,61.48 L245.03,60.79 L246.03,60.12 L247.04,59.49 L248.04,58.88 L249.04,58.31 L250.05,57.77 L251.05,57.27 L252.05,56.8 L253.06,56.37 L254.06,55.97 L255.06,55.62 L256.07,55.3 L257.07,55.02 L258.07,54.79 L259.08,54.6 L260.08,54.46 L261.08,54.36 L262.09,54.3 L263.09,54.3 L264.09,54.34 L265.1,54.43 L266.1,54.58" fill="none" stroke="#000" stroke-width="2.2" stroke-linecap="round" stroke-linejoin="round"/>
<path d="M139.3,226.08 L140.3,224.28 L141.31,222.49 L142.31,220.71 L143.31,218.94 L144.32,217.18 L145.32,215.42 L146.32,213.67 L147.33,211.92 L148.33,210.19 L149.33,208.45 L150.33,206.73 L151.34,205.01 L152.34,203.3 L153.34,201.59 L154.35,199.89 L155.35,198.19 L156.35,196.49 L157.36,194.81 L158.36,193.12 L159.36,191.44 L160.37,189.76 L161.37,188.09 L162.37,186.42 L163.38,184.75 L164.38,183.09 L165.38,181.43 L166.39,179.77 L167.39,178.11 L168.39,176.45 L169.39,174.8 L170.4,173.15 L171.4,171.5 L172.4,169.85 L173.41,168.2 L174.41,166.55 L175.41,164.9 L176.42,163.25 L177.42,161.6 L178.42,159.95 L179.43,158.3 L180.43,156.65 L181.43,154.99 L182.44,153.34 L183.44,151.68 L184.44,150.03 L185.45,148.37 L186.45,146.7 L187.45,145.04 L188.45,143.37 L189.46,141.71 L190.46,140.04 L191.46,138.37 L192.47,136.7 L193.47,135.04 L194.47,133.37 L195.48,131.71 L196.48,130.06 L197.48,128.4 L198.49,126.75 L199.49,125.1 L200.49,123.46 L201.5,121.83 L202.5,120.2 L203.5,118.58 L204.5,116.96 L205.51,115.36 L206.51,113.76 L207.51,112.17 L208.52,110.59 L209.52,109.02 L210.52,107.46 L211.53,105.91 L212.53,104.38 L213.53,102.85 L214.54,101.34 L215.54,99.85 L216.54,98.37 L217.55,96.9 L218.55,95.44 L219.55,94.01 L220.56,92.59 L221.56,91.18 L222.56,89.8 L223.56,88.43 L224.57,87.08 L225.57,85.75 L226.57,84.44 L227.58,83.15 L228.58,81.88 L229.58,80.63 L230.59,79.4 L231.59,78.2 L232.59,77.01 L233.6,75.86 L234.6,74.72 L235.6,73.61 L236.61,72.53 L237.61,71.47 L238.61,70.44 L239.62,69.43 L240.62,68.46 L241.62,67.51 L242.62,66.59 L243.63,65.7 L244.63,64.85 L245.63,64.02 L246.64,63.22 L247.64,62.46 L248.64,61.74 L249.65,61.04 L250.65,60.38 L251.65,59.76 L252.66,59.17 L253.66,58.62 L254.66,58.11 L255.67,57.63 L256.67,57.2 L257.67,56.8 L258.68,56.44 L259.68,56.13 L260.68,55.86 L261.68,55.62 L262.69,55.44 L263.69,55.29 L264.69,55.19 L265.7,55.14 L266.7,55.13 L267.7,55.17 L268.71,55.25 L269.71,55.38 L270.71,55.56 L271.72,55.79 L272.72,56.08 L273.72,56.41 L274.73,56.79 L275.73,57.22 L276.73,57.71 L277.74,58.25 L278.74,58.83 L279.74,59.47 L280.74,60.15 L281.75,60.88 L282.75,61.64 L283.75,62.45 L284.76,63.3 L285.76,64.19 L286.76,65.11 L287.77,66.07 L288.77,67.06 L289.77,68.08 L290.78,69.14 L291.78,70.21 L292.78,71.32 L293.79,72.45 L294.79,73.6 L295.79,74.78 L296.8,75.97 L297.8,77.18 L298.8,78.41 L299.8,79.65 L300.81,80.91 L301.81,82.17 L302.81,83.45 L303.82,84.73 L304.82,86.02 L305.82,87.32 L306.83,88.62 L307.83,89.91 L308.83,91.21 L309.84,92.51 L310.84,93.81 L311.84,95.11 L312.85,96.41 L313.85,97.71 L314.85,99.01 L315.85,100.32 L316.86,101.63 L317.86,102.94 L318.86,104.26 L319.87,105.57 L320.87,106.9 L321.87,108.23 L322.88,109.56 L323.88,110.9 L324.88,112.25 L325.89,113.6 L326.89,114.97 L327.89,116.33 L328.9,117.71 L329.9,119.1 L330.9,120.49 L331.91,121.9 L332.91,123.31 L333.91,124.74 L334.91,126.17 L335.92,127.62 L336.92,129.08 L337.92,130.55 L338.93,132.04 L339.93,133.55 L340.93,135.08 L341.94,136.64 L342.94,138.22 L343.94,139.84 L344.95,141.48 L345.95,143.17 L346.95,144.89 L347.96,146.66 L348.96,148.47 L349.96,150.32 L350.97,152.23 L351.97,154.19 L352.97,156.2 L353.97,158.27 L354.98,160.4 L355.98,162.6 L356.98,164.86 L357.99,167.19 L358.99,169.6 L359.99,172.08 L361,174.63 L362,177.27" fill="none" stroke="#000" stroke-width="2.0" stroke-linecap="round" stroke-dasharray="1.4 9.9" stroke-dashoffset="0"/>
<path d="M394.7,140.86 L395.7,140.46 L396.71,140.05 L397.71,139.64 L398.71,139.23 L399.71,138.82 L400.72,138.4 L401.72,137.99 L402.72,137.57 L403.72,137.15 L404.73,136.72 L405.73,136.3 L406.73,135.87 L407.74,135.44 L408.74,135 L409.74,134.57 L410.74,134.13 L411.75,133.69 L412.75,133.25 L413.75,132.8 L414.75,132.35 L415.76,131.9 L416.76,131.45 L417.76,130.99 L418.76,130.53 L419.77,130.07 L420.77,129.6 L421.77,129.14 L422.78,128.66 L423.78,128.18 L424.78,127.69 L425.78,127.2 L426.79,126.7 L427.79,126.19 L428.79,125.66 L429.79,125.13 L430.8,124.59 L431.8,124.03 L432.8,123.45 L433.81,122.87 L434.81,122.27 L435.81,121.65 L436.81,121.01 L437.82,120.35 L438.82,119.68 L439.82,118.99 L440.82,118.27 L441.83,117.54 L442.83,116.78 L443.83,116 L444.84,115.21 L445.84,114.39 L446.84,113.56 L447.84,112.71 L448.85,111.84 L449.85,110.96 L450.85,110.05 L451.85,109.14 L452.86,108.2 L453.86,107.26 L454.86,106.29 L455.86,105.32 L456.87,104.33 L457.87,103.32 L458.87,102.31 L459.88,101.28 L460.88,100.24 L461.88,99.19 L462.88,98.12 L463.89,97.05 L464.89,95.97 L465.89,94.88 L466.89,93.78 L467.9,92.67 L468.9,91.55 L469.9,90.43 L470.91,89.3 L471.91,88.16 L472.91,87.02 L473.91,85.87 L474.92,84.72 L475.92,83.56 L476.92,82.4 L477.92,81.23 L478.93,80.06 L479.93,78.89 L480.93,77.72 L481.94,76.54 L482.94,75.37 L483.94,74.19 L484.94,73.01 L485.95,71.84 L486.95,70.66 L487.95,69.49 L488.95,68.31 L489.96,67.14 L490.96,65.98 L491.96,64.81 L492.96,63.65 L493.97,62.49 L494.97,61.34 L495.97,60.19 L496.98,59.05 L497.98,57.92 L498.98,56.79 L499.98,55.67 L500.99,54.55 L501.99,53.45 L502.99,52.35 L503.99,51.26 L505,50.18 L506,49.11 L507,48.05 L508.01,47.01 L509.01,45.97 L510.01,44.96 L511.01,43.95 L512.02,42.96 L513.02,41.99 L514.02,41.04 L515.02,40.1 L516.03,39.18 L517.03,38.28 L518.03,37.41 L519.04,36.55 L520.04,35.72 L521.04,34.91 L522.04,34.12 L523.05,33.36 L524.05,32.62 L525.05,31.91 L526.05,31.23 L527.06,30.57 L528.06,29.95 L529.06,29.35 L530.06,28.78 L531.07,28.25 L532.07,27.75 L533.07,27.28 L534.08,26.85 L535.08,26.45 L536.08,26.08 L537.08,25.76 L538.09,25.47 L539.09,25.21 L540.09,25 L541.09,24.83 L542.1,24.7 L543.1,24.61 L544.1,24.56 L545.11,24.55 L546.11,24.59 L547.11,24.68 L548.11,24.81 L549.12,24.98 L550.12,25.21 L551.12,25.48 L552.12,25.8 L553.13,26.17 L554.13,26.58 L555.13,27.03 L556.14,27.53 L557.14,28.07 L558.14,28.65 L559.14,29.27 L560.15,29.93 L561.15,30.62 L562.15,31.35 L563.15,32.11 L564.16,32.91 L565.16,33.73 L566.16,34.59 L567.16,35.48 L568.17,36.39 L569.17,37.34 L570.17,38.3 L571.18,39.29 L572.18,40.31 L573.18,41.34 L574.18,42.4 L575.19,43.48 L576.19,44.57 L577.19,45.68 L578.19,46.81 L579.2,47.95 L580.2,49.1" fill="none" stroke="#000" stroke-width="2.2" stroke-linecap="round" stroke-linejoin="round"/>
<path d="M400,229.11 L401,227.46 L402,225.81 L403,224.15 L404,222.5 L405,220.84 L406,219.18 L407,217.51 L408,215.85 L409,214.18 L410,212.51 L411,210.83 L412,209.16 L413,207.48 L414,205.8 L415,204.12 L416,202.43 L417,200.75 L418,199.06 L419,197.38 L420,195.69 L421,194 L422,192.3 L423,190.61 L424,188.92 L425,187.22 L426,185.53 L427,183.83 L428,182.14 L429,180.44 L430,178.74 L431,177.04 L432,175.34 L433,173.65 L434,171.95 L435,170.25 L436,168.55 L437,166.85 L438,165.16 L439,163.46 L440,161.76 L441,160.07 L442,158.37 L443,156.68 L444,154.98 L445,153.29 L446,151.6 L447,149.91 L448,148.22 L449,146.53 L450,144.84 L451,143.16 L452,141.47 L453,139.79 L454,138.11 L455,136.43 L456,134.76 L457,133.08 L458,131.41 L459,129.74 L460,128.08 L461,126.41 L462,124.75 L463,123.09 L464,121.43 L465,119.78 L466,118.13 L467,116.48 L468,114.84 L469,113.19 L470,111.56 L471,109.92 L472,108.29 L473,106.66 L474,105.04 L475,103.42 L476,101.81 L477,100.2 L478,98.59 L479,96.99 L480,95.39 L481,93.8 L482,92.21 L483,90.63 L484,89.06 L485,87.48 L486,85.92 L487,84.36 L488,82.8 L489,81.25 L490,79.71 L491,78.17 L492,76.64 L493,75.12 L494,73.6 L495,72.09 L496,70.58 L497,69.09 L498,67.6 L499,66.12 L500,64.66 L501,63.21 L502,61.77 L503,60.34 L504,58.93 L505,57.54 L506,56.17 L507,54.81 L508,53.47 L509,52.16 L510,50.86 L511,49.59 L512,48.35 L513,47.12 L514,45.93 L515,44.76 L516,43.62 L517,42.51 L518,41.43 L519,40.38 L520,39.36 L521,38.38 L522,37.43 L523,36.51 L524,35.64 L525,34.8 L526,34 L527,33.23 L528,32.51 L529,31.84 L530,31.2 L531,30.61 L532,30.06 L533,29.56 L534,29.11 L535,28.7 L536,28.33 L537,28.01 L538,27.73 L539,27.5 L540,27.31 L541,27.16 L542,27.05 L543,26.98 L544,26.96 L545,26.97 L546,27.02 L547,27.12 L548,27.25 L549,27.42 L550,27.62 L551,27.87 L552,28.15 L553,28.46 L554,28.82 L555,29.2 L556,29.63 L557,30.08 L558,30.57 L559,31.09 L560,31.65 L561,32.24 L562,32.86 L563,33.51 L564,34.19 L565,34.9 L566,35.64 L567,36.41 L568,37.21 L569,38.04 L570,38.89 L571,39.78 L572,40.68 L573,41.62 L574,42.58 L575,43.56 L576,44.58 L577,45.61 L578,46.67 L579,47.75 L580,48.85 L581,49.98 L582,51.13 L583,52.3 L584,53.49 L585,54.7 L586,55.93 L587,57.18 L588,58.44 L589,59.73 L590,61.04 L591,62.36 L592,63.69 L593,65.05 L594,66.42 L595,67.81 L596,69.21 L597,70.62 L598,72.05 L599,73.5 L600,74.95 L601,76.42 L602,77.9 L603,79.4 L604,80.9 L605,82.42 L606,83.94 L607,85.48 L608,87.02 L609,88.58 L610,90.14 L611,91.71 L612,93.29 L613,94.88 L614,96.47 L615,98.07 L616,99.67 L617,101.28 L618,102.9 L619,104.51 L620,106.14 L621,107.76 L622,109.39 L623,111.03 L624,112.67 L625,114.31 L626,115.95 L627,117.6 L628,119.26 L629,120.92 L630,122.58 L631,124.24 L632,125.92 L633,127.59 L634,129.27 L635,130.95 L636,132.64 L637,134.34 L638,136.04 L639,137.74 L640,139.45 L641,141.16 L642,142.88 L643,144.6 L644,146.33 L645,148.06 L646,149.8 L647,151.54 L648,153.29 L649,155.04 L650,156.8 L651,158.56 L652,160.33 L653,162.11 L654,163.89 L655,165.67 L656,167.47 L657,169.26 L658,171.07 L659,172.88 L660,174.69 L661,176.51 L662,178.34 L663,180.17 L664,182.01 L665,183.86 L666,185.71 L667,187.57 L668,189.44 L669,191.31 L670,193.19 L671,195.07 L672,196.96 L673,198.86 L674,200.76 L675,202.67" fill="none" stroke="#000" stroke-width="2.0" stroke-linecap="round" stroke-dasharray="1.4 9.9" stroke-dashoffset="0"/>
<path d="M81.4,274.94 L82.4,275.5 L83.41,276.05 L84.41,276.61 L85.41,277.16 L86.41,277.71 L87.42,278.26 L88.42,278.8 L89.42,279.34 L90.42,279.89 L91.43,280.42 L92.43,280.96 L93.43,281.49 L94.44,282.02 L95.44,282.55 L96.44,283.07 L97.44,283.59 L98.45,284.11 L99.45,284.62 L100.45,285.13 L101.45,285.64 L102.46,286.14 L103.46,286.64 L104.46,287.14 L105.47,287.63 L106.47,288.12 L107.47,288.6 L108.47,289.08 L109.48,289.55 L110.48,290.02 L111.48,290.49 L112.48,290.94 L113.49,291.4 L114.49,291.85 L115.49,292.29 L116.5,292.73 L117.5,293.17 L118.5,293.6 L119.5,294.02 L120.51,294.44 L121.51,294.85 L122.51,295.25 L123.51,295.65 L124.52,296.04 L125.52,296.43 L126.52,296.81 L127.53,297.19 L128.53,297.55 L129.53,297.91 L130.53,298.27 L131.54,298.61 L132.54,298.96 L133.54,299.29 L134.54,299.61 L135.55,299.93 L136.55,300.24 L137.55,300.55 L138.56,300.84 L139.56,301.13 L140.56,301.41 L141.56,301.68 L142.57,301.94 L143.57,302.2 L144.57,302.45 L145.57,302.69 L146.58,302.92 L147.58,303.14 L148.58,303.35 L149.59,303.55 L150.59,303.75 L151.59,303.93 L152.59,304.11 L153.6,304.28 L154.6,304.44 L155.6,304.58 L156.6,304.72 L157.61,304.85 L158.61,304.97 L159.61,305.08 L160.62,305.18 L161.62,305.27 L162.62,305.34 L163.62,305.41 L164.63,305.47 L165.63,305.52 L166.63,305.55 L167.63,305.58 L168.64,305.59 L169.64,305.59 L170.64,305.59 L171.65,305.57 L172.65,305.54 L173.65,305.5 L174.65,305.45 L175.66,305.39 L176.66,305.32 L177.66,305.25 L178.67,305.16 L179.67,305.07 L180.67,304.97 L181.67,304.86 L182.68,304.75 L183.68,304.62 L184.68,304.5 L185.68,304.36 L186.69,304.22 L187.69,304.08 L188.69,303.93 L189.7,303.77 L190.7,303.62 L191.7,303.45 L192.7,303.29 L193.71,303.12 L194.71,302.95 L195.71,302.77 L196.71,302.59 L197.72,302.41 L198.72,302.23 L199.72,302.05 L200.73,301.87 L201.73,301.68 L202.73,301.5 L203.73,301.32 L204.74,301.13 L205.74,300.95 L206.74,300.77 L207.74,300.59 L208.75,300.41 L209.75,300.23 L210.75,300.06 L211.76,299.89 L212.76,299.72 L213.76,299.56 L214.76,299.4 L215.77,299.24 L216.77,299.09 L217.77,298.94 L218.77,298.8 L219.78,298.66 L220.78,298.53 L221.78,298.41 L222.79,298.29 L223.79,298.18 L224.79,298.08 L225.79,297.98 L226.8,297.89 L227.8,297.81 L228.8,297.74 L229.8,297.68 L230.81,297.63 L231.81,297.58 L232.81,297.55 L233.82,297.53 L234.82,297.51 L235.82,297.51 L236.82,297.52 L237.83,297.54 L238.83,297.58 L239.83,297.62 L240.83,297.68 L241.84,297.75 L242.84,297.84 L243.84,297.93 L244.85,298.05 L245.85,298.17 L246.85,298.31 L247.85,298.47 L248.86,298.64 L249.86,298.83 L250.86,299.03 L251.86,299.25 L252.87,299.49 L253.87,299.74 L254.87,300.01 L255.88,300.3 L256.88,300.61 L257.88,300.93 L258.88,301.28 L259.89,301.64 L260.89,302.02 L261.89,302.42 L262.89,302.84 L263.9,303.29 L264.9,303.75" fill="none" stroke="#000" stroke-width="2.2" stroke-linecap="round" stroke-linejoin="round"/>
<path d="M81.7,384.74 L82.7,384.12 L83.7,383.51 L84.7,382.89 L85.7,382.27 L86.71,381.66 L87.71,381.04 L88.71,380.42 L89.71,379.8 L90.71,379.18 L91.71,378.56 L92.71,377.94 L93.71,377.32 L94.71,376.7 L95.72,376.08 L96.72,375.45 L97.72,374.83 L98.72,374.21 L99.72,373.59 L100.72,372.96 L101.72,372.34 L102.72,371.71 L103.72,371.09 L104.72,370.47 L105.73,369.84 L106.73,369.22 L107.73,368.59 L108.73,367.97 L109.73,367.35 L110.73,366.72 L111.73,366.1 L112.73,365.47 L113.73,364.85 L114.74,364.23 L115.74,363.6 L116.74,362.98 L117.74,362.36 L118.74,361.74 L119.74,361.11 L120.74,360.49 L121.74,359.87 L122.74,359.25 L123.75,358.63 L124.75,358.01 L125.75,357.39 L126.75,356.77 L127.75,356.15 L128.75,355.53 L129.75,354.91 L130.75,354.3 L131.75,353.68 L132.76,353.06 L133.76,352.45 L134.76,351.84 L135.76,351.22 L136.76,350.61 L137.76,350 L138.76,349.39 L139.76,348.78 L140.76,348.17 L141.77,347.56 L142.77,346.95 L143.77,346.35 L144.77,345.74 L145.77,345.14 L146.77,344.53 L147.77,343.93 L148.77,343.33 L149.77,342.73 L150.77,342.13 L151.78,341.54 L152.78,340.94 L153.78,340.35 L154.78,339.75 L155.78,339.16 L156.78,338.57 L157.78,337.98 L158.78,337.4 L159.78,336.81 L160.79,336.23 L161.79,335.64 L162.79,335.06 L163.79,334.48 L164.79,333.9 L165.79,333.33 L166.79,332.75 L167.79,332.18 L168.79,331.6 L169.8,331.03 L170.8,330.46 L171.8,329.89 L172.8,329.33 L173.8,328.76 L174.8,328.2 L175.8,327.63 L176.8,327.07 L177.8,326.51 L178.81,325.95 L179.81,325.4 L180.81,324.84 L181.81,324.28 L182.81,323.73 L183.81,323.18 L184.81,322.63 L185.81,322.08 L186.81,321.53 L187.82,320.98 L188.82,320.44 L189.82,319.89 L190.82,319.35 L191.82,318.8 L192.82,318.26 L193.82,317.72 L194.82,317.18 L195.82,316.65 L196.82,316.11 L197.83,315.57 L198.83,315.04 L199.83,314.5 L200.83,313.97 L201.83,313.44 L202.83,312.91 L203.83,312.39 L204.83,311.86 L205.83,311.35 L206.84,310.83 L207.84,310.32 L208.84,309.82 L209.84,309.32 L210.84,308.83 L211.84,308.34 L212.84,307.87 L213.84,307.4 L214.84,306.94 L215.85,306.49 L216.85,306.05 L217.85,305.62 L218.85,305.2 L219.85,304.79 L220.85,304.39 L221.85,304.01 L222.85,303.64 L223.85,303.28 L224.86,302.94 L225.86,302.61 L226.86,302.29 L227.86,302 L228.86,301.72 L229.86,301.45 L230.86,301.2 L231.86,300.97 L232.86,300.76 L233.87,300.57 L234.87,300.4 L235.87,300.25 L236.87,300.12 L237.87,300.01 L238.87,299.92 L239.87,299.85 L240.87,299.81 L241.87,299.79 L242.88,299.79 L243.88,299.82 L244.88,299.87 L245.88,299.95 L246.88,300.05 L247.88,300.18 L248.88,300.34 L249.88,300.52 L250.88,300.72 L251.88,300.96 L252.89,301.22 L253.89,301.51 L254.89,301.83 L255.89,302.18 L256.89,302.55 L257.89,302.96 L258.89,303.39 L259.89,303.86 L260.89,304.35 L261.9,304.88 L262.9,305.43 L263.9,306.02 L264.9,306.64 L265.9,307.28 L266.9,307.96 L267.9,308.67 L268.9,309.41 L269.9,310.17 L270.91,310.96 L271.91,311.78 L272.91,312.63 L273.91,313.5 L274.91,314.4 L275.91,315.33 L276.91,316.28 L277.91,317.25 L278.91,318.25 L279.92,319.27 L280.92,320.32 L281.92,321.39 L282.92,322.47 L283.92,323.58 L284.92,324.72 L285.92,325.87 L286.92,327.03 L287.92,328.22 L288.93,329.43 L289.93,330.65 L290.93,331.89 L291.93,333.14 L292.93,334.41 L293.93,335.69 L294.93,336.98 L295.93,338.29 L296.93,339.61 L297.93,340.93 L298.94,342.27 L299.94,343.62 L300.94,344.98 L301.94,346.35 L302.94,347.72 L303.94,349.1 L304.94,350.48 L305.94,351.87 L306.94,353.27 L307.95,354.67 L308.95,356.07 L309.95,357.47 L310.95,358.88 L311.95,360.29 L312.95,361.7 L313.95,363.12 L314.95,364.54 L315.95,365.97 L316.96,367.4 L317.96,368.83 L318.96,370.27 L319.96,371.71 L320.96,373.16 L321.96,374.61 L322.96,376.07 L323.96,377.53 L324.96,379 L325.97,380.47 L326.97,381.95 L327.97,383.44 L328.97,384.93 L329.97,386.42 L330.97,387.93 L331.97,389.44 L332.97,390.95 L333.97,392.47 L334.97,394 L335.98,395.54 L336.98,397.08 L337.98,398.63 L338.98,400.19 L339.98,401.76 L340.98,403.34 L341.98,404.93 L342.98,406.52 L343.98,408.13 L344.99,409.75 L345.99,411.38 L346.99,413.02 L347.99,414.68 L348.99,416.34 L349.99,418.03 L350.99,419.72 L351.99,421.43 L352.99,423.15 L354,424.89 L355,426.65 L356,428.42 L357,430.2 L358,432.01" fill="none" stroke="#000" stroke-width="2.0" stroke-linecap="round" stroke-dasharray="1.4 9.9" stroke-dashoffset="0"/>
<path d="M394,278.32 L395,278.97 L396.01,279.6 L397.01,280.22 L398.02,280.82 L399.02,281.39 L400.02,281.95 L401.03,282.5 L402.03,283.02 L403.03,283.53 L404.04,284.02 L405.04,284.49 L406.05,284.95 L407.05,285.39 L408.05,285.81 L409.06,286.22 L410.06,286.61 L411.06,286.98 L412.07,287.34 L413.07,287.69 L414.08,288.02 L415.08,288.33 L416.08,288.63 L417.09,288.92 L418.09,289.19 L419.1,289.45 L420.1,289.69 L421.1,289.92 L422.11,290.14 L423.11,290.34 L424.11,290.53 L425.12,290.71 L426.12,290.88 L427.13,291.03 L428.13,291.17 L429.13,291.3 L430.14,291.42 L431.14,291.53 L432.14,291.62 L433.15,291.71 L434.15,291.78 L435.16,291.84 L436.16,291.89 L437.16,291.94 L438.17,291.97 L439.17,291.99 L440.18,292 L441.18,292.01 L442.18,292 L443.19,291.99 L444.19,291.96 L445.19,291.93 L446.2,291.89 L447.2,291.85 L448.21,291.79 L449.21,291.73 L450.21,291.66 L451.22,291.58 L452.22,291.5 L453.22,291.4 L454.23,291.31 L455.23,291.2 L456.24,291.09 L457.24,290.98 L458.24,290.85 L459.25,290.73 L460.25,290.59 L461.25,290.46 L462.26,290.31 L463.26,290.17 L464.27,290.02 L465.27,289.86 L466.27,289.7 L467.28,289.54 L468.28,289.37 L469.29,289.2 L470.29,289.03 L471.29,288.85 L472.3,288.67 L473.3,288.49 L474.3,288.31 L475.31,288.12 L476.31,287.93 L477.32,287.75 L478.32,287.56 L479.32,287.36 L480.33,287.17 L481.33,286.98 L482.33,286.78 L483.34,286.59 L484.34,286.39 L485.35,286.2 L486.35,286.01 L487.35,285.81 L488.36,285.62 L489.36,285.43 L490.37,285.24 L491.37,285.05 L492.37,284.86 L493.38,284.68 L494.38,284.49 L495.38,284.31 L496.39,284.13 L497.39,283.95 L498.4,283.78 L499.4,283.61 L500.4,283.44 L501.41,283.28 L502.41,283.12 L503.41,282.97 L504.42,282.82 L505.42,282.67 L506.43,282.54 L507.43,282.41 L508.43,282.29 L509.44,282.18 L510.44,282.08 L511.45,281.98 L512.45,281.9 L513.45,281.83 L514.46,281.77 L515.46,281.73 L516.46,281.7 L517.47,281.68 L518.47,281.67 L519.48,281.68 L520.48,281.71 L521.48,281.76 L522.49,281.82 L523.49,281.89 L524.49,281.99 L525.5,282.11 L526.5,282.24 L527.51,282.4 L528.51,282.57 L529.51,282.77 L530.52,282.99 L531.52,283.24 L532.53,283.5 L533.53,283.79 L534.53,284.11 L535.54,284.45 L536.54,284.82 L537.54,285.21 L538.55,285.63 L539.55,286.08 L540.56,286.56 L541.56,287.06 L542.56,287.6 L543.57,288.16 L544.57,288.76 L545.57,289.38 L546.58,290.03 L547.58,290.71 L548.59,291.42 L549.59,292.16 L550.59,292.93 L551.6,293.72 L552.6,294.55 L553.6,295.4 L554.61,296.28 L555.61,297.19 L556.62,298.13 L557.62,299.09 L558.62,300.08 L559.63,301.1 L560.63,302.15 L561.64,303.23 L562.64,304.33 L563.64,305.46 L564.65,306.62 L565.65,307.81 L566.65,309.02 L567.66,310.27 L568.66,311.53 L569.67,312.83 L570.67,314.15 L571.67,315.5 L572.68,316.88 L573.68,318.28 L574.68,319.71 L575.69,321.17 L576.69,322.65 L577.7,324.16 L578.7,325.7" fill="none" stroke="#000" stroke-width="2.2" stroke-linecap="round" stroke-linejoin="round"/>
<path d="M395.1,348.63 L396.1,347.96 L397.1,347.3 L398.1,346.63 L399.1,345.98 L400.1,345.33 L401.1,344.68 L402.11,344.04 L403.11,343.4 L404.11,342.76 L405.11,342.13 L406.11,341.51 L407.11,340.88 L408.11,340.26 L409.11,339.65 L410.11,339.04 L411.11,338.43 L412.11,337.82 L413.11,337.22 L414.11,336.62 L415.12,336.02 L416.12,335.43 L417.12,334.84 L418.12,334.25 L419.12,333.67 L420.12,333.08 L421.12,332.5 L422.12,331.92 L423.12,331.35 L424.12,330.77 L425.12,330.2 L426.12,329.63 L427.12,329.06 L428.13,328.5 L429.13,327.93 L430.13,327.37 L431.13,326.8 L432.13,326.24 L433.13,325.68 L434.13,325.12 L435.13,324.56 L436.13,324 L437.13,323.44 L438.13,322.89 L439.13,322.33 L440.14,321.77 L441.14,321.22 L442.14,320.66 L443.14,320.11 L444.14,319.55 L445.14,318.99 L446.14,318.44 L447.14,317.88 L448.14,317.32 L449.14,316.77 L450.14,316.21 L451.14,315.65 L452.14,315.09 L453.15,314.52 L454.15,313.96 L455.15,313.4 L456.15,312.83 L457.15,312.27 L458.15,311.7 L459.15,311.13 L460.15,310.56 L461.15,309.98 L462.15,309.41 L463.15,308.83 L464.15,308.25 L465.15,307.67 L466.16,307.08 L467.16,306.5 L468.16,305.91 L469.16,305.32 L470.16,304.74 L471.16,304.15 L472.16,303.56 L473.16,302.98 L474.16,302.39 L475.16,301.81 L476.16,301.23 L477.16,300.66 L478.16,300.08 L479.17,299.51 L480.17,298.95 L481.17,298.39 L482.17,297.83 L483.17,297.28 L484.17,296.73 L485.17,296.19 L486.17,295.66 L487.17,295.13 L488.17,294.61 L489.17,294.1 L490.17,293.59 L491.18,293.09 L492.18,292.61 L493.18,292.13 L494.18,291.66 L495.18,291.2 L496.18,290.75 L497.18,290.32 L498.18,289.89 L499.18,289.48 L500.18,289.07 L501.18,288.68 L502.18,288.31 L503.18,287.94 L504.19,287.59 L505.19,287.26 L506.19,286.93 L507.19,286.63 L508.19,286.34 L509.19,286.06 L510.19,285.8 L511.19,285.56 L512.19,285.33 L513.19,285.12 L514.19,284.93 L515.19,284.76 L516.19,284.6 L517.2,284.47 L518.2,284.35 L519.2,284.25 L520.2,284.18 L521.2,284.12 L522.2,284.09 L523.2,284.07 L524.2,284.08 L525.2,284.11 L526.2,284.17 L527.2,284.24 L528.2,284.34 L529.2,284.47 L530.21,284.61 L531.21,284.79 L532.21,284.98 L533.21,285.21 L534.21,285.46 L535.21,285.73 L536.21,286.03 L537.21,286.36 L538.21,286.72 L539.21,287.1 L540.21,287.51 L541.21,287.95 L542.21,288.42 L543.22,288.91 L544.22,289.43 L545.22,289.98 L546.22,290.55 L547.22,291.15 L548.22,291.78 L549.22,292.43 L550.22,293.11 L551.22,293.81 L552.22,294.54 L553.22,295.29 L554.22,296.07 L555.22,296.88 L556.23,297.71 L557.23,298.56 L558.23,299.44 L559.23,300.34 L560.23,301.27 L561.23,302.22 L562.23,303.19 L563.23,304.19 L564.23,305.21 L565.23,306.26 L566.23,307.32 L567.23,308.41 L568.24,309.53 L569.24,310.66 L570.24,311.82 L571.24,313 L572.24,314.2 L573.24,315.42 L574.24,316.67 L575.24,317.94 L576.24,319.22 L577.24,320.53 L578.24,321.86 L579.24,323.21 L580.24,324.58 L581.25,325.98 L582.25,327.39 L583.25,328.82 L584.25,330.27 L585.25,331.74 L586.25,333.23 L587.25,334.74 L588.25,336.26 L589.25,337.8 L590.25,339.35 L591.25,340.9 L592.25,342.47 L593.25,344.04 L594.26,345.61 L595.26,347.19 L596.26,348.77 L597.26,350.34 L598.26,351.92 L599.26,353.48 L600.26,355.04 L601.26,356.59 L602.26,358.13 L603.26,359.65 L604.26,361.16 L605.26,362.66 L606.26,364.13 L607.27,365.6 L608.27,367.05 L609.27,368.49 L610.27,369.94 L611.27,371.39 L612.27,372.85 L613.27,374.32 L614.27,375.81 L615.27,377.32 L616.27,378.85 L617.27,380.42 L618.27,382.02 L619.27,383.67 L620.28,385.35 L621.28,387.09 L622.28,388.86 L623.28,390.67 L624.28,392.5 L625.28,394.34 L626.28,396.2 L627.28,398.06 L628.28,399.91 L629.28,401.75 L630.28,403.57 L631.28,405.37 L632.29,407.12 L633.29,408.84 L634.29,410.5 L635.29,412.11 L636.29,413.66 L637.29,415.17 L638.29,416.66 L639.29,418.12 L640.29,419.58 L641.29,421.04 L642.29,422.51 L643.29,424.01 L644.29,425.54 L645.3,427.13 L646.3,428.77 L647.3,430.48 L648.3,432.27 L649.3,434.16 L650.3,436.15 L651.3,438.25" fill="none" stroke="#000" stroke-width="2.0" stroke-linecap="round" stroke-dasharray="1.4 9.9" stroke-dashoffset="0"/>
<rect x="50" y="0.5" width="313" height="1.7" fill="#000"/>
<rect x="362.8" y="-0.3" width="314.4" height="1.9" fill="#000"/>
<rect x="50" y="1" width="2" height="439.6" fill="#000"/>
<rect x="362.3" y="-0.3" width="2.45" height="441.6" fill="#000"/>
<rect x="675.3" y="-0.3" width="1.9" height="441.6" fill="#000"/>
<rect x="50" y="227.4" width="627.2" height="2" fill="#000"/>
<rect x="50" y="438.7" width="314" height="1.9" fill="#000"/>
<rect x="362.8" y="439.3" width="314.4" height="2" fill="#000"/>
<line x1="60.21" y1="2.2" x2="60.21" y2="3.6" stroke="#000" stroke-width="2.1" />
<line x1="68.36" y1="2.2" x2="68.36" y2="3.6" stroke="#000" stroke-width="2.1" />
<line x1="75.56" y1="2.2" x2="75.56" y2="3.6" stroke="#000" stroke-width="2.1" />
<line x1="82" y1="2.2" x2="82" y2="6.2" stroke="#000" stroke-width="2.1" />
<line x1="124.35" y1="2.2" x2="124.35" y2="3.6" stroke="#000" stroke-width="2.1" />
<line x1="149.13" y1="2.2" x2="149.13" y2="3.6" stroke="#000" stroke-width="2.1" />
<line x1="166.71" y1="2.2" x2="166.71" y2="3.6" stroke="#000" stroke-width="2.1" />
<line x1="180.35" y1="2.2" x2="180.35" y2="3.6" stroke="#000" stroke-width="2.1" />
<line x1="191.49" y1="2.2" x2="191.49" y2="3.6" stroke="#000" stroke-width="2.1" />
<line x1="200.91" y1="2.2" x2="200.91" y2="3.6" stroke="#000" stroke-width="2.1" />
<line x1="209.06" y1="2.2" x2="209.06" y2="3.6" stroke="#000" stroke-width="2.1" />
<line x1="216.26" y1="2.2" x2="216.26" y2="3.6" stroke="#000" stroke-width="2.1" />
<line x1="222.7" y1="2.2" x2="222.7" y2="6.2" stroke="#000" stroke-width="2.1" />
<line x1="265.05" y1="2.2" x2="265.05" y2="3.6" stroke="#000" stroke-width="2.1" />
<line x1="289.83" y1="2.2" x2="289.83" y2="3.6" stroke="#000" stroke-width="2.1" />
<line x1="307.41" y1="2.2" x2="307.41" y2="3.6" stroke="#000" stroke-width="2.1" />
<line x1="321.05" y1="2.2" x2="321.05" y2="3.6" stroke="#000" stroke-width="2.1" />
<line x1="332.19" y1="2.2" x2="332.19" y2="3.6" stroke="#000" stroke-width="2.1" />
<line x1="341.61" y1="2.2" x2="341.61" y2="3.6" stroke="#000" stroke-width="2.1" />
<line x1="349.76" y1="2.2" x2="349.76" y2="3.6" stroke="#000" stroke-width="2.1" />
<line x1="356.96" y1="2.2" x2="356.96" y2="3.6" stroke="#000" stroke-width="2.1" />
<line x1="60.21" y1="227.4" x2="60.21" y2="226" stroke="#000" stroke-width="2.1" />
<line x1="68.36" y1="227.4" x2="68.36" y2="226" stroke="#000" stroke-width="2.1" />
<line x1="75.56" y1="227.4" x2="75.56" y2="226" stroke="#000" stroke-width="2.1" />
<line x1="82" y1="227.4" x2="82" y2="223.4" stroke="#000" stroke-width="2.1" />
<line x1="124.35" y1="227.4" x2="124.35" y2="226" stroke="#000" stroke-width="2.1" />
<line x1="149.13" y1="227.4" x2="149.13" y2="226" stroke="#000" stroke-width="2.1" />
<line x1="166.71" y1="227.4" x2="166.71" y2="226" stroke="#000" stroke-width="2.1" />
<line x1="180.35" y1="227.4" x2="180.35" y2="226" stroke="#000" stroke-width="2.1" />
<line x1="191.49" y1="227.4" x2="191.49" y2="226" stroke="#000" stroke-width="2.1" />
<line x1="200.91" y1="227.4" x2="200.91" y2="226" stroke="#000" stroke-width="2.1" />
<line x1="209.06" y1="227.4" x2="209.06" y2="226" stroke="#000" stroke-width="2.1" />
<line x1="216.26" y1="227.4" x2="216.26" y2="226" stroke="#000" stroke-width="2.1" />
<line x1="222.7" y1="227.4" x2="222.7" y2="223.4" stroke="#000" stroke-width="2.1" />
<line x1="265.05" y1="227.4" x2="265.05" y2="226" stroke="#000" stroke-width="2.1" />
<line x1="289.83" y1="227.4" x2="289.83" y2="226" stroke="#000" stroke-width="2.1" />
<line x1="307.41" y1="227.4" x2="307.41" y2="226" stroke="#000" stroke-width="2.1" />
<line x1="321.05" y1="227.4" x2="321.05" y2="226" stroke="#000" stroke-width="2.1" />
<line x1="332.19" y1="227.4" x2="332.19" y2="226" stroke="#000" stroke-width="2.1" />
<line x1="341.61" y1="227.4" x2="341.61" y2="226" stroke="#000" stroke-width="2.1" />
<line x1="349.76" y1="227.4" x2="349.76" y2="226" stroke="#000" stroke-width="2.1" />
<line x1="356.96" y1="227.4" x2="356.96" y2="226" stroke="#000" stroke-width="2.1" />
<line x1="60.21" y1="229.4" x2="60.21" y2="230.8" stroke="#000" stroke-width="2.1" />
<line x1="68.36" y1="229.4" x2="68.36" y2="230.8" stroke="#000" stroke-width="2.1" />
<line x1="75.56" y1="229.4" x2="75.56" y2="230.8" stroke="#000" stroke-width="2.1" />
<line x1="82" y1="229.4" x2="82" y2="233.4" stroke="#000" stroke-width="2.1" />
<line x1="124.35" y1="229.4" x2="124.35" y2="230.8" stroke="#000" stroke-width="2.1" />
<line x1="149.13" y1="229.4" x2="149.13" y2="230.8" stroke="#000" stroke-width="2.1" />
<line x1="166.71" y1="229.4" x2="166.71" y2="230.8" stroke="#000" stroke-width="2.1" />
<line x1="180.35" y1="229.4" x2="180.35" y2="230.8" stroke="#000" stroke-width="2.1" />
<line x1="191.49" y1="229.4" x2="191.49" y2="230.8" stroke="#000" stroke-width="2.1" />
<line x1="200.91" y1="229.4" x2="200.91" y2="230.8" stroke="#000" stroke-width="2.1" />
<line x1="209.06" y1="229.4" x2="209.06" y2="230.8" stroke="#000" stroke-width="2.1" />
<line x1="216.26" y1="229.4" x2="216.26" y2="230.8" stroke="#000" stroke-width="2.1" />
<line x1="222.7" y1="229.4" x2="222.7" y2="233.4" stroke="#000" stroke-width="2.1" />
<line x1="265.05" y1="229.4" x2="265.05" y2="230.8" stroke="#000" stroke-width="2.1" />
<line x1="289.83" y1="229.4" x2="289.83" y2="230.8" stroke="#000" stroke-width="2.1" />
<line x1="307.41" y1="229.4" x2="307.41" y2="230.8" stroke="#000" stroke-width="2.1" />
<line x1="321.05" y1="229.4" x2="321.05" y2="230.8" stroke="#000" stroke-width="2.1" />
<line x1="332.19" y1="229.4" x2="332.19" y2="230.8" stroke="#000" stroke-width="2.1" />
<line x1="341.61" y1="229.4" x2="341.61" y2="230.8" stroke="#000" stroke-width="2.1" />
<line x1="349.76" y1="229.4" x2="349.76" y2="230.8" stroke="#000" stroke-width="2.1" />
<line x1="356.96" y1="229.4" x2="356.96" y2="230.8" stroke="#000" stroke-width="2.1" />
<line x1="60.21" y1="438.7" x2="60.21" y2="437.3" stroke="#000" stroke-width="2.1" />
<line x1="68.36" y1="438.7" x2="68.36" y2="437.3" stroke="#000" stroke-width="2.1" />
<line x1="75.56" y1="438.7" x2="75.56" y2="437.3" stroke="#000" stroke-width="2.1" />
<line x1="82" y1="438.7" x2="82" y2="434.7" stroke="#000" stroke-width="2.1" />
<line x1="124.35" y1="438.7" x2="124.35" y2="437.3" stroke="#000" stroke-width="2.1" />
<line x1="149.13" y1="438.7" x2="149.13" y2="437.3" stroke="#000" stroke-width="2.1" />
<line x1="166.71" y1="438.7" x2="166.71" y2="437.3" stroke="#000" stroke-width="2.1" />
<line x1="180.35" y1="438.7" x2="180.35" y2="437.3" stroke="#000" stroke-width="2.1" />
<line x1="191.49" y1="438.7" x2="191.49" y2="437.3" stroke="#000" stroke-width="2.1" />
<line x1="200.91" y1="438.7" x2="200.91" y2="437.3" stroke="#000" stroke-width="2.1" />
<line x1="209.06" y1="438.7" x2="209.06" y2="437.3" stroke="#000" stroke-width="2.1" />
<line x1="216.26" y1="438.7" x2="216.26" y2="437.3" stroke="#000" stroke-width="2.1" />
<line x1="222.7" y1="438.7" x2="222.7" y2="434.7" stroke="#000" stroke-width="2.1" />
<line x1="265.05" y1="438.7" x2="265.05" y2="437.3" stroke="#000" stroke-width="2.1" />
<line x1="289.83" y1="438.7" x2="289.83" y2="437.3" stroke="#000" stroke-width="2.1" />
<line x1="307.41" y1="438.7" x2="307.41" y2="437.3" stroke="#000" stroke-width="2.1" />
<line x1="321.05" y1="438.7" x2="321.05" y2="437.3" stroke="#000" stroke-width="2.1" />
<line x1="332.19" y1="438.7" x2="332.19" y2="437.3" stroke="#000" stroke-width="2.1" />
<line x1="341.61" y1="438.7" x2="341.61" y2="437.3" stroke="#000" stroke-width="2.1" />
<line x1="349.76" y1="438.7" x2="349.76" y2="437.3" stroke="#000" stroke-width="2.1" />
<line x1="356.96" y1="438.7" x2="356.96" y2="437.3" stroke="#000" stroke-width="2.1" />
<line x1="373.22" y1="1.5" x2="373.22" y2="2.9" stroke="#000" stroke-width="2.1" />
<line x1="381.37" y1="1.5" x2="381.37" y2="2.9" stroke="#000" stroke-width="2.1" />
<line x1="388.57" y1="1.5" x2="388.57" y2="2.9" stroke="#000" stroke-width="2.1" />
<line x1="395" y1="1.5" x2="395" y2="5.5" stroke="#000" stroke-width="2.1" />
<line x1="437.32" y1="1.5" x2="437.32" y2="2.9" stroke="#000" stroke-width="2.1" />
<line x1="462.08" y1="1.5" x2="462.08" y2="2.9" stroke="#000" stroke-width="2.1" />
<line x1="479.65" y1="1.5" x2="479.65" y2="2.9" stroke="#000" stroke-width="2.1" />
<line x1="493.28" y1="1.5" x2="493.28" y2="2.9" stroke="#000" stroke-width="2.1" />
<line x1="504.41" y1="1.5" x2="504.41" y2="2.9" stroke="#000" stroke-width="2.1" />
<line x1="513.82" y1="1.5" x2="513.82" y2="2.9" stroke="#000" stroke-width="2.1" />
<line x1="521.97" y1="1.5" x2="521.97" y2="2.9" stroke="#000" stroke-width="2.1" />
<line x1="529.17" y1="1.5" x2="529.17" y2="2.9" stroke="#000" stroke-width="2.1" />
<line x1="535.6" y1="1.5" x2="535.6" y2="5.5" stroke="#000" stroke-width="2.1" />
<line x1="577.92" y1="1.5" x2="577.92" y2="2.9" stroke="#000" stroke-width="2.1" />
<line x1="602.68" y1="1.5" x2="602.68" y2="2.9" stroke="#000" stroke-width="2.1" />
<line x1="620.25" y1="1.5" x2="620.25" y2="2.9" stroke="#000" stroke-width="2.1" />
<line x1="633.88" y1="1.5" x2="633.88" y2="2.9" stroke="#000" stroke-width="2.1" />
<line x1="645.01" y1="1.5" x2="645.01" y2="2.9" stroke="#000" stroke-width="2.1" />
<line x1="654.42" y1="1.5" x2="654.42" y2="2.9" stroke="#000" stroke-width="2.1" />
<line x1="662.57" y1="1.5" x2="662.57" y2="2.9" stroke="#000" stroke-width="2.1" />
<line x1="669.77" y1="1.5" x2="669.77" y2="2.9" stroke="#000" stroke-width="2.1" />
<line x1="373.22" y1="227.4" x2="373.22" y2="226" stroke="#000" stroke-width="2.1" />
<line x1="381.37" y1="227.4" x2="381.37" y2="226" stroke="#000" stroke-width="2.1" />
<line x1="388.57" y1="227.4" x2="388.57" y2="226" stroke="#000" stroke-width="2.1" />
<line x1="395" y1="227.4" x2="395" y2="223.4" stroke="#000" stroke-width="2.1" />
<line x1="437.32" y1="227.4" x2="437.32" y2="226" stroke="#000" stroke-width="2.1" />
<line x1="462.08" y1="227.4" x2="462.08" y2="226" stroke="#000" stroke-width="2.1" />
<line x1="479.65" y1="227.4" x2="479.65" y2="226" stroke="#000" stroke-width="2.1" />
<line x1="493.28" y1="227.4" x2="493.28" y2="226" stroke="#000" stroke-width="2.1" />
<line x1="504.41" y1="227.4" x2="504.41" y2="226" stroke="#000" stroke-width="2.1" />
<line x1="513.82" y1="227.4" x2="513.82" y2="226" stroke="#000" stroke-width="2.1" />
<line x1="521.97" y1="227.4" x2="521.97" y2="226" stroke="#000" stroke-width="2.1" />
<line x1="529.17" y1="227.4" x2="529.17" y2="226" stroke="#000" stroke-width="2.1" />
<line x1="535.6" y1="227.4" x2="535.6" y2="223.4" stroke="#000" stroke-width="2.1" />
<line x1="577.92" y1="227.4" x2="577.92" y2="226" stroke="#000" stroke-width="2.1" />
<line x1="602.68" y1="227.4" x2="602.68" y2="226" stroke="#000" stroke-width="2.1" />
<line x1="620.25" y1="227.4" x2="620.25" y2="226" stroke="#000" stroke-width="2.1" />
<line x1="633.88" y1="227.4" x2="633.88" y2="226" stroke="#000" stroke-width="2.1" />
<line x1="645.01" y1="227.4" x2="645.01" y2="226" stroke="#000" stroke-width="2.1" />
<line x1="654.42" y1="227.4" x2="654.42" y2="226" stroke="#000" stroke-width="2.1" />
<line x1="662.57" y1="227.4" x2="662.57" y2="226" stroke="#000" stroke-width="2.1" />
<line x1="669.77" y1="227.4" x2="669.77" y2="226" stroke="#000" stroke-width="2.1" />
<line x1="373.22" y1="229.4" x2="373.22" y2="230.8" stroke="#000" stroke-width="2.1" />
<line x1="381.37" y1="229.4" x2="381.37" y2="230.8" stroke="#000" stroke-width="2.1" />
<line x1="388.57" y1="229.4" x2="388.57" y2="230.8" stroke="#000" stroke-width="2.1" />
<line x1="395" y1="229.4" x2="395" y2="233.4" stroke="#000" stroke-width="2.1" />
<line x1="437.32" y1="229.4" x2="437.32" y2="230.8" stroke="#000" stroke-width="2.1" />
<line x1="462.08" y1="229.4" x2="462.08" y2="230.8" stroke="#000" stroke-width="2.1" />
<line x1="479.65" y1="229.4" x2="479.65" y2="230.8" stroke="#000" stroke-width="2.1" />
<line x1="493.28" y1="229.4" x2="493.28" y2="230.8" stroke="#000" stroke-width="2.1" />
<line x1="504.41" y1="229.4" x2="504.41" y2="230.8" stroke="#000" stroke-width="2.1" />
<line x1="513.82" y1="229.4" x2="513.82" y2="230.8" stroke="#000" stroke-width="2.1" />
<line x1="521.97" y1="229.4" x2="521.97" y2="230.8" stroke="#000" stroke-width="2.1" />
<line x1="529.17" y1="229.4" x2="529.17" y2="230.8" stroke="#000" stroke-width="2.1" />
<line x1="535.6" y1="229.4" x2="535.6" y2="233.4" stroke="#000" stroke-width="2.1" />
<line x1="577.92" y1="229.4" x2="577.92" y2="230.8" stroke="#000" stroke-width="2.1" />
<line x1="602.68" y1="229.4" x2="602.68" y2="230.8" stroke="#000" stroke-width="2.1" />
<line x1="620.25" y1="229.4" x2="620.25" y2="230.8" stroke="#000" stroke-width="2.1" />
<line x1="633.88" y1="229.4" x2="633.88" y2="230.8" stroke="#000" stroke-width="2.1" />
<line x1="645.01" y1="229.4" x2="645.01" y2="230.8" stroke="#000" stroke-width="2.1" />
<line x1="654.42" y1="229.4" x2="654.42" y2="230.8" stroke="#000" stroke-width="2.1" />
<line x1="662.57" y1="229.4" x2="662.57" y2="230.8" stroke="#000" stroke-width="2.1" />
<line x1="669.77" y1="229.4" x2="669.77" y2="230.8" stroke="#000" stroke-width="2.1" />
<line x1="373.22" y1="439.3" x2="373.22" y2="437.9" stroke="#000" stroke-width="2.1" />
<line x1="381.37" y1="439.3" x2="381.37" y2="437.9" stroke="#000" stroke-width="2.1" />
<line x1="388.57" y1="439.3" x2="388.57" y2="437.9" stroke="#000" stroke-width="2.1" />
<line x1="395" y1="439.3" x2="395" y2="435.3" stroke="#000" stroke-width="2.1" />
<line x1="437.32" y1="439.3" x2="437.32" y2="437.9" stroke="#000" stroke-width="2.1" />
<line x1="462.08" y1="439.3" x2="462.08" y2="437.9" stroke="#000" stroke-width="2.1" />
<line x1="479.65" y1="439.3" x2="479.65" y2="437.9" stroke="#000" stroke-width="2.1" />
<line x1="493.28" y1="439.3" x2="493.28" y2="437.9" stroke="#000" stroke-width="2.1" />
<line x1="504.41" y1="439.3" x2="504.41" y2="437.9" stroke="#000" stroke-width="2.1" />
<line x1="513.82" y1="439.3" x2="513.82" y2="437.9" stroke="#000" stroke-width="2.1" />
<line x1="521.97" y1="439.3" x2="521.97" y2="437.9" stroke="#000" stroke-width="2.1" />
<line x1="529.17" y1="439.3" x2="529.17" y2="437.9" stroke="#000" stroke-width="2.1" />
<line x1="535.6" y1="439.3" x2="535.6" y2="435.3" stroke="#000" stroke-width="2.1" />
<line x1="577.92" y1="439.3" x2="577.92" y2="437.9" stroke="#000" stroke-width="2.1" />
<line x1="602.68" y1="439.3" x2="602.68" y2="437.9" stroke="#000" stroke-width="2.1" />
<line x1="620.25" y1="439.3" x2="620.25" y2="437.9" stroke="#000" stroke-width="2.1" />
<line x1="633.88" y1="439.3" x2="633.88" y2="437.9" stroke="#000" stroke-width="2.1" />
<line x1="645.01" y1="439.3" x2="645.01" y2="437.9" stroke="#000" stroke-width="2.1" />
<line x1="654.42" y1="439.3" x2="654.42" y2="437.9" stroke="#000" stroke-width="2.1" />
<line x1="662.57" y1="439.3" x2="662.57" y2="437.9" stroke="#000" stroke-width="2.1" />
<line x1="669.77" y1="439.3" x2="669.77" y2="437.9" stroke="#000" stroke-width="2.1" />
<line x1="52" y1="209" x2="56" y2="209" stroke="#000" stroke-width="2.1" />
<line x1="52" y1="86.8" x2="56" y2="86.8" stroke="#000" stroke-width="2.1" />
<line x1="52" y1="220.84" x2="53.4" y2="220.84" stroke="#000" stroke-width="2.1" />
<line x1="52" y1="214.59" x2="53.4" y2="214.59" stroke="#000" stroke-width="2.1" />
<line x1="52" y1="172.21" x2="53.4" y2="172.21" stroke="#000" stroke-width="2.1" />
<line x1="52" y1="150.7" x2="53.4" y2="150.7" stroke="#000" stroke-width="2.1" />
<line x1="52" y1="135.43" x2="53.4" y2="135.43" stroke="#000" stroke-width="2.1" />
<line x1="52" y1="123.59" x2="53.4" y2="123.59" stroke="#000" stroke-width="2.1" />
<line x1="52" y1="113.91" x2="53.4" y2="113.91" stroke="#000" stroke-width="2.1" />
<line x1="52" y1="105.73" x2="53.4" y2="105.73" stroke="#000" stroke-width="2.1" />
<line x1="52" y1="98.64" x2="53.4" y2="98.64" stroke="#000" stroke-width="2.1" />
<line x1="52" y1="92.39" x2="53.4" y2="92.39" stroke="#000" stroke-width="2.1" />
<line x1="52" y1="50.01" x2="53.4" y2="50.01" stroke="#000" stroke-width="2.1" />
<line x1="52" y1="28.5" x2="53.4" y2="28.5" stroke="#000" stroke-width="2.1" />
<line x1="52" y1="13.23" x2="53.4" y2="13.23" stroke="#000" stroke-width="2.1" />
<line x1="362.3" y1="209" x2="358.3" y2="209" stroke="#000" stroke-width="2.1" />
<line x1="362.3" y1="86.8" x2="358.3" y2="86.8" stroke="#000" stroke-width="2.1" />
<line x1="362.3" y1="220.84" x2="360.9" y2="220.84" stroke="#000" stroke-width="2.1" />
<line x1="362.3" y1="214.59" x2="360.9" y2="214.59" stroke="#000" stroke-width="2.1" />
<line x1="362.3" y1="172.21" x2="360.9" y2="172.21" stroke="#000" stroke-width="2.1" />
<line x1="362.3" y1="150.7" x2="360.9" y2="150.7" stroke="#000" stroke-width="2.1" />
<line x1="362.3" y1="135.43" x2="360.9" y2="135.43" stroke="#000" stroke-width="2.1" />
<line x1="362.3" y1="123.59" x2="360.9" y2="123.59" stroke="#000" stroke-width="2.1" />
<line x1="362.3" y1="113.91" x2="360.9" y2="113.91" stroke="#000" stroke-width="2.1" />
<line x1="362.3" y1="105.73" x2="360.9" y2="105.73" stroke="#000" stroke-width="2.1" />
<line x1="362.3" y1="98.64" x2="360.9" y2="98.64" stroke="#000" stroke-width="2.1" />
<line x1="362.3" y1="92.39" x2="360.9" y2="92.39" stroke="#000" stroke-width="2.1" />
<line x1="362.3" y1="50.01" x2="360.9" y2="50.01" stroke="#000" stroke-width="2.1" />
<line x1="362.3" y1="28.5" x2="360.9" y2="28.5" stroke="#000" stroke-width="2.1" />
<line x1="362.3" y1="13.23" x2="360.9" y2="13.23" stroke="#000" stroke-width="2.1" />
<line x1="364.8" y1="209" x2="368.8" y2="209" stroke="#000" stroke-width="2.1" />
<line x1="364.8" y1="86.8" x2="368.8" y2="86.8" stroke="#000" stroke-width="2.1" />
<line x1="364.8" y1="220.84" x2="366.2" y2="220.84" stroke="#000" stroke-width="2.1" />
<line x1="364.8" y1="214.59" x2="366.2" y2="214.59" stroke="#000" stroke-width="2.1" />
<line x1="364.8" y1="172.21" x2="366.2" y2="172.21" stroke="#000" stroke-width="2.1" />
<line x1="364.8" y1="150.7" x2="366.2" y2="150.7" stroke="#000" stroke-width="2.1" />
<line x1="364.8" y1="135.43" x2="366.2" y2="135.43" stroke="#000" stroke-width="2.1" />
<line x1="364.8" y1="123.59" x2="366.2" y2="123.59" stroke="#000" stroke-width="2.1" />
<line x1="364.8" y1="113.91" x2="366.2" y2="113.91" stroke="#000" stroke-width="2.1" />
<line x1="364.8" y1="105.73" x2="366.2" y2="105.73" stroke="#000" stroke-width="2.1" />
<line x1="364.8" y1="98.64" x2="366.2" y2="98.64" stroke="#000" stroke-width="2.1" />
<line x1="364.8" y1="92.39" x2="366.2" y2="92.39" stroke="#000" stroke-width="2.1" />
<line x1="364.8" y1="50.01" x2="366.2" y2="50.01" stroke="#000" stroke-width="2.1" />
<line x1="364.8" y1="28.5" x2="366.2" y2="28.5" stroke="#000" stroke-width="2.1" />
<line x1="364.8" y1="13.23" x2="366.2" y2="13.23" stroke="#000" stroke-width="2.1" />
<line x1="675.3" y1="209" x2="671.3" y2="209" stroke="#000" stroke-width="2.1" />
<line x1="675.3" y1="86.8" x2="671.3" y2="86.8" stroke="#000" stroke-width="2.1" />
<line x1="675.3" y1="220.84" x2="673.9" y2="220.84" stroke="#000" stroke-width="2.1" />
<line x1="675.3" y1="214.59" x2="673.9" y2="214.59" stroke="#000" stroke-width="2.1" />
<line x1="675.3" y1="172.21" x2="673.9" y2="172.21" stroke="#000" stroke-width="2.1" />
<line x1="675.3" y1="150.7" x2="673.9" y2="150.7" stroke="#000" stroke-width="2.1" />
<line x1="675.3" y1="135.43" x2="673.9" y2="135.43" stroke="#000" stroke-width="2.1" />
<line x1="675.3" y1="123.59" x2="673.9" y2="123.59" stroke="#000" stroke-width="2.1" />
<line x1="675.3" y1="113.91" x2="673.9" y2="113.91" stroke="#000" stroke-width="2.1" />
<line x1="675.3" y1="105.73" x2="673.9" y2="105.73" stroke="#000" stroke-width="2.1" />
<line x1="675.3" y1="98.64" x2="673.9" y2="98.64" stroke="#000" stroke-width="2.1" />
<line x1="675.3" y1="92.39" x2="673.9" y2="92.39" stroke="#000" stroke-width="2.1" />
<line x1="675.3" y1="50.01" x2="673.9" y2="50.01" stroke="#000" stroke-width="2.1" />
<line x1="675.3" y1="28.5" x2="673.9" y2="28.5" stroke="#000" stroke-width="2.1" />
<line x1="675.3" y1="13.23" x2="673.9" y2="13.23" stroke="#000" stroke-width="2.1" />
<line x1="52" y1="394" x2="56" y2="394" stroke="#000" stroke-width="2.1" />
<line x1="52" y1="307" x2="56" y2="307" stroke="#000" stroke-width="2.1" />
<line x1="52" y1="428.62" x2="53.4" y2="428.62" stroke="#000" stroke-width="2.1" />
<line x1="52" y1="420.19" x2="53.4" y2="420.19" stroke="#000" stroke-width="2.1" />
<line x1="52" y1="413.3" x2="53.4" y2="413.3" stroke="#000" stroke-width="2.1" />
<line x1="52" y1="407.48" x2="53.4" y2="407.48" stroke="#000" stroke-width="2.1" />
<line x1="52" y1="402.43" x2="53.4" y2="402.43" stroke="#000" stroke-width="2.1" />
<line x1="52" y1="397.98" x2="53.4" y2="397.98" stroke="#000" stroke-width="2.1" />
<line x1="52" y1="367.81" x2="53.4" y2="367.81" stroke="#000" stroke-width="2.1" />
<line x1="52" y1="352.49" x2="53.4" y2="352.49" stroke="#000" stroke-width="2.1" />
<line x1="52" y1="341.62" x2="53.4" y2="341.62" stroke="#000" stroke-width="2.1" />
<line x1="52" y1="333.19" x2="53.4" y2="333.19" stroke="#000" stroke-width="2.1" />
<line x1="52" y1="326.3" x2="53.4" y2="326.3" stroke="#000" stroke-width="2.1" />
<line x1="52" y1="320.48" x2="53.4" y2="320.48" stroke="#000" stroke-width="2.1" />
<line x1="52" y1="315.43" x2="53.4" y2="315.43" stroke="#000" stroke-width="2.1" />
<line x1="52" y1="310.98" x2="53.4" y2="310.98" stroke="#000" stroke-width="2.1" />
<line x1="52" y1="280.81" x2="53.4" y2="280.81" stroke="#000" stroke-width="2.1" />
<line x1="52" y1="265.49" x2="53.4" y2="265.49" stroke="#000" stroke-width="2.1" />
<line x1="52" y1="254.62" x2="53.4" y2="254.62" stroke="#000" stroke-width="2.1" />
<line x1="52" y1="246.19" x2="53.4" y2="246.19" stroke="#000" stroke-width="2.1" />
<line x1="52" y1="239.3" x2="53.4" y2="239.3" stroke="#000" stroke-width="2.1" />
<line x1="52" y1="233.48" x2="53.4" y2="233.48" stroke="#000" stroke-width="2.1" />
<line x1="362.3" y1="394" x2="358.3" y2="394" stroke="#000" stroke-width="2.1" />
<line x1="362.3" y1="307" x2="358.3" y2="307" stroke="#000" stroke-width="2.1" />
<line x1="362.3" y1="428.62" x2="360.9" y2="428.62" stroke="#000" stroke-width="2.1" />
<line x1="362.3" y1="420.19" x2="360.9" y2="420.19" stroke="#000" stroke-width="2.1" />
<line x1="362.3" y1="413.3" x2="360.9" y2="413.3" stroke="#000" stroke-width="2.1" />
<line x1="362.3" y1="407.48" x2="360.9" y2="407.48" stroke="#000" stroke-width="2.1" />
<line x1="362.3" y1="402.43" x2="360.9" y2="402.43" stroke="#000" stroke-width="2.1" />
<line x1="362.3" y1="397.98" x2="360.9" y2="397.98" stroke="#000" stroke-width="2.1" />
<line x1="362.3" y1="367.81" x2="360.9" y2="367.81" stroke="#000" stroke-width="2.1" />
<line x1="362.3" y1="352.49" x2="360.9" y2="352.49" stroke="#000" stroke-width="2.1" />
<line x1="362.3" y1="341.62" x2="360.9" y2="341.62" stroke="#000" stroke-width="2.1" />
<line x1="362.3" y1="333.19" x2="360.9" y2="333.19" stroke="#000" stroke-width="2.1" />
<line x1="362.3" y1="326.3" x2="360.9" y2="326.3" stroke="#000" stroke-width="2.1" />
<line x1="362.3" y1="320.48" x2="360.9" y2="320.48" stroke="#000" stroke-width="2.1" />
<line x1="362.3" y1="315.43" x2="360.9" y2="315.43" stroke="#000" stroke-width="2.1" />
<line x1="362.3" y1="310.98" x2="360.9" y2="310.98" stroke="#000" stroke-width="2.1" />
<line x1="362.3" y1="280.81" x2="360.9" y2="280.81" stroke="#000" stroke-width="2.1" />
<line x1="362.3" y1="265.49" x2="360.9" y2="265.49" stroke="#000" stroke-width="2.1" />
<line x1="362.3" y1="254.62" x2="360.9" y2="254.62" stroke="#000" stroke-width="2.1" />
<line x1="362.3" y1="246.19" x2="360.9" y2="246.19" stroke="#000" stroke-width="2.1" />
<line x1="362.3" y1="239.3" x2="360.9" y2="239.3" stroke="#000" stroke-width="2.1" />
<line x1="362.3" y1="233.48" x2="360.9" y2="233.48" stroke="#000" stroke-width="2.1" />
<line x1="364.75" y1="394.7" x2="368.75" y2="394.7" stroke="#000" stroke-width="2.1" />
<line x1="364.75" y1="307.7" x2="368.75" y2="307.7" stroke="#000" stroke-width="2.1" />
<line x1="364.75" y1="429.32" x2="366.15" y2="429.32" stroke="#000" stroke-width="2.1" />
<line x1="364.75" y1="420.89" x2="366.15" y2="420.89" stroke="#000" stroke-width="2.1" />
<line x1="364.75" y1="414" x2="366.15" y2="414" stroke="#000" stroke-width="2.1" />
<line x1="364.75" y1="408.18" x2="366.15" y2="408.18" stroke="#000" stroke-width="2.1" />
<line x1="364.75" y1="403.13" x2="366.15" y2="403.13" stroke="#000" stroke-width="2.1" />
<line x1="364.75" y1="398.68" x2="366.15" y2="398.68" stroke="#000" stroke-width="2.1" />
<line x1="364.75" y1="368.51" x2="366.15" y2="368.51" stroke="#000" stroke-width="2.1" />
<line x1="364.75" y1="353.19" x2="366.15" y2="353.19" stroke="#000" stroke-width="2.1" />
<line x1="364.75" y1="342.32" x2="366.15" y2="342.32" stroke="#000" stroke-width="2.1" />
<line x1="364.75" y1="333.89" x2="366.15" y2="333.89" stroke="#000" stroke-width="2.1" />
<line x1="364.75" y1="327" x2="366.15" y2="327" stroke="#000" stroke-width="2.1" />
<line x1="364.75" y1="321.18" x2="366.15" y2="321.18" stroke="#000" stroke-width="2.1" />
<line x1="364.75" y1="316.13" x2="366.15" y2="316.13" stroke="#000" stroke-width="2.1" />
<line x1="364.75" y1="311.68" x2="366.15" y2="311.68" stroke="#000" stroke-width="2.1" />
<line x1="364.75" y1="281.51" x2="366.15" y2="281.51" stroke="#000" stroke-width="2.1" />
<line x1="364.75" y1="266.19" x2="366.15" y2="266.19" stroke="#000" stroke-width="2.1" />
<line x1="364.75" y1="255.32" x2="366.15" y2="255.32" stroke="#000" stroke-width="2.1" />
<line x1="364.75" y1="246.89" x2="366.15" y2="246.89" stroke="#000" stroke-width="2.1" />
<line x1="364.75" y1="240" x2="366.15" y2="240" stroke="#000" stroke-width="2.1" />
<line x1="364.75" y1="234.18" x2="366.15" y2="234.18" stroke="#000" stroke-width="2.1" />
<line x1="675.3" y1="394.7" x2="671.3" y2="394.7" stroke="#000" stroke-width="2.1" />
<line x1="675.3" y1="307.7" x2="671.3" y2="307.7" stroke="#000" stroke-width="2.1" />
<line x1="675.3" y1="429.32" x2="673.9" y2="429.32" stroke="#000" stroke-width="2.1" />
<line x1="675.3" y1="420.89" x2="673.9" y2="420.89" stroke="#000" stroke-width="2.1" />
<line x1="675.3" y1="414" x2="673.9" y2="414" stroke="#000" stroke-width="2.1" />
<line x1="675.3" y1="408.18" x2="673.9" y2="408.18" stroke="#000" stroke-width="2.1" />
<line x1="675.3" y1="403.13" x2="673.9" y2="403.13" stroke="#000" stroke-width="2.1" />
<line x1="675.3" y1="398.68" x2="673.9" y2="398.68" stroke="#000" stroke-width="2.1" />
<line x1="675.3" y1="368.51" x2="673.9" y2="368.51" stroke="#000" stroke-width="2.1" />
<line x1="675.3" y1="353.19" x2="673.9" y2="353.19" stroke="#000" stroke-width="2.1" />
<line x1="675.3" y1="342.32" x2="673.9" y2="342.32" stroke="#000" stroke-width="2.1" />
<line x1="675.3" y1="333.89" x2="673.9" y2="333.89" stroke="#000" stroke-width="2.1" />
<line x1="675.3" y1="327" x2="673.9" y2="327" stroke="#000" stroke-width="2.1" />
<line x1="675.3" y1="321.18" x2="673.9" y2="321.18" stroke="#000" stroke-width="2.1" />
<line x1="675.3" y1="316.13" x2="673.9" y2="316.13" stroke="#000" stroke-width="2.1" />
<line x1="675.3" y1="311.68" x2="673.9" y2="311.68" stroke="#000" stroke-width="2.1" />
<line x1="675.3" y1="281.51" x2="673.9" y2="281.51" stroke="#000" stroke-width="2.1" />
<line x1="675.3" y1="266.19" x2="673.9" y2="266.19" stroke="#000" stroke-width="2.1" />
<line x1="675.3" y1="255.32" x2="673.9" y2="255.32" stroke="#000" stroke-width="2.1" />
<line x1="675.3" y1="246.89" x2="673.9" y2="246.89" stroke="#000" stroke-width="2.1" />
<line x1="675.3" y1="240" x2="673.9" y2="240" stroke="#000" stroke-width="2.1" />
<line x1="675.3" y1="234.18" x2="673.9" y2="234.18" stroke="#000" stroke-width="2.1" />
<text x="44.6" y="91.1" font-size="11.8" text-anchor="end" font-weight="normal" font-style="normal" fill="#000" stroke="#000" stroke-width="0.4" >1000</text>
<text x="44.6" y="212.9" font-size="11.8" text-anchor="end" font-weight="normal" font-style="normal" fill="#000" stroke="#000" stroke-width="0.4" >100</text>
<text x="39.5" y="310.7" font-size="11.8" text-anchor="end" font-weight="normal" font-style="normal" fill="#000" stroke="#000" stroke-width="0.4" >10</text>
<text x="40.2" y="305.6" font-size="8.2" text-anchor="start" font-weight="normal" font-style="normal" fill="#000" stroke="#000" stroke-width="0.4" >6</text>
<text x="39.5" y="397.9" font-size="11.8" text-anchor="end" font-weight="normal" font-style="normal" fill="#000" stroke="#000" stroke-width="0.4" >10</text>
<text x="40.2" y="392.8" font-size="8.2" text-anchor="start" font-weight="normal" font-style="normal" fill="#000" stroke="#000" stroke-width="0.4" >5</text>
<text x="81.2" y="453.8" font-size="11.6" text-anchor="middle" font-weight="normal" font-style="normal" fill="#000" stroke="#000" stroke-width="0.4" >1</text>
<text x="222.5" y="453.8" font-size="11.6" text-anchor="middle" font-weight="normal" font-style="normal" fill="#000" stroke="#000" stroke-width="0.4" >10</text>
<text x="363.2" y="453.8" font-size="11.6" text-anchor="middle" font-weight="normal" font-style="normal" fill="#000" stroke="#000" stroke-width="0.4" >100</text>
<text x="394.8" y="453.8" font-size="11.6" text-anchor="middle" font-weight="normal" font-style="normal" fill="#000" stroke="#000" stroke-width="0.4" >1</text>
<text x="535.4" y="453.8" font-size="11.6" text-anchor="middle" font-weight="normal" font-style="normal" fill="#000" stroke="#000" stroke-width="0.4" >10</text>
<text x="675.4" y="453.8" font-size="11.6" text-anchor="middle" font-weight="normal" font-style="normal" fill="#000" stroke="#000" stroke-width="0.4" >100</text>
<text x="0" y="0" font-size="12" stroke="#000" stroke-width="0.55" transform="translate(189.2,470.6)"><tspan font-weight="bold" font-style="italic">T</tspan><tspan dx="2.2">[mK]</tspan></text>
<text x="0" y="0" font-size="12" stroke="#000" stroke-width="0.55" transform="translate(503,470.6)"><tspan font-weight="bold" font-style="italic">T</tspan><tspan dx="2.2">[mK]</tspan></text>
<text x="0" y="0" font-size="12" stroke="#000" stroke-width="0.65" transform="translate(9.2,126) rotate(-90)"><tspan font-family="Liberation Serif, serif" stroke-width="0" fill="#333">τ</tspan> <tspan>[s]</tspan></text>
<text x="0" y="0" font-size="12" stroke="#000" stroke-width="0.65" transform="translate(13.8,360.8) rotate(-90)"><tspan font-weight="bold" font-style="italic" font-size="11.4" stroke-width="0.3">R</tspan><tspan font-size="8.8" dy="2.2">th</tspan><tspan dy="-2.2"> [KW</tspan><tspan font-size="8" dy="-4">−1</tspan><tspan dy="4">]</tspan></text>
<text x="0" y="0" font-size="12" fill="#4c55bd" stroke="#4c55bd" stroke-width="0.4" transform="translate(77.3,467)"><tspan font-style="italic">T</tspan><tspan font-size="8.5" dy="3.5" dx="-1.6">c</tspan></text>
<text x="0" y="0" font-size="12" fill="#e0392c" stroke="#e0392c" stroke-width="0.4" transform="translate(439.8,460.3)"><tspan font-style="italic">T</tspan><tspan font-size="8.5" dy="3.5" dx="-1.6">c</tspan></text>
<text x="0" y="0" font-size="15.8" font-weight="bold" stroke="#000" stroke-width="0.4" transform="translate(346.6,20.6) scale(1,1.15)">a</text>
<text x="0" y="0" font-size="15.8" font-weight="bold" stroke="#000" stroke-width="0.4" transform="translate(659.6,20.6) scale(1,1.15)">b</text>
<text x="0" y="0" font-size="15.8" font-weight="bold" stroke="#000" stroke-width="0.4" transform="translate(346.9,247.8) scale(1,1.15)">c</text>
<text x="0" y="0" font-size="15.8" font-weight="bold" stroke="#000" stroke-width="0.4" transform="translate(659.6,247.8) scale(1,1.15)">d</text>
<text x="206" y="428.7" font-size="11.5" text-anchor="start" font-weight="bold" font-style="normal" fill="#4c55bd" stroke="#4c55bd" stroke-width="0.4" >0 bar</text>
<text x="512.5" y="428.1" font-size="11.5" text-anchor="start" font-weight="bold" font-style="normal" fill="#e0392c" stroke="#e0392c" stroke-width="0.4" >22 bar</text>
<text x="67.6" y="73.3" font-size="12" text-anchor="start" font-weight="normal" font-style="normal" fill="#000" stroke="#000" stroke-width="0.4" transform="rotate(-90 67.6 73.3)" >Superfluid</text>
<text x="98.4" y="74.5" font-size="12" text-anchor="start" font-weight="normal" font-style="normal" fill="#000" stroke="#000" stroke-width="0.4" transform="rotate(-90 98.4 74.5)" >Normal fluid</text>
<text x="431.2" y="430.3" font-size="12" text-anchor="start" font-weight="normal" font-style="normal" fill="#000" stroke="#000" stroke-width="0.4" transform="rotate(-90 431.2 430.3)" >Superfluid</text>
<text x="464.4" y="430.3" font-size="12" text-anchor="start" font-weight="normal" font-style="normal" fill="#000" stroke="#000" stroke-width="0.4" transform="rotate(-90 464.4 430.3)" >Normal fluid</text></svg>
</body></html>
